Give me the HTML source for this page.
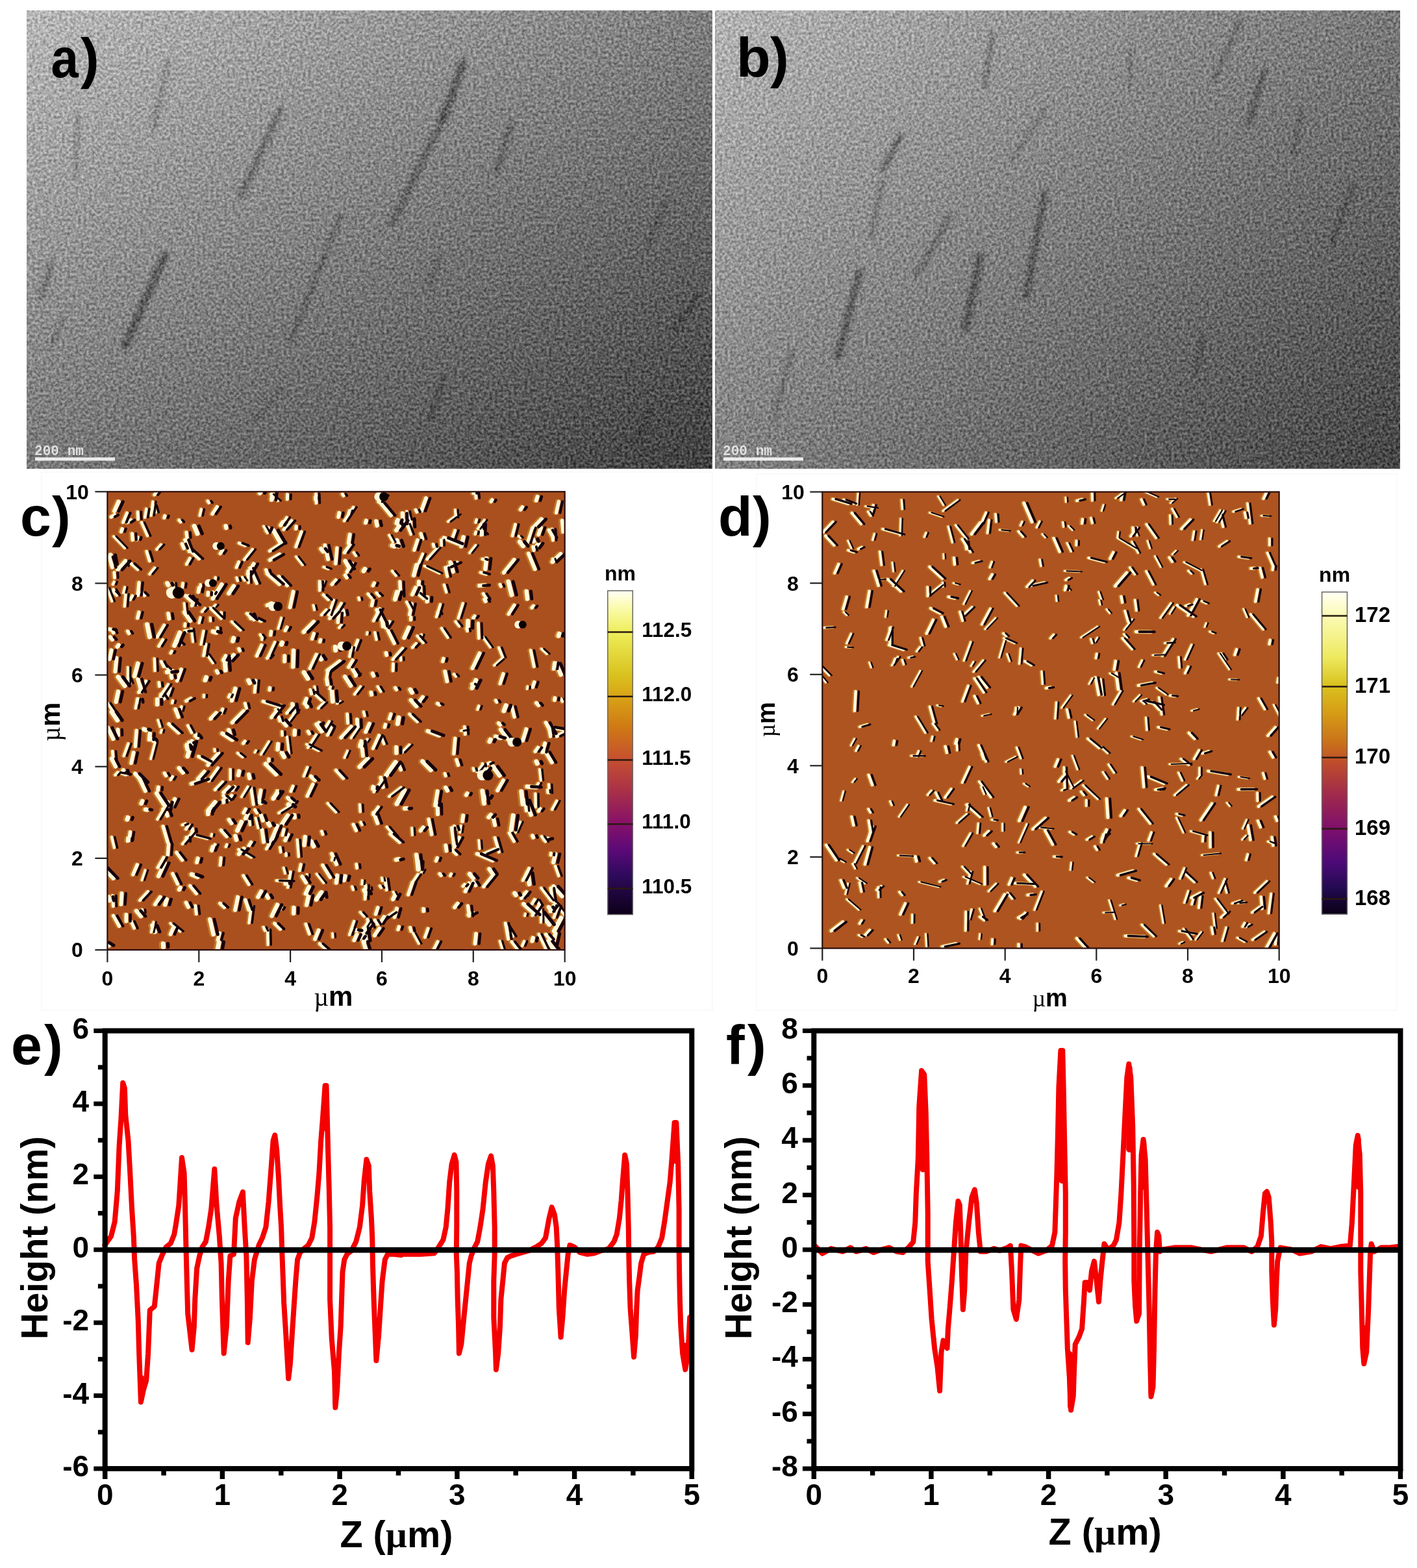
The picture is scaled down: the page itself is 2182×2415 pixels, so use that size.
<!DOCTYPE html>
<html><head><meta charset="utf-8"><title>Figure</title>
<style>html,body{margin:0;padding:0;background:#fff;} svg{display:block;}</style>
</head><body>
<svg xmlns="http://www.w3.org/2000/svg" width="2182" height="2415" viewBox="0 0 2182 2415">
<defs>
<filter id="blur3" x="-50%" y="-50%" width="200%" height="200%"><feGaussianBlur stdDeviation="3"/></filter>
<filter id="blur2" x="-50%" y="-50%" width="200%" height="200%"><feGaussianBlur stdDeviation="2"/></filter>
<filter id="soft" x="-5%" y="-5%" width="110%" height="110%"><feGaussianBlur stdDeviation="0.6"/></filter>
<linearGradient id="temA" gradientUnits="userSpaceOnUse" x1="41" y1="17" x2="631.6" y2="1001.3"><stop offset="0" stop-color="#b8b8b8"/><stop offset="1" stop-color="#404040"/></linearGradient>
<linearGradient id="temB" gradientUnits="userSpaceOnUse" x1="1101" y1="17" x2="1837.5" y2="968.5"><stop offset="0" stop-color="#b4b4b4"/><stop offset="1" stop-color="#454545"/></linearGradient>
<filter id="nA" filterUnits="userSpaceOnUse" x="41" y="16" width="1056" height="706" color-interpolation-filters="sRGB">
<feTurbulence type="fractalNoise" baseFrequency="0.24" numOctaves="2" seed="5" result="t"/>
<feColorMatrix in="t" type="matrix" values="1 0 0 0 0  1 0 0 0 0  1 0 0 0 0  0 0 0 0 1" result="g"/>
<feComposite in="SourceGraphic" in2="g" operator="arithmetic" k1="0" k2="1" k3="0.55" k4="-0.275"/>
</filter>
<filter id="nB" filterUnits="userSpaceOnUse" x="1101" y="16" width="1055" height="706" color-interpolation-filters="sRGB">
<feTurbulence type="fractalNoise" baseFrequency="0.24" numOctaves="2" seed="9" result="t"/>
<feColorMatrix in="t" type="matrix" values="1 0 0 0 0  1 0 0 0 0  1 0 0 0 0  0 0 0 0 1" result="g"/>
<feComposite in="SourceGraphic" in2="g" operator="arithmetic" k1="0" k2="1" k3="0.55" k4="-0.275"/>
</filter>
<linearGradient id="cbc" x1="0" y1="0" x2="0" y2="1">
<stop offset="0" stop-color="#fffff4"/>
<stop offset="0.05" stop-color="#fbfbb0"/>
<stop offset="0.128" stop-color="#eeee5a"/>
<stop offset="0.26" stop-color="#d9c21e"/>
<stop offset="0.33" stop-color="#d9a216"/>
<stop offset="0.42" stop-color="#cf7a14"/>
<stop offset="0.52" stop-color="#c65030"/>
<stop offset="0.62" stop-color="#a83048"/>
<stop offset="0.72" stop-color="#86106a"/>
<stop offset="0.80" stop-color="#5c0a78"/>
<stop offset="0.88" stop-color="#2e0a5c"/>
<stop offset="1" stop-color="#0c0018"/>
</linearGradient>
<linearGradient id="cbd" x1="0" y1="0" x2="0" y2="1">
<stop offset="0" stop-color="#fffff4"/>
<stop offset="0.07" stop-color="#fbfbb8"/>
<stop offset="0.20" stop-color="#eeea60"/>
<stop offset="0.29" stop-color="#d9c21e"/>
<stop offset="0.38" stop-color="#d69a16"/>
<stop offset="0.47" stop-color="#c9701a"/>
<stop offset="0.53" stop-color="#bf4c2c"/>
<stop offset="0.63" stop-color="#a02a4c"/>
<stop offset="0.74" stop-color="#7c0e6e"/>
<stop offset="0.84" stop-color="#4c0a78"/>
<stop offset="0.92" stop-color="#220a50"/>
<stop offset="1" stop-color="#0a0014"/>
</linearGradient>
</defs>
<rect x="0" y="0" width="2182" height="2415" fill="#fff"/>
<g filter="url(#nA)">
<rect x="41" y="16" width="1056" height="706" fill="url(#temA)"/>
<g clip-path="url(#cliptemA)">
<line x1="713" y1="97" x2="683" y2="181" stroke="#202020" stroke-width="12" stroke-linecap="round" opacity="0.47" filter="url(#blur3)"/>
<line x1="683" y1="181" x2="604" y2="344" stroke="#202020" stroke-width="10" stroke-linecap="round" opacity="0.38" filter="url(#blur3)"/>
<line x1="432" y1="169" x2="371" y2="302" stroke="#202020" stroke-width="9" stroke-linecap="round" opacity="0.38" filter="url(#blur3)"/>
<line x1="254" y1="393" x2="193" y2="532" stroke="#202020" stroke-width="12" stroke-linecap="round" opacity="0.47" filter="url(#blur3)"/>
<line x1="525" y1="332" x2="447" y2="525" stroke="#202020" stroke-width="7" stroke-linecap="round" opacity="0.34" filter="url(#blur3)"/>
<line x1="260" y1="91" x2="236" y2="199" stroke="#202020" stroke-width="6" stroke-linecap="round" opacity="0.30" filter="url(#blur3)"/>
<line x1="788" y1="187" x2="764" y2="266" stroke="#202020" stroke-width="7" stroke-linecap="round" opacity="0.38" filter="url(#blur3)"/>
<line x1="79" y1="405" x2="63" y2="459" stroke="#202020" stroke-width="8" stroke-linecap="round" opacity="0.34" filter="url(#blur3)"/>
<line x1="1027" y1="308" x2="997" y2="375" stroke="#202020" stroke-width="6" stroke-linecap="round" opacity="0.34" filter="url(#blur3)"/>
<line x1="1075" y1="453" x2="1039" y2="507" stroke="#202020" stroke-width="8" stroke-linecap="round" opacity="0.38" filter="url(#blur3)"/>
<line x1="683" y1="580" x2="664" y2="646" stroke="#202020" stroke-width="7" stroke-linecap="round" opacity="0.38" filter="url(#blur3)"/>
<line x1="1003" y1="628" x2="979" y2="683" stroke="#202020" stroke-width="6" stroke-linecap="round" opacity="0.34" filter="url(#blur3)"/>
<line x1="676" y1="393" x2="661" y2="441" stroke="#202020" stroke-width="6" stroke-linecap="round" opacity="0.34" filter="url(#blur3)"/>
<line x1="121" y1="175" x2="115" y2="272" stroke="#202020" stroke-width="6" stroke-linecap="round" opacity="0.26" filter="url(#blur3)"/>
<line x1="435" y1="598" x2="393" y2="646" stroke="#202020" stroke-width="5" stroke-linecap="round" opacity="0.26" filter="url(#blur3)"/>
<line x1="97" y1="489" x2="79" y2="532" stroke="#202020" stroke-width="5" stroke-linecap="round" opacity="0.26" filter="url(#blur3)"/>
</g>
</g>
<clipPath id="cliptemA"><rect x="41" y="16" width="1056" height="706"/></clipPath>
<text transform="translate(78.5,119) scale(0.885,1)" font-family="'Liberation Sans', Arial, Helvetica, sans-serif" font-size="86" font-weight="bold">a</text>
<text x="124.0" y="119.0" font-family="'Liberation Sans', Arial, Helvetica, sans-serif" font-size="86" font-weight="bold" text-anchor="start" fill="#000" >)</text>
<rect x="54" y="704.5" width="123" height="5" fill="#f2f2f2" opacity="0.95"/>
<text x="53" y="700.5" font-family="'Liberation Mono', 'Courier New', monospace" font-size="22" font-weight="bold" fill="#e8e8e8" opacity="0.92" textLength="76" lengthAdjust="spacingAndGlyphs">200 nm</text>
<g filter="url(#nB)">
<rect x="1101" y="16" width="1055" height="706" fill="url(#temB)"/>
<g clip-path="url(#cliptemB)">
<line x1="1388" y1="209" x2="1359" y2="261" stroke="#202020" stroke-width="9" stroke-linecap="round" opacity="0.42" filter="url(#blur3)"/>
<line x1="1359" y1="278" x2="1342" y2="365" stroke="#202020" stroke-width="6" stroke-linecap="round" opacity="0.34" filter="url(#blur3)"/>
<line x1="1324" y1="418" x2="1290" y2="551" stroke="#202020" stroke-width="10" stroke-linecap="round" opacity="0.47" filter="url(#blur3)"/>
<line x1="1464" y1="331" x2="1412" y2="423" stroke="#202020" stroke-width="7" stroke-linecap="round" opacity="0.38" filter="url(#blur3)"/>
<line x1="1609" y1="296" x2="1580" y2="458" stroke="#202020" stroke-width="9" stroke-linecap="round" opacity="0.47" filter="url(#blur3)"/>
<line x1="1510" y1="394" x2="1487" y2="505" stroke="#202020" stroke-width="11" stroke-linecap="round" opacity="0.47" filter="url(#blur3)"/>
<line x1="1609" y1="168" x2="1557" y2="249" stroke="#202020" stroke-width="5" stroke-linecap="round" opacity="0.30" filter="url(#blur3)"/>
<line x1="1946" y1="110" x2="1923" y2="191" stroke="#202020" stroke-width="8" stroke-linecap="round" opacity="0.42" filter="url(#blur3)"/>
<line x1="1911" y1="29" x2="1870" y2="122" stroke="#202020" stroke-width="6" stroke-linecap="round" opacity="0.34" filter="url(#blur3)"/>
<line x1="1528" y1="52" x2="1516" y2="133" stroke="#202020" stroke-width="7" stroke-linecap="round" opacity="0.34" filter="url(#blur3)"/>
<line x1="1742" y1="75" x2="1739" y2="133" stroke="#202020" stroke-width="6" stroke-linecap="round" opacity="0.34" filter="url(#blur3)"/>
<line x1="2085" y1="284" x2="2050" y2="377" stroke="#202020" stroke-width="7" stroke-linecap="round" opacity="0.38" filter="url(#blur3)"/>
<line x1="2004" y1="168" x2="1992" y2="238" stroke="#202020" stroke-width="6" stroke-linecap="round" opacity="0.34" filter="url(#blur3)"/>
<line x1="1853" y1="516" x2="1841" y2="575" stroke="#202020" stroke-width="6" stroke-linecap="round" opacity="0.38" filter="url(#blur3)"/>
<line x1="1220" y1="540" x2="1191" y2="644" stroke="#202020" stroke-width="6" stroke-linecap="round" opacity="0.30" filter="url(#blur3)"/>
</g>
</g>
<clipPath id="cliptemB"><rect x="1101" y="16" width="1055" height="706"/></clipPath>
<text x="1134.0" y="118.0" font-family="'Liberation Sans', Arial, Helvetica, sans-serif" font-size="86" font-weight="bold" text-anchor="start" fill="#000" >b</text>
<text x="1186.0" y="118.0" font-family="'Liberation Sans', Arial, Helvetica, sans-serif" font-size="86" font-weight="bold" text-anchor="start" fill="#000" >)</text>
<rect x="1114" y="704.5" width="123" height="5" fill="#f2f2f2" opacity="0.95"/>
<text x="1113" y="700.5" font-family="'Liberation Mono', 'Courier New', monospace" font-size="22" font-weight="bold" fill="#e8e8e8" opacity="0.92" textLength="76" lengthAdjust="spacingAndGlyphs">200 nm</text>
<rect x="64" y="727" width="1033" height="829" fill="none" stroke="#f5f5f5" stroke-width="1.2"/>
<rect x="165.4" y="757.3" width="704.3" height="705.7" fill="#aa501e"/>
<clipPath id="clipafm11"><rect x="165.4" y="757.3" width="704.3" height="705.7"/></clipPath>
<g clip-path="url(#clipafm11)"><g filter="url(#soft)">
<path d="M842.1 1220.9L841.7 1216.7M556.1 1361.8L556.7 1355.9M564 976.9L564.5 973.9M410.8 820.9L404.9 810.6M529.3 1166.9L533.9 1156.4M245.3 1119.2L242.1 1109.1M192.9 871.8L192.2 863.8M733.4 1188.7L741.8 1177.8M427.7 1097.6L422.8 1092.4M810.7 1060.9L811.2 1057.3M539.4 1136.6L550.7 1119.9M792.8 1281.9L800 1265.9M800.1 828.1L797.3 825.6M561.6 1142.9L564.6 1138.5M284 945L282.5 929.3M464.8 870L454.9 857.4M851.3 865.5L849.6 860.6M327.9 934.9L330.8 931.5M722 851.6L731.4 839.8M774.3 1468.6L768.4 1449.3M231.6 1435.8L235.3 1420.1M606.6 1378L604.5 1373.8M191.1 844L173.9 826.2M324.3 1287.7L324.9 1284.7M753.8 996.9L742.3 980.9M700.5 797.1L699.9 785.2M231 1168.7L237.4 1143.9M427.2 968.2L432.1 951.6M587.5 1356.6L586.8 1352M400.8 1161.9L413 1142.1M560.4 1427.5L566.1 1418.7M484.7 1067.4L483.3 1057.5M647.2 1344.6L649.8 1339.3M326.7 1021.1L317.1 1007.6M443.8 1160.2L440.8 1134.7M688.8 803.3L704.2 792M511.3 1443.6L510.9 1437.7M497.3 1359.7L486.4 1346.1M258.2 1030.6L252.6 1025.2M760 1024.7L770.8 1015.2M643.7 1453.3L635 1437.3M831.5 1201.8L829.7 1185.1M494.4 903.8L497.3 895.4M391.4 1158.7L393.1 1156M734.5 814.4L744.8 800.9M199.8 1052.2L196.7 1044.4M171.2 926L163.5 905.7M831.8 1420.6L831.3 1399.9M737.3 1307.2L736.2 1294.2M807 1410.5L807.7 1407.4M675.7 882.9L652.4 871.8M645.7 984.5L648 977.4M427 771.2L416 761.2M841 1007L832.6 999.3M396.3 1275.2L392.5 1259.9M438 1345.2L435.5 1336.6M708.8 1125.5L716.8 1123.9M517.9 1083.4L522.9 1080.5M217.4 1355.5L222.5 1340.3M402.1 985.3L402.4 981.6M375.6 894.1L371.8 888.8M707 1282L708.6 1271.7M483 939.2L481.4 932.3M295.9 988.5L293.4 968.4M195.5 1052.7L195.7 1027.8M442.7 1111.5L456.1 1093.5M603.9 834.9L598.1 824.2M633.8 1286.1L633.1 1275.2M509.5 1325.1L510.7 1321M471.4 1352L471.7 1346.8M370.8 1227.4L380.6 1211.6M188.8 913L191 904.4M246.5 1128.4L247.7 1124.3" stroke="#d89a2c" stroke-width="6.0" stroke-linecap="round" opacity="0.55" fill="none"/>
<path d="M441.9 1366.8L446.1 1342.7M309.9 942.1L314.5 937M566.9 1370.9L566.5 1366.7M742.7 1180.4L741.7 1176.1M350.7 1073.8L352.6 1069.8M439.3 1317.9L439 1314.4M731.2 804.6L732.6 800.4M245.2 1072.7L257.7 1054M589.7 1415.5L604.8 1405M650.4 989.7L641.4 979.5M382.2 1421.4L385.5 1395.6M670.7 950L676.8 930.8M238.3 789L235.3 778.5M176.2 1193.6L180 1189.5M617.6 1158.8L629.2 1147.1M458.6 1319.2L456.4 1293.4M560.1 1102.5L558.7 1096.4M631.4 822.8L625.3 807.2M225.8 825.2L216.6 804.7M433.3 1132.6L433 1126.7M175 1098.7L164.3 1083M385.7 1320.3L366 1308.4M329.4 1156.9L329.1 1153.9M237.2 1033.1L236.5 1014.4M172.7 899.9L174.4 896.3M656.3 861.3L672.3 843.7M535 792.2L536.8 786.4M431 1312.3L429.9 1305.1M546.8 855.6L543.5 851M305.2 959.2L307.3 951.1M436.4 802.5L440.4 796.9M383.6 1270.3L381.8 1254.8M428.1 1252.1L444.4 1242.1M686.1 912.1L682.6 900.8M536.9 1439.6L543.8 1419M231.3 793.8L234.1 772.8M447 1357L424.5 1356.2M403 982.2L399.4 977.5M207.6 1090.7L210.2 1076.3M607.2 1288.3L594.4 1273.6M829.2 1392.6L825.4 1386.4M718.4 972L717.4 968.3M520.9 966.7L524.6 962.8M489.4 1155.9L470.9 1146.5M578.3 985.1L576 974.3M478.1 1068.9L476.6 1062.3M559.5 1411.3L553.6 1405M516 1250.6L503.3 1237.3M847.6 1404.1L850.9 1394.4M276.3 1434.3L261.3 1422.2M704.5 952L711.6 929.4M397.9 1236.2L398.5 1231M700.6 1041.5L697.8 1038.4M178.4 917L173.3 907.7M808.8 1248.9L807.1 1232.7M381.2 897.4L380.4 879.6M426.3 1224.4L425.3 1217.9M585.7 1367.3L583.6 1364.4M276.3 1094.8L278.1 1088.3M189.4 1164.1L196.2 1145.4M529 802.3L543 781.1M330 892.8L330.5 889.5M221.9 796.7L224 783.7M364.6 894.4L363.2 889.8M369.2 970.3L355.6 957.6M639.9 875.9L649.8 853.2M493.9 947.1L501.3 939.2M312.5 1073.6L312.7 1070.4M306.3 794L308.6 784.4M616 1016.8L615.8 1012.4M634.3 1358.6L642.3 1346.7M411.4 1455L410.8 1431.8M730.5 822.6L731.5 819.2M838.7 1296.2L832.7 1288.2M279.7 1299.8L295.2 1281.8M374.8 862L387.5 846.1M174.6 1305.5L170.8 1289.3M190.7 933.8L192.2 915.2M744 820.9L740.7 820.4M279.5 1270.6L284 1268.7M728.5 1186.8L727.5 1183.3M574.5 1219.6L586 1203.3M353.4 1200.2L353.3 1184.9M263.8 1082.7L264.7 1079.1M307.7 903.4L307.3 900.3M406.6 1433.2L404.4 1428.1M372.3 1165.8L364.8 1160M322.7 956.3L322.4 951.6M705.9 964.4L700.2 957.3M839.5 1462L828.4 1438.7M504.3 876L497.3 873.4M844.6 1221.2L843.9 1208.3M864.8 1080.5L862.8 1076.5M496.8 1125.8L505.5 1111.3M585.1 1065L580.4 1057.5M504.6 947.2L512.5 924.4M859.1 1348.9L853.7 1334.1M630.3 937.7L624.9 927.2M823.4 1242.8L823.1 1222.6M488.9 1090.8L497.8 1081.8M846.6 1386.7L832.2 1367.7M466.6 1195.3L472.1 1181.8M506.3 1060.8L507.4 1057.8M196.3 1192.4L181.9 1190.2M688.2 981.8L678.7 967.7M678.4 840.1L678 831.5M556.1 1270.2L554.1 1266.4M590 1145.6L585.4 1134.3M802.9 1456.7L805.8 1449.8M738.8 814.5L738.5 807.2M552 923.9L551.1 920.6M229.1 884.2L237 874.7M628.2 800.1L625.2 787.7M472.8 1151.4L485.5 1131.7M734.1 1092.6L736 1087.4M337 950.5L322.6 936.3M308.2 992.3L312.1 972M346.6 1304.1L348.1 1300.9M218.1 1405.3L217.6 1400.9M868.2 1409.4L852.3 1390M542.6 1370.3L541 1365.7M824 1212.6L827.7 1206.5M597.9 1226.7L616.2 1212.9M240 846.2L246.8 838.8M241.3 1261.8L252.9 1242M553.5 1250.2L552.8 1239.2M608.6 886.4L602.7 879.6M318.1 1291.7L297.1 1286M412.3 1010L422 989.1M293.8 1128.4L288 1117.4M544.8 1069.2L553.9 1057.6M266.5 912.4L265.2 897.9M849 1246.6L856.1 1233.5M537 1011.3L539.5 996.9M772.8 1012.5L767 997.6" stroke="#d89a2c" stroke-width="6.5" stroke-linecap="round" opacity="0.55" fill="none"/>
<path d="M435.4 815.7L447.7 802M244 1057.1L243.4 1051.3M454.2 842.1L462.8 819M653 1443.4L657.7 1430.1M504.2 923.4L496.6 916.2M518.2 938.9L524.2 929.3M593.7 1370.4L591.3 1353.4M810.7 836L818.3 813M172.9 1395.7L172.1 1379.6M205.2 1429.5L200.5 1419.3M241.5 1336.2L250.6 1320.5M818.3 1409.8L829 1393.9M817.9 1391.9L821.9 1385.5M641.3 1111.4L629.2 1100M728.2 1056.1L725.1 1053.5M279.3 904.6L280.2 898.5M582.7 917.4L578.4 913.3M548.2 1336.8L547.4 1331.1M377.9 1090.6L376 1083.4M592.4 967.1L598.7 957.4M228.9 864L224.4 849.4M748.7 1176.6L753.5 1174.6M697.1 1300.6L693.9 1275M333.6 970.1L333.3 966.9M285.9 869L291 859.9M820.9 1026.6L815.8 1001.8M770 903.2L768.6 900.2M175 889.8L174.4 881.7M409 1307.3L421 1288M214 1386.6L226.4 1373.4M440.1 1098.3L450.1 1087.1M349.8 1232L342.4 1225.5M570.5 1428.6L564.4 1416.1M429.5 1400.8L431.7 1397.6M243.2 995.2L249.3 985.3M261.4 1200.7L264.2 1196.4M570.5 920.5L565.3 914.8M603.5 1015.6L618.5 998.7M261.5 1005.8L263.1 1003.2M393.9 898.4L383.3 875.1M337.6 1332.6L338.8 1321.2M767 1312.1L760.7 1290.4M459.8 1340.8L461.8 1331.4M433.5 1286.4L435.8 1277.3M474.9 1438.4L469.5 1423.4M573 1152.7L582.3 1132.4M846.1 1134.4L844 1121.1M339 952.4L339.3 943.5M851.5 1413L857.4 1395.5M394.2 1251.9L391.1 1247.1M381.8 1362.1L373.3 1348.6M674.1 945.5L673.1 942.7M475.5 1029.6L485.7 1007.9M714.9 1130.7L713.9 1119.5M731.7 767.2L729.5 748.4M338.8 1098.6L341.4 1092.1M413.9 848.6L433.8 835.6M735.9 982.9L735 959.8M389.5 954.7L378.8 945M495.6 1285L494 1280.5M211.2 799.7L210.7 788.5M240.7 981.1L251.5 962.8M300.9 1407.7L299.4 1395.1M534.1 1113.7L533.3 1099.8M410.1 1013.6L414.5 1009.1M573.9 956.1L583.3 937.7M790.1 1295.8L782.7 1283M320.3 774.2L318.5 771.7M176 914.3L172.4 910.9M603.7 1032.9L604 1022.5M744.3 862.1L741.4 861M276.8 803.8L274.2 801M501.9 1041.8L503.1 1034.5M446.5 1218.8L449.7 1210.9M787.7 825.2L792.1 807.9M744.4 822.7L741.3 822.3M727.3 759.8L727.8 756.4M212.1 1066.3L223.2 1049.2M633.9 997.1L639.3 991.4M376.2 840.3L366.8 836.5M820.6 847.7L819.2 842M748.2 922.4L742.8 914.5M795.7 1462.5L786.4 1450.4M236.5 762.1L239.8 757.8M485.6 774.7L485.1 760.5M441 768.9L441.2 761.6M299.1 1133.4L299.8 1130.4M503 1132.2L508.3 1122M388.8 1239L385 1213.6M210.6 877L200.6 868M325.2 914.7L326.7 912.1M312.1 1009.9L315.4 992.2M763.6 1081.4L761.9 1078.7M173.1 1170.7L171.9 1157.2M329.9 1216.3L341.5 1204.4M845.6 1403.9L854.6 1392.9M362.6 874L366.3 865.6M543.5 1001.4L549.4 986.1M650.9 921.9L641.1 913.6M846.5 1317.1L846.9 1314.1M429.3 1110.2L427.7 1104.2M490.9 909.3L490.7 895.4M285.1 1276.9L289.5 1270.2M849.6 1388.1L846.5 1367.9M320.2 1202.7L334.3 1182.9M640.5 788.6L638.7 785.3M503.6 1464.7L490.8 1453.5M687.4 887.7L684.3 874.3M493.8 1078.4L480 1065.8M691.8 1348.9L693.4 1346.1M283.2 964.4L283.6 960.8M781.2 1446.2L776.8 1421.9M850.1 832L848.7 814.9M256.2 1071.8L260.5 1060.4M666.6 842L665.7 838.3M803.8 1355.9L813.3 1337.3M788.2 1441.9L778 1426.1M199.1 923.4L202.4 917.7M693.8 832.6L699.3 817.1M573.1 1254.2L581.1 1243M711.5 1364.9L714.1 1362.1M684.8 1195L683.7 1191.5M579.9 1423.7L575.8 1417.2M324.8 1310.3L329.7 1300.9M390.8 1066L392.3 1048.1M527.6 763.5L525.9 760.9M188.1 804.4L194.1 790M560.7 1384.7L561.4 1363.5M250.7 1026.7L246.9 1019.1M747.5 884.3L738.6 881.7M664.4 1466.5L672.6 1450.3" stroke="#d89a2c" stroke-width="7.0" stroke-linecap="round" opacity="0.55" fill="none"/>
<path d="M293.9 932.7L296.5 923.4M570.9 932.6L572.5 925M721 1410.7L719 1395.3M801.1 1383.4L809.3 1373.7M743.2 1365.6L758.5 1346.9M273.5 1128.7L258.4 1115M206.7 1149.6L208.7 1125.3M285.3 1079.7L292.6 1075.6M697.7 1304.7L705.6 1290M528.8 851.1L537.6 838.9M440.8 901.8L427.7 888M285.8 1295.9L285.5 1289.9M739.8 823.7L740.8 807.2M629.1 946.6L632.6 930M427.6 1087.8L403.7 1080.3M251.3 1076.1L246.6 1069.3M627 1377.9L633.2 1359.7M412.3 1172L412.5 1169M631 954.4L631.1 950.9M855 789.6L858.8 772.5M290.4 1152.5L285.5 1146.9M699.8 1277.9L697.9 1272.7M325.5 791.5L332.7 780.7M367.6 1002.2L366.4 999.3M631.4 1433.9L630.1 1428.8M491.2 988.5L491.9 985.5M597.8 1107.2L600.3 1099.9M209.1 831.2L210.2 827.7M817.5 936L820.1 933.3M194.6 804.5L200.1 801M281.6 844.6L278.8 837.7M615.3 918.1L614.3 896.1M171.2 874L166.4 857.6M454.3 814.4L454.5 810.8M437.7 971L440.5 966.1M413.5 1062.7L414 1059.5M545.9 1040.9L547.9 1037.9M573 901.9L574.7 898M203.2 1347L209.7 1331.8M337.7 852.5L341.1 847.7M509.8 899.9L515.6 893.5M393.8 1010.2L401.4 993.7M305.1 860.4L288.9 845.8M197 975.5L195 972.3M221 916.9L216.3 912.4M276.6 992.5L271.8 988.4M173.2 974.6L170.8 969.5M605.6 990.9L595.8 971.3M506.3 952.4L515.6 942M343.9 1397.4L337.3 1391.4M279.2 1324.6L270.2 1313M400.7 956.6L391.3 952.2M697.2 1160.9L699.3 1137.2M855.7 1133.8L871.7 1125.6M210.3 951.9L212.4 943M251.3 797.4L252.3 794.5M781.7 945.8L790.3 932.1M479 984L481.7 975.9M256.7 1316.6L258.1 1299.8M289.9 849.2L283.3 831.5M318.5 916.5L318.7 912.4M351.4 1230.8L355.2 1225.2M300.9 1376.2L291 1364.3M333.8 1447.8L336.6 1437.2M576.9 1407.8L580.2 1397.8M535.2 1027.5L541.7 1017M346 1017.6L346.4 1013M818.6 1058.3L821.3 1050.5M202.6 831.5L202 821.9M515.2 868.1L517.4 844M675.2 1085.3L672.2 1083.5M581.5 772.7L590.5 763.2M704 1178.4L701.4 1170.2M342.7 1236L342.3 1232M381.7 1302.6L385.1 1297.2M474.8 1129.8L472.8 1126.7M196.9 1294.5L199 1281.5M430 1430.8L421.3 1422.3M663.2 1285.1L658.5 1261.9M845.5 1446.6L839 1439.1M677.7 1348.3L675.6 1345.9M670 1325.9L671.7 1321.4M649 829.9L646.5 822M256.7 1297.4L249.5 1272.8M636.4 847.2L641.3 831.9M827.5 1249.3L830.3 1245.5M583.1 1422.7L589.8 1411.9M615.7 1185.6L612 1176.2M646.5 915.6L646 902.9M587.9 958.2L578.3 939.2M169.7 796.1L174.7 793M754.7 772.5L756.4 770M416.3 1105L430.7 1086.6M727.3 951.6L729.5 948.9M185 818.9L186.5 814.5M743.1 1315.3L760.1 1308.1M532.4 889.7L529.9 885.9M373.5 1252L376.8 1246.1M613.9 1297.1L599.3 1284.4M471.6 1226.1L480.2 1208M271.1 1048.6L277.7 1030.8M283.1 972.1L289.2 971.6M687.4 873.4L702.7 866.3M546.9 1279L542.5 1269.9M508.4 1119.2L504.8 1116.5M347.6 1288.3L338.9 1278.7M286.3 828L285.5 820M850.9 1030.3L852.3 1020.9M484.2 769.2L484.1 765.9M318.2 1172.8L304.1 1165.1M415.1 978.1L416 972.8M409.4 881.2L408.1 877.8M850.3 828L843.5 816.3M210.6 916.8L212.5 897.2M643.8 1337.7L644.4 1326.8M611.4 1431.7L612.8 1427.3M680.2 1018.7L681.4 1014.3M182 1426.3L173.1 1410.5M608.9 1062L607.1 1059.4M701.3 1315.5L694.8 1309.5M412.1 1299.5L413.8 1296.6M532.5 881L540.4 867.7M448.9 1236.9L450.8 1234.3M590.8 1120L592 1115.9M790.4 1104.2L786.5 1088.3M356.2 1217.2L359.9 1212M254.1 1194.7L251.8 1190.9M527.2 1198.6L515.8 1186.4M342.2 1016.8L345.9 1009.8M373.1 1144.8L375.6 1141.9M381.2 1401.1L376.3 1386.2M507 1351.3L495.4 1332.6M822.7 1157.4L827.1 1151.3M518.6 958.5L519.9 944M272 1361.4L264.3 1345.7M768.6 1052.9L773.5 1037.8" stroke="#d89a2c" stroke-width="7.5" stroke-linecap="round" opacity="0.55" fill="none"/>
<path d="M286.6 1154.2L285.4 1149.8M294.9 1281.4L294.3 1276.8M865.5 818.9L864 801.9M714.8 1372.9L720.6 1360.4M222.1 1218.3L212.7 1198.7M570.4 1069.9L569.7 1066.5M171.2 970.4L166.6 969M852.3 1078.1L852.8 1075.1M746 926.2L744.5 923.4M642.8 900.2L643.2 895.8M827.6 1086.3L824.3 1082.8M827.5 823.3L831.3 812.7M848.4 1129.8L838.9 1113.1M685.8 1310.5L684.6 1302.1M166.9 1015L169.8 1001.5M397.8 1228.5L399.8 1217.3M192.6 1418.7L192.7 1408.8M237.1 1392.9L245.1 1381.6M805 1378.9L806.7 1376M234 1141L232.2 1138.1M725.7 1029.2L736.9 1006.1M241.5 1216.8L242.1 1212.4M800 784.8L802.7 781.2M483.4 1446.4L488.9 1432.9M716.2 1224.5L717.9 1221.9M698.4 1397.4L703.1 1391.7M865.9 1123.2L845.9 1119.7M557.1 1164L554.6 1141.4M527.7 946.8L526.3 940M260.9 1438.8L264.8 1429.8M523.6 1136L539.1 1119.5M292.9 1207.1L313.5 1200M322.7 1107L331.4 1097.9M303.7 911.8L304.9 905.4M729.8 1453.3L731.3 1438.3M436.5 1018.6L436.6 1010.2M546.7 1039.7L541.1 1030.9M502.6 1053.9L501.3 1045.8M644.1 1080.6L649.4 1073.6M561.4 1127.2L567.2 1114.6M822 876.4L812.1 852.6M756.8 1325.3L733.1 1315.1M253 1247.2L249.2 1246.5M645.9 1279.4L650.1 1274.4M668.3 1240.6L672 1218.5M414 862.5L428.9 853.9M575.1 1440.7L582.5 1429.9M819.6 1289.8L818.3 1287.2M552.5 1445.3L554.7 1442M774.1 881.9L790.1 862.2M318.5 1178.2L334.5 1160.2M444.8 935.4L449.9 911.4M354.8 1267.9L350.9 1262.4M686.7 1049.3L683.5 1034.2M446 1233L441.3 1228.8M403.1 1263.6L400.1 1255.5M579.7 1268L573.7 1251.7M556.7 1437.4L567.2 1423M647 787L654.3 767.3M633.3 915.6L638.2 905M833.5 1158.4L837.5 1144.8M300 931.4L284.5 918M192.2 1192.6L185.6 1190.1M262.6 1044.1L261.7 1040.3M503.4 861.4L498.6 839.9M380 883.9L389 868.5M719.7 1409.2L726.8 1405.8M467.3 1083.3L470.1 1076.1M301.3 1328.2L303 1322.1M519.4 796.1L520.7 790M404.3 1296.8L401.7 1278.1M650.6 1403.2L650.5 1400.1M593.5 1008.9L592.8 1005.7M430.3 809L433.5 804.3M428.6 899.6L409.9 883.6M534.9 836.5L537 823.2M409 817.6L410.9 813.1M333.6 1036.1L332 1033.5M561.3 805.1L562.3 801.9M469.6 1359.4L463.7 1350M176.3 1180.6L170 1168.5M588 1212.2L584.5 1197.6M261.6 1242.9L267.6 1230.6M324.3 1309.4L325.8 1304.3M200.4 1175.2L203.9 1159.2M180.1 1132.2L179.8 1123.8M360.4 1401.7L364.5 1381.6M216.1 1065.5L210.5 1045.8M437.5 1294.4L441.7 1285.5M768.6 1116.2L766.1 1113.9M736.4 902.1L745.8 901.2M273 1104.2L268.4 1092.3M803.2 1140.6L808.8 1123M195.1 1294.9L195.5 1291.3M573.6 1040.8L572 1037.2M212.3 1081.5L211.7 1077M730.6 1363.5L726.8 1358.1M516.3 1331.1L509.2 1315M672.3 1253.9L671.8 1238.2M302.9 1200L313.1 1188.4M605.7 1412.5L609.3 1399.4M600.2 793.6L584.6 774.8M710.2 1265L711.5 1255.9M171.3 984.9L168 981.2M184.7 1392.8L185.7 1376.1M175.7 1034.2L177.6 1013.6M258.7 952.9L257.4 945M416 1294.3L425.4 1271.9M543.6 1448.2L547.7 1439.3M288.3 1397L284.9 1390.3M764.4 1217.4L773.4 1202M355.9 1112.8L373.4 1095.1M858 979.3L859.2 975.9M824 771L826 764.8M548.7 1120.5L548.2 1108.3M848.1 1174.2L838.7 1158.4M342.5 1220.7L351.1 1212.3M409.7 932.2L416.5 929.2M760.4 1270.9L758.3 1261.2" stroke="#d89a2c" stroke-width="8.0" stroke-linecap="round" opacity="0.55" fill="none"/>
<path d="M487.6 1117.8L489.4 1113.6M750.5 1258.7L754 1254.9M836.8 1292.8L842.2 1291.7M621.2 1245.2L625.2 1245M470.2 1393.9L473.4 1379.3M350.4 914.1L358.2 902.6M291.2 956.1L282.1 942.9M482.7 1201.5L477.2 1196M848.9 1456.2L853.2 1437.9M527.8 1355.8L529.6 1349.5M537 876L529.7 864M493.3 1126.3L485.5 1115.6M563.5 1468.8L557.6 1450.3M561.6 1448.8L558.8 1429.8M687.1 1217.5L684.5 1213.1M548.5 1433.1L543.5 1432.3M355.9 1139.4L340.5 1129.7M215.3 1411.1L208.2 1402.9M242.2 1349.4L251.6 1329.1M620.7 982.2L627.7 966.6M817.8 1449.3L818.8 1444.6M376 1260.8L377.7 1256.6M362.3 1293.4L360.5 1287.7M516 1359.4L517.3 1348.4M279.9 1189.9L273.8 1183M382.6 1198.5L381.3 1192.9M449.3 1026.9L450.1 1002M848.8 865.3L861.4 853.4M618.4 806.5L617.9 790.7M274.3 1370.1L275.8 1367.2M432.3 1269.4L441.3 1255.7M756.6 1345.6L751.5 1338.4M172.4 1137.9L164.2 1120.9M608.3 816.7L619.4 801.7M655.9 926.2L656.3 920.1M252.4 1393.4L254.8 1385M301.9 1136.4L299.8 1133.2M815.7 1255L806.8 1232.5M326.7 1439.2L321.4 1416M630.2 811.4L629.4 799M174.2 787L180.7 772.7M292.6 923.9L288.4 918.4M325.8 921.8L339.6 900.2M861.8 1039.1L854.4 1021.9M502.8 1032.7L521.1 1018.8M355.2 1078.9L360.4 1060.6M824.8 1212.4L809.8 1211.5M822.6 1408.6L804.4 1392.5M494.7 1381.9L493.4 1374.2M395.5 1381.5L400.4 1372.9M635.4 886.1L639.3 870.4M439 1117.3L431.5 1108.8M466.5 1301.6L468 1289M437.7 1361L437.4 1357.4M608.7 805.8L610.5 800.9M251.3 1240.1L239.3 1221.8M215.6 1237.6L217.3 1233.8M465.9 973.4L481.3 957.7M708.3 841.4L711.7 827.2M608.2 1324.2L612.7 1323.1M538.3 1056L529.4 1042.2M470.9 1088.4L468.5 1082.9M495.9 849.4L492.5 845.2M639.4 1087.7L630.9 1078.4M450.5 1097.4L448.5 1084.5M858.5 979.4L859.6 976.1M172.7 1352.6L155 1334.3M674.5 1132.6L656.8 1126M451.6 1131.4L451.9 1125.3M228.1 1139L228.8 1129.8M225.2 1247.3L222.1 1246.7M641.9 1339.2L639.3 1316.5M739.3 1192.3L747.1 1183.2M572.1 1214.9L572.8 1211.8M588 964.4L587.6 958.8M189 1189.8L188 1186.4M468.7 1376.3L473.7 1365.9M608.6 1159.6L608.5 1151M416.4 769.7L417.6 759.8M578.7 809.4L577.5 802.7M365.9 1315.3L373.7 1307.2M179.5 877.4L191.6 864.2M845 1399.9L842.9 1397.1M350 1017.6L358.1 1008.9M262.8 914.1L259.7 909.8M365 1193.9L366.4 1187.8M166.6 1387L165.4 1381.3M178.8 996L180.8 993.7M425.7 1154.3L426.4 1145.9M820.7 811.2L832 799.7M603.4 1384.8L607.3 1377.3M219.2 1204.7L206.4 1191.8M416.8 1410.6L425.2 1393.5M320.3 1249.1L321 1245.5M176.7 1081L180.2 1065.1M318.5 1253.8L318.5 1250.8M781 1139.4L769.1 1123.7M745.5 876.3L747.2 860.2M695.7 880.4L691.5 866.2M810.3 922.3L808.8 910.8M850.3 1328.1L853.2 1315.5M822 843.9L827.3 837M240.3 1084.9L240.3 1077.2M205.2 1041.4L210.4 1021.8M451.8 1259.1L451.3 1255.5M411.1 1382.7L408.4 1378.3M255.7 1256.1L254.7 1252.9M612.7 811.6L609.4 803.3M346.5 813.1L345.8 810.1M703.4 837.3L681.9 828.6M769.1 1136.6L761.2 1134.3M450.4 1406.8L450.5 1398" stroke="#d89a2c" stroke-width="8.5" stroke-linecap="round" opacity="0.55" fill="none"/>
<path d="M228.4 980.9L224.5 961.9M610.3 1114.7L611.9 1105.3M785.9 916.1L780.8 895.9M445.6 1242.5L442.1 1239.2M430.4 836.5L419 817M851.2 1433.8L861.9 1413.8M551.8 1181.1L564.3 1168.6M413.2 1271.2L411.1 1268M743.4 1237.4L740.8 1218.3M266.5 994.3L274.8 974.5M431.4 992.6L432.5 989.8M302 821.8L297.1 810.3M292.4 1144L289.3 1143.9M331.1 974.2L326 972.7M302.5 1350.5L293.2 1346.8M418.9 1229.8L426.2 1219.2M255.4 1035.1L264.2 1034.1M252.9 1249.4L255.8 1235.7M193.9 1262.1L195 1259.2M726.6 1352.2L721.3 1346.1M314 1047.5L315.6 1043.3M249.5 1458.6L249.2 1453.4M492.5 1015.3L488.7 1009.8M854 1465.7L841.7 1449.9M746.5 1229L748.6 1225.9M773.9 1094.9L777.1 1086.5M435.6 1165.8L432 1159.3M767.2 1194.2L757.1 1180.5M178.8 1109.3L170 1096.5M222.4 1124.4L219.6 1123.1M844 1423.8L829.3 1405.5M514.7 1001.5L514.2 996.5M236.5 1435.1L232.6 1425.6M632.5 1066.5L629.8 1062.2M724.9 1059.7L730.8 1047.7M751.8 1142.2L753.3 1139.1M171 868.9L168.2 854.9M423.2 1192.4L407.2 1176.7M356.5 987.4L357.7 982.9M398.3 759.3L400.1 756.8M190.1 1056.2L179.9 1042.7M718.3 967.4L718.7 956.6M661.5 1185.7L648.6 1172.8M165.6 1456L158.9 1451.9M352.2 1131.2L350.3 1124.6M802.9 1238.3L800.8 1219M592.6 1194.1L607.1 1173.9M510.3 1080.2L509 1064.3M318.5 1248.7L329.2 1235.7M825.3 1175.9L823.9 1173M552.5 1149.2L553.4 1145.5M472 1045L466 1035.6M286.8 1164.9L293.5 1141.9M480.9 1303.3L476.9 1296M605.4 841.3L601.7 840.2M562.2 1376.3L558.7 1371.1M608.9 1238.2L620.7 1217M792.4 1378.4L790.6 1375.9M399.8 1236.7L397.1 1234.6M558 879.3L560 876.5M863.5 1380L850.4 1365.5M785.1 1278.1L788.2 1256.1M382.6 1051.8L380.6 1047.9M332 1467.6L335.2 1450.8M606.3 923.2L609.3 911.9M363.5 1279.3L369.7 1266M257 901L255.6 898.3M813.1 1361.7L810.8 1344.8M803.7 840.9L798.4 834.5M612.2 841.3L609.1 832.4M819.8 833.5L818.6 830.5M485.1 1385.3L491.2 1376.4M384.6 951.8L382.3 946M345.2 1032.3L343.8 1015.7" stroke="#d89a2c" stroke-width="9.0" stroke-linecap="round" opacity="0.55" fill="none"/>
<path d="M843.3 1220.9L842.9 1216.7M557.3 1361.8L557.9 1355.9M565.2 976.9L565.7 973.9M412 820.9L406.1 810.6M530.5 1166.9L535.1 1156.4M246.5 1119.2L243.3 1109.1M194.1 871.8L193.4 863.8M734.6 1188.7L743 1177.8M428.9 1097.6L424 1092.4M811.9 1060.9L812.4 1057.3M540.6 1136.6L551.9 1119.9M794 1281.9L801.2 1265.9M801.3 828.1L798.5 825.6M562.8 1142.9L565.8 1138.5M285.2 945L283.7 929.3M466 870L456.1 857.4M852.5 865.5L850.8 860.6M329.1 934.9L332 931.5M723.2 851.6L732.6 839.8M775.5 1468.6L769.6 1449.3M232.8 1435.8L236.5 1420.1M607.8 1378L605.7 1373.8M192.3 844L175.1 826.2M325.5 1287.7L326.1 1284.7M755 996.9L743.5 980.9M701.7 797.1L701.1 785.2M232.2 1168.7L238.6 1143.9M428.4 968.2L433.3 951.6M588.7 1356.6L588 1352M402 1161.9L414.2 1142.1M561.6 1427.5L567.3 1418.7M485.9 1067.4L484.5 1057.5M648.4 1344.6L651 1339.3M327.9 1021.1L318.3 1007.6M445 1160.2L442 1134.7M690 803.3L705.4 792M512.5 1443.6L512.1 1437.7M498.5 1359.7L487.6 1346.1M259.4 1030.6L253.8 1025.2M761.2 1024.7L772 1015.2M644.9 1453.3L636.2 1437.3M832.7 1201.8L830.9 1185.1M495.6 903.8L498.5 895.4M392.6 1158.7L394.3 1156M735.7 814.4L746 800.9M201 1052.2L197.9 1044.4M172.4 926L164.7 905.7M833 1420.6L832.5 1399.9M738.5 1307.2L737.4 1294.2M808.2 1410.5L808.9 1407.4M676.9 882.9L653.6 871.8M646.9 984.5L649.2 977.4M428.2 771.2L417.2 761.2M842.2 1007L833.8 999.3M397.5 1275.2L393.7 1259.9M439.2 1345.2L436.7 1336.6M710 1125.5L718 1123.9M519.1 1083.4L524.1 1080.5M218.6 1355.5L223.7 1340.3M403.3 985.3L403.6 981.6M376.8 894.1L373 888.8M708.2 1282L709.8 1271.7M484.2 939.2L482.6 932.3M297.1 988.5L294.6 968.4M196.7 1052.7L196.9 1027.8M443.9 1111.5L457.3 1093.5M605.1 834.9L599.3 824.2M635 1286.1L634.3 1275.2M510.7 1325.1L511.9 1321M472.6 1352L472.9 1346.8M372 1227.4L381.8 1211.6M190 913L192.2 904.4M247.7 1128.4L248.9 1124.3" stroke="#fff8dc" stroke-width="4.0" stroke-linecap="round" fill="none"/>
<path d="M443.3 1366.8L447.5 1342.7M311.2 942.1L315.9 937M568.3 1370.9L567.8 1366.7M744 1180.4L743 1176.1M352 1073.8L353.9 1069.8M440.7 1317.9L440.4 1314.4M732.6 804.6L733.9 800.4M246.5 1072.7L259.1 1054M591 1415.5L606.1 1405M651.8 989.7L642.7 979.5M383.6 1421.4L386.9 1395.6M672.1 950L678.1 930.8M239.6 789L236.7 778.5M177.5 1193.6L181.4 1189.5M619 1158.8L630.6 1147.1M459.9 1319.2L457.8 1293.4M561.5 1102.5L560 1096.4M632.7 822.8L626.6 807.2M227.1 825.2L218 804.7M434.7 1132.6L434.4 1126.7M176.4 1098.7L165.7 1083M387 1320.3L367.4 1308.4M330.8 1156.9L330.5 1153.9M238.6 1033.1L237.9 1014.4M174 899.9L175.7 896.3M657.7 861.3L673.6 843.7M536.3 792.2L538.1 786.4M432.4 1312.3L431.2 1305.1M548.2 855.6L544.8 851M306.6 959.2L308.7 951.1M437.8 802.5L441.7 796.9M385 1270.3L383.2 1254.8M429.5 1252.1L445.7 1242.1M687.4 912.1L684 900.8M538.2 1439.6L545.2 1419M232.6 793.8L235.5 772.8M448.3 1357L425.9 1356.2M404.4 982.2L400.7 977.5M208.9 1090.7L211.6 1076.3M608.5 1288.3L595.8 1273.6M830.5 1392.6L826.7 1386.4M719.7 972L718.7 968.3M522.3 966.7L526 962.8M490.7 1155.9L472.3 1146.5M579.7 985.1L577.4 974.3M479.4 1068.9L477.9 1062.3M560.9 1411.3L555 1405M517.4 1250.6L504.7 1237.3M849 1404.1L852.2 1394.4M277.6 1434.3L262.6 1422.2M705.8 952L712.9 929.4M399.3 1236.2L399.9 1231M702 1041.5L699.1 1038.4M179.7 917L174.7 907.7M810.2 1248.9L808.4 1232.7M382.5 897.4L381.8 879.6M427.7 1224.4L426.7 1217.9M587.1 1367.3L585 1364.4M277.6 1094.8L279.5 1088.3M190.8 1164.1L197.6 1145.4M530.3 802.3L544.3 781.1M331.3 892.8L331.9 889.5M223.2 796.7L225.4 783.7M366 894.4L364.6 889.8M370.5 970.3L357 957.6M641.3 875.9L651.1 853.2M495.2 947.1L502.6 939.2M313.9 1073.6L314.1 1070.4M307.7 794L309.9 784.4M617.4 1016.8L617.2 1012.4M635.6 1358.6L643.6 1346.7M412.7 1455L412.1 1431.8M731.8 822.6L732.8 819.2M840 1296.2L834.1 1288.2M281.1 1299.8L296.6 1281.8M376.1 862L388.9 846.1M176 1305.5L172.1 1289.3M192 933.8L193.5 915.2M745.4 820.9L742.1 820.4M280.9 1270.6L285.4 1268.7M729.8 1186.8L728.8 1183.3M575.8 1219.6L587.4 1203.3M354.7 1200.2L354.7 1184.9M265.2 1082.7L266.1 1079.1M309.1 903.4L308.7 900.3M407.9 1433.2L405.8 1428.1M373.6 1165.8L366.1 1160M324.1 956.3L323.8 951.6M707.2 964.4L701.6 957.3M840.8 1462L829.7 1438.7M505.6 876L498.6 873.4M846 1221.2L845.2 1208.3M866.1 1080.5L864.1 1076.5M498.2 1125.8L506.9 1111.3M586.5 1065L581.8 1057.5M506 947.2L513.9 924.4M860.4 1348.9L855.1 1334.1M631.6 937.7L626.2 927.2M824.7 1242.8L824.5 1222.6M490.3 1090.8L499.1 1081.8M848 1386.7L833.5 1367.7M467.9 1195.3L473.4 1181.8M507.6 1060.8L508.7 1057.8M197.7 1192.4L183.3 1190.2M689.5 981.8L680.1 967.7M679.8 840.1L679.4 831.5M557.5 1270.2L555.5 1266.4M591.3 1145.6L586.8 1134.3M804.2 1456.7L807.2 1449.8M740.2 814.5L739.9 807.2M553.3 923.9L552.5 920.6M230.5 884.2L238.4 874.7M629.6 800.1L626.6 787.7M474.2 1151.4L486.8 1131.7M735.5 1092.6L737.4 1087.4M338.3 950.5L323.9 936.3M309.6 992.3L313.5 972M347.9 1304.1L349.4 1300.9M219.5 1405.3L218.9 1400.9M869.6 1409.4L853.6 1390M544 1370.3L542.4 1365.7M825.4 1212.6L829 1206.5M599.3 1226.7L617.5 1212.9M241.4 846.2L248.1 838.8M242.6 1261.8L254.3 1242M554.8 1250.2L554.1 1239.2M609.9 886.4L604.1 879.6M319.5 1291.7L298.4 1286M413.7 1010L423.3 989.1M295.2 1128.4L289.3 1117.4M546.2 1069.2L555.3 1057.6M267.9 912.4L266.5 897.9M850.3 1246.6L857.4 1233.5M538.3 1011.3L540.9 996.9M774.2 1012.5L768.3 997.6" stroke="#fff8dc" stroke-width="4.5" stroke-linecap="round" fill="none"/>
<path d="M436.9 815.7L449.2 802M245.5 1057.1L244.9 1051.3M455.7 842.1L464.3 819M654.5 1443.4L659.2 1430.1M505.7 923.4L498.1 916.2M519.7 938.9L525.7 929.3M595.2 1370.4L592.8 1353.4M812.2 836L819.8 813M174.4 1395.7L173.6 1379.6M206.7 1429.5L202 1419.3M243 1336.2L252.1 1320.5M819.8 1409.8L830.5 1393.9M819.4 1391.9L823.4 1385.5M642.8 1111.4L630.7 1100M729.7 1056.1L726.6 1053.5M280.8 904.6L281.7 898.5M584.2 917.4L579.9 913.3M549.7 1336.8L548.9 1331.1M379.4 1090.6L377.5 1083.4M593.9 967.1L600.2 957.4M230.4 864L225.9 849.4M750.2 1176.6L755 1174.6M698.6 1300.6L695.4 1275M335.1 970.1L334.8 966.9M287.4 869L292.5 859.9M822.4 1026.6L817.3 1001.8M771.5 903.2L770.1 900.2M176.5 889.8L175.9 881.7M410.5 1307.3L422.5 1288M215.5 1386.6L227.9 1373.4M441.6 1098.3L451.6 1087.1M351.3 1232L343.9 1225.5M572 1428.6L565.9 1416.1M431 1400.8L433.2 1397.6M244.7 995.2L250.8 985.3M262.9 1200.7L265.7 1196.4M572 920.5L566.8 914.8M605 1015.6L620 998.7M263 1005.8L264.6 1003.2M395.4 898.4L384.8 875.1M339.1 1332.6L340.3 1321.2M768.5 1312.1L762.2 1290.4M461.3 1340.8L463.3 1331.4M435 1286.4L437.3 1277.3M476.4 1438.4L471 1423.4M574.5 1152.7L583.8 1132.4M847.6 1134.4L845.5 1121.1M340.5 952.4L340.8 943.5M853 1413L858.9 1395.5M395.7 1251.9L392.6 1247.1M383.3 1362.1L374.8 1348.6M675.6 945.5L674.6 942.7M477 1029.6L487.2 1007.9M716.4 1130.7L715.4 1119.5M733.2 767.2L731 748.4M340.3 1098.6L342.9 1092.1M415.4 848.6L435.3 835.6M737.4 982.9L736.5 959.8M391 954.7L380.3 945M497.1 1285L495.5 1280.5M212.7 799.7L212.2 788.5M242.2 981.1L253 962.8M302.4 1407.7L300.9 1395.1M535.6 1113.7L534.8 1099.8M411.6 1013.6L416 1009.1M575.4 956.1L584.8 937.7M791.6 1295.8L784.2 1283M321.8 774.2L320 771.7M177.5 914.3L173.9 910.9M605.2 1032.9L605.5 1022.5M745.8 862.1L742.9 861M278.3 803.8L275.7 801M503.4 1041.8L504.6 1034.5M448 1218.8L451.2 1210.9M789.2 825.2L793.6 807.9M745.9 822.7L742.8 822.3M728.8 759.8L729.3 756.4M213.6 1066.3L224.7 1049.2M635.4 997.1L640.8 991.4M377.7 840.3L368.3 836.5M822.1 847.7L820.7 842M749.7 922.4L744.3 914.5M797.2 1462.5L787.9 1450.4M238 762.1L241.3 757.8M487.1 774.7L486.6 760.5M442.5 768.9L442.7 761.6M300.6 1133.4L301.3 1130.4M504.5 1132.2L509.8 1122M390.3 1239L386.5 1213.6M212.1 877L202.1 868M326.7 914.7L328.2 912.1M313.6 1009.9L316.9 992.2M765.1 1081.4L763.4 1078.7M174.6 1170.7L173.4 1157.2M331.4 1216.3L343 1204.4M847.1 1403.9L856.1 1392.9M364.1 874L367.8 865.6M545 1001.4L550.9 986.1M652.4 921.9L642.6 913.6M848 1317.1L848.4 1314.1M430.8 1110.2L429.2 1104.2M492.4 909.3L492.2 895.4M286.6 1276.9L291 1270.2M851.1 1388.1L848 1367.9M321.7 1202.7L335.8 1182.9M642 788.6L640.2 785.3M505.1 1464.7L492.3 1453.5M688.9 887.7L685.8 874.3M495.3 1078.4L481.5 1065.8M693.3 1348.9L694.9 1346.1M284.7 964.4L285.1 960.8M782.7 1446.2L778.3 1421.9M851.6 832L850.2 814.9M257.7 1071.8L262 1060.4M668.1 842L667.2 838.3M805.3 1355.9L814.8 1337.3M789.7 1441.9L779.5 1426.1M200.6 923.4L203.9 917.7M695.3 832.6L700.8 817.1M574.6 1254.2L582.6 1243M713 1364.9L715.6 1362.1M686.3 1195L685.2 1191.5M581.4 1423.7L577.3 1417.2M326.3 1310.3L331.2 1300.9M392.3 1066L393.8 1048.1M529.1 763.5L527.4 760.9M189.6 804.4L195.6 790M562.2 1384.7L562.9 1363.5M252.2 1026.7L248.4 1019.1M749 884.3L740.1 881.7M665.9 1466.5L674.1 1450.3" stroke="#fff8dc" stroke-width="5.0" stroke-linecap="round" fill="none"/>
<path d="M295.6 932.7L298.2 923.4M572.6 932.6L574.1 925M722.6 1410.7L720.6 1395.3M802.7 1383.4L810.9 1373.7M744.9 1365.6L760.1 1346.9M275.2 1128.7L260.1 1115M208.4 1149.6L210.3 1125.3M286.9 1079.7L294.3 1075.6M699.3 1304.7L707.3 1290M530.5 851.1L539.3 838.9M442.4 901.8L429.4 888M287.4 1295.9L287.2 1289.9M741.4 823.7L742.4 807.2M630.7 946.6L634.2 930M429.3 1087.8L405.4 1080.3M252.9 1076.1L248.2 1069.3M628.7 1377.9L634.9 1359.7M413.9 1172L414.1 1169M632.7 954.4L632.8 950.9M856.7 789.6L860.5 772.5M292.1 1152.5L287.2 1146.9M701.4 1277.9L699.6 1272.7M327.1 791.5L334.4 780.7M369.3 1002.2L368 999.3M633 1433.9L631.8 1428.8M492.8 988.5L493.6 985.5M599.5 1107.2L602 1099.9M210.7 831.2L211.9 827.7M819.1 936L821.7 933.3M196.3 804.5L201.7 801M283.3 844.6L280.4 837.7M616.9 918.1L615.9 896.1M172.9 874L168.1 857.6M455.9 814.4L456.1 810.8M439.3 971L442.1 966.1M415.2 1062.7L415.6 1059.5M547.6 1040.9L549.6 1037.9M574.6 901.9L576.4 898M204.9 1347L211.4 1331.8M339.3 852.5L342.7 847.7M511.4 899.9L517.3 893.5M395.5 1010.2L403 993.7M306.7 860.4L290.5 845.8M198.6 975.5L196.6 972.3M222.7 916.9L217.9 912.4M278.2 992.5L273.5 988.4M174.8 974.6L172.4 969.5M607.3 990.9L597.4 971.3M507.9 952.4L517.3 942M345.6 1397.4L339 1391.4M280.8 1324.6L271.9 1313M402.3 956.6L393 952.2M698.9 1160.9L700.9 1137.2M857.3 1133.8L873.4 1125.6M211.9 951.9L214 943M253 797.4L254 794.5M783.3 945.8L792 932.1M480.7 984L483.3 975.9M258.4 1316.6L259.7 1299.8M291.6 849.2L284.9 831.5M320.2 916.5L320.4 912.4M353 1230.8L356.9 1225.2M302.6 1376.2L292.7 1364.3M335.4 1447.8L338.2 1437.2M578.6 1407.8L581.9 1397.8M536.9 1027.5L543.3 1017M347.6 1017.6L348.1 1013M820.3 1058.3L823 1050.5M204.3 831.5L203.6 821.9M516.9 868.1L519 844M676.9 1085.3L673.8 1083.5M583.1 772.7L592.2 763.2M705.7 1178.4L703 1170.2M344.3 1236L343.9 1232M383.3 1302.6L386.8 1297.2M476.4 1129.8L474.5 1126.7M198.6 1294.5L200.6 1281.5M431.7 1430.8L422.9 1422.3M664.8 1285.1L660.2 1261.9M847.1 1446.6L840.6 1439.1M679.3 1348.3L677.2 1345.9M671.6 1325.9L673.4 1321.4M650.6 829.9L648.2 822M258.4 1297.4L251.2 1272.8M638 847.2L643 831.9M829.2 1249.3L831.9 1245.5M584.7 1422.7L591.4 1411.9M617.4 1185.6L613.6 1176.2M648.1 915.6L647.6 902.9M589.5 958.2L580 939.2M171.3 796.1L176.4 793M756.3 772.5L758 770M418 1105L432.3 1086.6M729 951.6L731.1 948.9M186.7 818.9L188.2 814.5M744.8 1315.3L761.8 1308.1M534.1 889.7L531.5 885.9M375.1 1252L378.4 1246.1M615.6 1297.1L601 1284.4M473.2 1226.1L481.8 1208M272.8 1048.6L279.3 1030.8M284.7 972.1L290.8 971.6M689.1 873.4L704.3 866.3M548.5 1279L544.2 1269.9M510 1119.2L506.4 1116.5M349.2 1288.3L340.5 1278.7M288 828L287.1 820M852.6 1030.3L853.9 1020.9M485.9 769.2L485.8 765.9M319.9 1172.8L305.8 1165.1M416.8 978.1L417.6 972.8M411 881.2L409.7 877.8M852 828L845.2 816.3M212.3 916.8L214.1 897.2M645.5 1337.7L646 1326.8M613.1 1431.7L614.5 1427.3M681.8 1018.7L683.1 1014.3M183.7 1426.3L174.7 1410.5M610.6 1062L608.8 1059.4M702.9 1315.5L696.5 1309.5M413.7 1299.5L415.4 1296.6M534.2 881L542 867.7M450.6 1236.9L452.5 1234.3M592.4 1120L593.6 1115.9M792.1 1104.2L788.1 1088.3M357.9 1217.2L361.5 1212M255.8 1194.7L253.4 1190.9M528.8 1198.6L517.5 1186.4M343.8 1016.8L347.6 1009.8M374.8 1144.8L377.3 1141.9M382.9 1401.1L377.9 1386.2M508.6 1351.3L497 1332.6M824.3 1157.4L828.7 1151.3M520.3 958.5L521.5 944M273.6 1361.4L266 1345.7M770.2 1052.9L775.1 1037.8" stroke="#fff8dc" stroke-width="5.5" stroke-linecap="round" fill="none"/>
<path d="M288.4 1154.2L287.2 1149.8M296.7 1281.4L296.1 1276.8M867.3 818.9L865.8 801.9M716.6 1372.9L722.4 1360.4M223.9 1218.3L214.5 1198.7M572.2 1069.9L571.5 1066.5M173 970.4L168.4 969M854.1 1078.1L854.6 1075.1M747.8 926.2L746.3 923.4M644.6 900.2L645 895.8M829.4 1086.3L826.1 1082.8M829.3 823.3L833.1 812.7M850.2 1129.8L840.7 1113.1M687.6 1310.5L686.4 1302.1M168.7 1015L171.6 1001.5M399.6 1228.5L401.6 1217.3M194.4 1418.7L194.5 1408.8M238.9 1392.9L246.9 1381.6M806.8 1378.9L808.5 1376M235.8 1141L234 1138.1M727.5 1029.2L738.7 1006.1M243.3 1216.8L243.9 1212.4M801.8 784.8L804.5 781.2M485.2 1446.4L490.7 1432.9M718 1224.5L719.7 1221.9M700.2 1397.4L704.9 1391.7M867.7 1123.2L847.7 1119.7M558.9 1164L556.4 1141.4M529.5 946.8L528.1 940M262.7 1438.8L266.6 1429.8M525.4 1136L540.9 1119.5M294.7 1207.1L315.3 1200M324.5 1107L333.2 1097.9M305.5 911.8L306.7 905.4M731.6 1453.3L733.1 1438.3M438.3 1018.6L438.4 1010.2M548.5 1039.7L542.9 1030.9M504.4 1053.9L503.1 1045.8M645.9 1080.6L651.2 1073.6M563.2 1127.2L569 1114.6M823.8 876.4L813.9 852.6M758.6 1325.3L734.9 1315.1M254.8 1247.2L251 1246.5M647.7 1279.4L651.9 1274.4M670.1 1240.6L673.8 1218.5M415.8 862.5L430.7 853.9M576.9 1440.7L584.3 1429.9M821.4 1289.8L820.1 1287.2M554.3 1445.3L556.5 1442M775.9 881.9L791.9 862.2M320.3 1178.2L336.3 1160.2M446.6 935.4L451.7 911.4M356.6 1267.9L352.7 1262.4M688.5 1049.3L685.3 1034.2M447.8 1233L443.1 1228.8M404.9 1263.6L401.9 1255.5M581.5 1268L575.5 1251.7M558.5 1437.4L569 1423M648.8 787L656.1 767.3M635.1 915.6L640 905M835.3 1158.4L839.3 1144.8M301.8 931.4L286.3 918M194 1192.6L187.4 1190.1M264.4 1044.1L263.5 1040.3M505.2 861.4L500.4 839.9M381.8 883.9L390.8 868.5M721.5 1409.2L728.6 1405.8M469.1 1083.3L471.9 1076.1M303.1 1328.2L304.8 1322.1M521.2 796.1L522.5 790M406.1 1296.8L403.5 1278.1M652.4 1403.2L652.3 1400.1M595.3 1008.9L594.6 1005.7M432.1 809L435.3 804.3M430.4 899.6L411.7 883.6M536.7 836.5L538.8 823.2M410.8 817.6L412.7 813.1M335.4 1036.1L333.8 1033.5M563.1 805.1L564.1 801.9M471.4 1359.4L465.5 1350M178.1 1180.6L171.8 1168.5M589.8 1212.2L586.3 1197.6M263.4 1242.9L269.4 1230.6M326.1 1309.4L327.6 1304.3M202.2 1175.2L205.7 1159.2M181.9 1132.2L181.6 1123.8M362.2 1401.7L366.3 1381.6M217.9 1065.5L212.3 1045.8M439.3 1294.4L443.5 1285.5M770.4 1116.2L767.9 1113.9M738.2 902.1L747.6 901.2M274.8 1104.2L270.2 1092.3M805 1140.6L810.6 1123M196.9 1294.9L197.3 1291.3M575.4 1040.8L573.8 1037.2M214.1 1081.5L213.5 1077M732.4 1363.5L728.6 1358.1M518.1 1331.1L511 1315M674.1 1253.9L673.6 1238.2M304.7 1200L314.9 1188.4M607.5 1412.5L611.1 1399.4M602 793.6L586.4 774.8M712 1265L713.3 1255.9M173.1 984.9L169.8 981.2M186.5 1392.8L187.5 1376.1M177.5 1034.2L179.4 1013.6M260.5 952.9L259.2 945M417.8 1294.3L427.2 1271.9M545.4 1448.2L549.5 1439.3M290.1 1397L286.7 1390.3M766.2 1217.4L775.2 1202M357.7 1112.8L375.2 1095.1M859.8 979.3L861 975.9M825.8 771L827.8 764.8M550.5 1120.5L550 1108.3M849.9 1174.2L840.5 1158.4M344.3 1220.7L352.9 1212.3M411.5 932.2L418.3 929.2M762.2 1270.9L760.1 1261.2" stroke="#fff8dc" stroke-width="6.0" stroke-linecap="round" fill="none"/>
<path d="M489.5 1117.8L491.3 1113.6M752.5 1258.7L756 1254.9M838.8 1292.8L844.1 1291.7M623.2 1245.2L627.1 1245M472.1 1393.9L475.3 1379.3M352.4 914.1L360.1 902.6M293.1 956.1L284.1 942.9M484.7 1201.5L479.1 1196M850.9 1456.2L855.2 1437.9M529.8 1355.8L531.5 1349.5M538.9 876L531.7 864M495.2 1126.3L487.5 1115.6M565.4 1468.8L559.6 1450.3M563.5 1448.8L560.7 1429.8M689 1217.5L686.4 1213.1M550.5 1433.1L545.5 1432.3M357.9 1139.4L342.5 1129.7M217.2 1411.1L210.1 1402.9M244.2 1349.4L253.6 1329.1M622.6 982.2L629.7 966.6M819.7 1449.3L820.8 1444.6M378 1260.8L379.6 1256.6M364.2 1293.4L362.4 1287.7M518 1359.4L519.2 1348.4M281.9 1189.9L275.8 1183M384.5 1198.5L383.2 1192.9M451.3 1026.9L452.1 1002M850.7 865.3L863.4 853.4M620.4 806.5L619.9 790.7M276.2 1370.1L277.7 1367.2M434.2 1269.4L443.3 1255.7M758.5 1345.6L753.5 1338.4M174.4 1137.9L166.1 1120.9M610.3 816.7L621.4 801.7M657.8 926.2L658.3 920.1M254.3 1393.4L256.8 1385M303.9 1136.4L301.8 1133.2M817.7 1255L808.7 1232.5M328.7 1439.2L323.3 1416M632.2 811.4L631.4 799M176.2 787L182.7 772.7M294.5 923.9L290.4 918.4M327.7 921.8L341.5 900.2M863.8 1039.1L856.3 1021.9M504.7 1032.7L523.1 1018.8M357.1 1078.9L362.4 1060.6M826.7 1212.4L811.7 1211.5M824.5 1408.6L806.4 1392.5M496.6 1381.9L495.4 1374.2M397.4 1381.5L402.3 1372.9M637.3 886.1L641.3 870.4M440.9 1117.3L433.4 1108.8M468.5 1301.6L469.9 1289M439.7 1361L439.4 1357.4M610.7 805.8L612.5 800.9M253.2 1240.1L241.2 1221.8M217.6 1237.6L219.3 1233.8M467.8 973.4L483.3 957.7M710.3 841.4L713.7 827.2M610.1 1324.2L614.6 1323.1M540.2 1056L531.3 1042.2M472.8 1088.4L470.5 1082.9M497.8 849.4L494.5 845.2M641.4 1087.7L632.8 1078.4M452.4 1097.4L450.5 1084.5M860.4 979.4L861.6 976.1M174.6 1352.6L156.9 1334.3M676.4 1132.6L658.8 1126M453.6 1131.4L453.9 1125.3M230 1139L230.8 1129.8M227.2 1247.3L224 1246.7M643.9 1339.2L641.3 1316.5M741.3 1192.3L749 1183.2M574.1 1214.9L574.8 1211.8M589.9 964.4L589.5 958.8M190.9 1189.8L189.9 1186.4M470.7 1376.3L475.7 1365.9M610.5 1159.6L610.4 1151M418.3 769.7L419.6 759.8M580.7 809.4L579.4 802.7M367.9 1315.3L375.6 1307.2M181.5 877.4L193.5 864.2M846.9 1399.9L844.9 1397.1M351.9 1017.6L360 1008.9M264.7 914.1L261.7 909.8M367 1193.9L368.4 1187.8M168.6 1387L167.3 1381.3M180.8 996L182.7 993.7M427.6 1154.3L428.3 1145.9M822.7 811.2L834 799.7M605.3 1384.8L609.3 1377.3M221.2 1204.7L208.3 1191.8M418.7 1410.6L427.2 1393.5M322.2 1249.1L322.9 1245.5M178.7 1081L182.1 1065.1M320.4 1253.8L320.5 1250.8M783 1139.4L771.1 1123.7M747.4 876.3L749.2 860.2M697.6 880.4L693.5 866.2M812.2 922.3L810.8 910.8M852.2 1328.1L855.2 1315.5M824 843.9L829.3 837M242.3 1084.9L242.3 1077.2M207.1 1041.4L212.4 1021.8M453.7 1259.1L453.3 1255.5M413 1382.7L410.3 1378.3M257.7 1256.1L256.7 1252.9M614.6 811.6L611.4 803.3M348.4 813.1L347.7 810.1M705.4 837.3L683.9 828.6M771.1 1136.6L763.2 1134.3M452.3 1406.8L452.5 1398" stroke="#fff8dc" stroke-width="6.5" stroke-linecap="round" fill="none"/>
<path d="M230.5 980.9L226.6 961.9M612.4 1114.7L614 1105.3M788 916.1L782.9 895.9M447.7 1242.5L444.2 1239.2M432.5 836.5L421.1 817M853.3 1433.8L864 1413.8M553.9 1181.1L566.4 1168.6M415.3 1271.2L413.2 1268M745.5 1237.4L742.9 1218.3M268.6 994.3L276.9 974.5M433.5 992.6L434.6 989.8M304.1 821.8L299.2 810.3M294.5 1144L291.4 1143.9M333.2 974.2L328.1 972.7M304.6 1350.5L295.3 1346.8M421 1229.8L428.3 1219.2M257.5 1035.1L266.3 1034.1M255 1249.4L257.9 1235.7M196 1262.1L197.1 1259.2M728.7 1352.2L723.4 1346.1M316.1 1047.5L317.7 1043.3M251.6 1458.6L251.3 1453.4M494.6 1015.3L490.8 1009.8M856.1 1465.7L843.8 1449.9M748.6 1229L750.7 1225.9M776 1094.9L779.2 1086.5M437.7 1165.8L434.1 1159.3M769.3 1194.2L759.2 1180.5M180.9 1109.3L172.1 1096.5M224.5 1124.4L221.7 1123.1M846.1 1423.8L831.4 1405.5M516.8 1001.5L516.3 996.5M238.6 1435.1L234.7 1425.6M634.6 1066.5L631.9 1062.2M727 1059.7L732.9 1047.7M753.9 1142.2L755.4 1139.1M173.1 868.9L170.3 854.9M425.3 1192.4L409.3 1176.7M358.6 987.4L359.8 982.9M400.4 759.3L402.2 756.8M192.2 1056.2L182 1042.7M720.4 967.4L720.8 956.6M663.6 1185.7L650.7 1172.8M167.7 1456L161 1451.9M354.3 1131.2L352.4 1124.6M805 1238.3L802.9 1219M594.7 1194.1L609.2 1173.9M512.4 1080.2L511.1 1064.3M320.6 1248.7L331.3 1235.7M827.4 1175.9L826 1173M554.6 1149.2L555.5 1145.5M474.1 1045L468.1 1035.6M288.9 1164.9L295.6 1141.9M483 1303.3L479 1296M607.5 841.3L603.8 840.2M564.3 1376.3L560.8 1371.1M611 1238.2L622.8 1217M794.5 1378.4L792.7 1375.9M401.9 1236.7L399.2 1234.6M560.1 879.3L562.1 876.5M865.6 1380L852.5 1365.5M787.2 1278.1L790.3 1256.1M384.7 1051.8L382.7 1047.9M334.1 1467.6L337.3 1450.8M608.4 923.2L611.4 911.9M365.6 1279.3L371.8 1266M259.1 901L257.7 898.3M815.2 1361.7L812.9 1344.8M805.8 840.9L800.5 834.5M614.3 841.3L611.2 832.4M821.9 833.5L820.7 830.5M487.2 1385.3L493.3 1376.4M386.7 951.8L384.4 946M347.3 1032.3L345.9 1015.7" stroke="#fff8dc" stroke-width="7.0" stroke-linecap="round" fill="none"/>
<path d="M847.4 1220.9L847 1216.7M561.4 1361.8L562 1355.9M569.4 976.9L569.8 973.9M416.1 820.9L410.3 810.6M534.6 1166.9L539.2 1156.4M250.6 1119.2L247.4 1109.1M198.2 871.8L197.5 863.8M738.7 1188.7L747.2 1177.8M433 1097.6L428.1 1092.4M816 1060.9L816.5 1057.3M544.8 1136.6L556.1 1119.9M798.1 1281.9L805.3 1265.9M805.4 828.1L802.6 825.6M566.9 1142.9L569.9 1138.5M289.4 945L287.8 929.3M470.1 870L460.2 857.4M856.7 865.5L854.9 860.6M333.2 934.9L336.1 931.5M727.3 851.6L736.7 839.8M779.6 1468.6L773.7 1449.3M236.9 1435.8L240.6 1420.1M612 1378L609.8 1373.8M196.4 844L179.2 826.2M329.6 1287.7L330.2 1284.7M759.1 996.9L747.6 980.9M705.8 797.1L705.2 785.2M236.4 1168.7L242.8 1143.9M432.6 968.2L437.4 951.6M592.9 1356.6L592.1 1352M406.1 1161.9L418.3 1142.1M565.8 1427.5L571.4 1418.7M490 1067.4L488.7 1057.5M652.5 1344.6L655.1 1339.3M332 1021.1L322.5 1007.6M449.1 1160.2L446.1 1134.7M694.2 803.3L709.5 792M516.6 1443.6L516.2 1437.7M502.6 1359.7L491.7 1346.1M263.5 1030.6L257.9 1025.2M765.3 1024.7L776.1 1015.2M649.1 1453.3L640.3 1437.3M836.8 1201.8L835.1 1185.1M499.7 903.8L502.6 895.4M396.7 1158.7L398.4 1156M739.9 814.4L750.1 800.9M205.1 1052.2L202 1044.4M176.6 926L168.8 905.7M837.1 1420.6L836.6 1399.9M742.6 1307.2L741.5 1294.2M812.3 1410.5L813 1407.4M681.1 882.9L657.7 871.8M651 984.5L653.3 977.4M432.4 771.2L421.3 761.2M846.4 1007L837.9 999.3M401.6 1275.2L397.8 1259.9M443.3 1345.2L440.8 1336.6M714.1 1125.5L722.1 1123.9M523.2 1083.4L528.2 1080.5M222.7 1355.5L227.9 1340.3M407.5 985.3L407.7 981.6M381 894.1L377.2 888.8M712.3 1282L713.9 1271.7M488.4 939.2L486.7 932.3M301.2 988.5L298.7 968.4M200.8 1052.7L201 1027.8M448 1111.5L461.4 1093.5M609.2 834.9L603.4 824.2M639.1 1286.1L638.4 1275.2M514.8 1325.1L516 1321M476.8 1352L477 1346.8M376.2 1227.4L385.9 1211.6M194.1 913L196.3 904.4M251.9 1128.4L253 1124.3" stroke="#160408" stroke-width="3.0" stroke-linecap="round" fill="none"/>
<path d="M447.9 1366.8L452.1 1342.7M315.9 942.1L320.5 937M572.9 1370.9L572.5 1366.7M748.6 1180.4L747.7 1176.1M356.7 1073.8L358.5 1069.8M445.3 1317.9L445 1314.4M737.2 804.6L738.5 800.4M251.2 1072.7L263.7 1054M595.6 1415.5L610.7 1405M656.4 989.7L647.3 979.5M388.2 1421.4L391.5 1395.6M676.7 950L682.7 930.8M244.3 789L241.3 778.5M182.2 1193.6L186 1189.5M623.6 1158.8L635.2 1147.1M464.5 1319.2L462.4 1293.4M566.1 1102.5L564.7 1096.4M637.4 822.8L631.3 807.2M231.8 825.2L222.6 804.7M439.3 1132.6L439 1126.7M181 1098.7L170.3 1083M391.7 1320.3L372 1308.4M335.4 1156.9L335.1 1153.9M243.2 1033.1L242.5 1014.4M178.7 899.9L180.4 896.3M662.3 861.3L678.3 843.7M541 792.2L542.7 786.4M437 1312.3L435.9 1305.1M552.8 855.6L549.4 851M311.2 959.2L313.3 951.1M442.4 802.5L446.4 796.9M389.6 1270.3L387.8 1254.8M434.1 1252.1L450.4 1242.1M692.1 912.1L688.6 900.8M542.8 1439.6L549.8 1419M237.3 793.8L240.1 772.8M453 1357L430.5 1356.2M409 982.2L405.3 977.5M213.6 1090.7L216.2 1076.3M613.2 1288.3L600.4 1273.6M835.1 1392.6L831.3 1386.4M724.4 972L723.4 968.3M526.9 966.7L530.6 962.8M495.4 1155.9L476.9 1146.5M584.3 985.1L582 974.3M484.1 1068.9L482.6 1062.3M565.5 1411.3L559.6 1405M522 1250.6L509.3 1237.3M853.6 1404.1L856.9 1394.4M282.3 1434.3L267.2 1422.2M710.4 952L717.5 929.4M403.9 1236.2L404.5 1231M706.6 1041.5L703.7 1038.4M184.4 917L179.3 907.7M814.8 1248.9L813.1 1232.7M387.2 897.4L386.4 879.6M432.3 1224.4L431.3 1217.9M591.7 1367.3L589.6 1364.4M282.2 1094.8L284.1 1088.3M195.4 1164.1L202.2 1145.4M535 802.3L549 781.1M336 892.8L336.5 889.5M227.9 796.7L230 783.7M370.6 894.4L369.2 889.8M375.2 970.3L361.6 957.6M645.9 875.9L655.7 853.2M499.9 947.1L507.2 939.2M318.5 1073.6L318.7 1070.4M312.3 794L314.5 784.4M622 1016.8L621.8 1012.4M640.3 1358.6L648.3 1346.7M417.3 1455L416.7 1431.8M736.5 822.6L737.4 819.2M844.7 1296.2L838.7 1288.2M285.7 1299.8L301.2 1281.8M380.7 862L393.5 846.1M180.6 1305.5L176.8 1289.3M196.6 933.8L198.2 915.2M750 820.9L746.7 820.4M285.5 1270.6L290 1268.7M734.5 1186.8L733.5 1183.3M580.5 1219.6L592 1203.3M359.3 1200.2L359.3 1184.9M269.8 1082.7L270.7 1079.1M313.7 903.4L313.3 900.3M412.6 1433.2L410.4 1428.1M378.3 1165.8L370.8 1160M328.7 956.3L328.4 951.6M711.9 964.4L706.2 957.3M845.5 1462L834.4 1438.7M510.3 876L503.3 873.4M850.6 1221.2L849.8 1208.3M870.7 1080.5L868.8 1076.5M502.8 1125.8L511.5 1111.3M591.1 1065L586.4 1057.5M510.6 947.2L518.5 924.4M865.1 1348.9L859.7 1334.1M636.3 937.7L630.9 927.2M829.4 1242.8L829.1 1222.6M494.9 1090.8L503.8 1081.8M852.6 1386.7L838.2 1367.7M472.5 1195.3L478 1181.8M512.3 1060.8L513.4 1057.8M202.3 1192.4L187.9 1190.2M694.2 981.8L684.7 967.7M684.4 840.1L684 831.5M562.1 1270.2L560.1 1266.4M596 1145.6L591.4 1134.3M808.9 1456.7L811.8 1449.8M744.8 814.5L744.5 807.2M558 923.9L557.1 920.6M235.1 884.2L243 874.7M634.2 800.1L631.2 787.7M478.8 1151.4L491.5 1131.7M740.1 1092.6L742 1087.4M343 950.5L328.6 936.3M314.2 992.3L318.1 972M352.6 1304.1L354 1300.9M224.1 1405.3L223.5 1400.9M874.2 1409.4L858.3 1390M548.6 1370.3L547 1365.7M830 1212.6L833.6 1206.5M603.9 1226.7L622.1 1212.9M246 846.2L252.7 838.8M247.2 1261.8L258.9 1242M559.5 1250.2L558.8 1239.2M614.6 886.4L608.7 879.6M324.1 1291.7L303.1 1286M418.3 1010L427.9 989.1M299.8 1128.4L294 1117.4M550.8 1069.2L559.9 1057.6M272.5 912.4L271.2 897.9M854.9 1246.6L862 1233.5M542.9 1011.3L545.5 996.9M778.8 1012.5L773 997.6" stroke="#160408" stroke-width="3.4" stroke-linecap="round" fill="none"/>
<path d="M442.1 815.7L454.4 802M250.7 1057.1L250 1051.3M460.8 842.1L469.4 819M659.6 1443.4L664.3 1430.1M510.9 923.4L503.2 916.2M524.8 938.9L530.8 929.3M600.3 1370.4L597.9 1353.4M817.3 836L824.9 813M179.5 1395.7L178.8 1379.6M211.9 1429.5L207.2 1419.3M248.1 1336.2L257.2 1320.5M824.9 1409.8L835.6 1393.9M824.6 1391.9L828.6 1385.5M647.9 1111.4L635.8 1100M734.9 1056.1L731.8 1053.5M285.9 904.6L286.9 898.5M589.4 917.4L585 913.3M554.8 1336.8L554 1331.1M384.5 1090.6L382.7 1083.4M599 967.1L605.4 957.4M235.6 864L231 849.4M755.4 1176.6L760.1 1174.6M703.8 1300.6L700.6 1275M340.3 970.1L339.9 966.9M292.5 869L297.7 859.9M827.6 1026.6L822.5 1001.8M776.6 903.2L775.2 900.2M181.7 889.8L181.1 881.7M415.7 1307.3L427.7 1288M220.7 1386.6L233.1 1373.4M446.8 1098.3L456.7 1087.1M356.4 1232L349.1 1225.5M577.2 1428.6L571 1416.1M436.1 1400.8L438.4 1397.6M249.8 995.2L256 985.3M268.1 1200.7L270.8 1196.4M577.1 920.5L572 914.8M610.1 1015.6L625.2 998.7M268.2 1005.8L269.7 1003.2M400.5 898.4L390 875.1M344.3 1332.6L345.5 1321.2M773.6 1312.1L767.4 1290.4M466.4 1340.8L468.4 1331.4M440.1 1286.4L442.5 1277.3M481.5 1438.4L476.1 1423.4M579.7 1152.7L589 1132.4M852.8 1134.4L850.6 1121.1M345.6 952.4L345.9 943.5M858.1 1413L864.1 1395.5M400.9 1251.9L397.8 1247.1M388.4 1362.1L380 1348.6M680.8 945.5L679.7 942.7M482.1 1029.6L492.3 1007.9M721.5 1130.7L720.6 1119.5M738.3 767.2L736.1 748.4M345.5 1098.6L348.1 1092.1M420.6 848.6L440.5 835.6M742.5 982.9L741.7 959.8M396.2 954.7L385.5 945M502.3 1285L500.7 1280.5M217.9 799.7L217.3 788.5M247.3 981.1L258.2 962.8M307.5 1407.7L306 1395.1M540.8 1113.7L540 1099.8M416.8 1013.6L421.1 1009.1M580.6 956.1L590 937.7M796.8 1295.8L789.4 1283M326.9 774.2L325.2 771.7M182.7 914.3L179.1 910.9M610.4 1032.9L610.6 1022.5M751 862.1L748.1 861M283.4 803.8L280.8 801M508.6 1041.8L509.7 1034.5M453.1 1218.8L456.4 1210.9M794.4 825.2L798.7 807.9M751.1 822.7L747.9 822.3M733.9 759.8L734.5 756.4M218.8 1066.3L229.8 1049.2M640.6 997.1L645.9 991.4M382.9 840.3L373.5 836.5M827.3 847.7L825.8 842M754.8 922.4L749.4 914.5M802.4 1462.5L793 1450.4M243.2 762.1L246.5 757.8M492.3 774.7L491.7 760.5M447.6 768.9L447.9 761.6M305.7 1133.4L306.4 1130.4M509.7 1132.2L514.9 1122M395.4 1239L391.7 1213.6M217.3 877L207.2 868M331.8 914.7L333.4 912.1M318.8 1009.9L322.1 992.2M770.3 1081.4L768.5 1078.7M179.7 1170.7L178.5 1157.2M336.6 1216.3L348.1 1204.4M852.2 1403.9L861.2 1392.9M369.3 874L373 865.6M550.2 1001.4L556.1 986.1M657.5 921.9L647.7 913.6M853.1 1317.1L853.6 1314.1M436 1110.2L434.3 1104.2M497.6 909.3L497.3 895.4M291.8 1276.9L296.2 1270.2M856.2 1388.1L853.2 1367.9M326.8 1202.7L341 1182.9M647.2 788.6L645.4 785.3M510.3 1464.7L497.5 1453.5M694.1 887.7L691 874.3M500.5 1078.4L486.6 1065.8M698.4 1348.9L700 1346.1M289.9 964.4L290.2 960.8M787.9 1446.2L783.5 1421.9M856.7 832L855.4 814.9M262.9 1071.8L267.1 1060.4M673.2 842L672.3 838.3M810.5 1355.9L820 1337.3M794.8 1441.9L784.7 1426.1M205.7 923.4L209 917.7M700.5 832.6L705.9 817.1M579.8 1254.2L587.8 1243M718.2 1364.9L720.8 1362.1M691.5 1195L690.3 1191.5M586.5 1423.7L582.4 1417.2M331.5 1310.3L336.3 1300.9M397.5 1066L399 1048.1M534.2 763.5L532.5 760.9M194.7 804.4L200.7 790M567.4 1384.7L568.1 1363.5M257.4 1026.7L253.5 1019.1M754.2 884.3L745.2 881.7M671.1 1466.5L679.3 1450.3" stroke="#160408" stroke-width="3.8" stroke-linecap="round" fill="none"/>
<path d="M301.3 932.7L303.9 923.4M578.2 932.6L579.8 925M728.3 1410.7L726.3 1395.3M808.4 1383.4L816.6 1373.7M750.5 1365.6L765.8 1346.9M280.9 1128.7L265.7 1115M214 1149.6L216 1125.3M292.6 1079.7L299.9 1075.6M705 1304.7L713 1290M536.1 851.1L544.9 838.9M448.1 901.8L435 888M293.1 1295.9L292.8 1289.9M747.1 823.7L748.1 807.2M636.4 946.6L639.9 930M434.9 1087.8L411 1080.3M258.6 1076.1L253.9 1069.3M634.3 1377.9L640.6 1359.7M419.6 1172L419.8 1169M638.3 954.4L638.4 950.9M862.4 789.6L866.1 772.5M297.8 1152.5L292.8 1146.9M707.1 1277.9L705.2 1272.7M332.8 791.5L340 780.7M374.9 1002.2L373.7 999.3M638.7 1433.9L637.5 1428.8M498.5 988.5L499.2 985.5M605.2 1107.2L607.6 1099.9M216.4 831.2L217.5 827.7M824.8 936L827.4 933.3M201.9 804.5L207.4 801M288.9 844.6L286.1 837.7M622.6 918.1L621.6 896.1M178.5 874L173.7 857.6M461.6 814.4L461.8 810.8M445 971L447.8 966.1M420.8 1062.7L421.3 1059.5M553.2 1040.9L555.2 1037.9M580.3 901.9L582.1 898M210.5 1347L217.1 1331.8M345 852.5L348.4 847.7M517.1 899.9L523 893.5M401.1 1010.2L408.7 993.7M312.4 860.4L296.2 845.8M204.3 975.5L202.3 972.3M228.4 916.9L223.6 912.4M283.9 992.5L279.2 988.4M180.5 974.6L178.1 969.5M612.9 990.9L603.1 971.3M513.6 952.4L523 942M351.2 1397.4L344.6 1391.4M286.5 1324.6L277.5 1313M408 956.6L398.6 952.2M704.5 1160.9L706.6 1137.2M863 1133.8L879 1125.6M217.6 951.9L219.7 943M258.6 797.4L259.7 794.5M789 945.8L797.7 932.1M486.3 984L489 975.9M264.1 1316.6L265.4 1299.8M297.2 849.2L290.6 831.5M325.8 916.5L326 912.4M358.7 1230.8L362.6 1225.2M308.3 1376.2L298.3 1364.3M341.1 1447.8L343.9 1437.2M584.2 1407.8L587.5 1397.8M542.6 1027.5L549 1017M353.3 1017.6L353.8 1013M826 1058.3L828.7 1050.5M209.9 831.5L209.3 821.9M522.6 868.1L524.7 844M682.5 1085.3L679.5 1083.5M588.8 772.7L597.8 763.2M711.4 1178.4L708.7 1170.2M350 1236L349.6 1232M389 1302.6L392.4 1297.2M482.1 1129.8L480.2 1126.7M204.3 1294.5L206.3 1281.5M437.3 1430.8L428.6 1422.3M670.5 1285.1L665.9 1261.9M852.8 1446.6L846.3 1439.1M685 1348.3L682.9 1345.9M677.3 1325.9L679 1321.4M656.3 829.9L653.8 822M264 1297.4L256.9 1272.8M643.7 847.2L648.6 831.9M834.8 1249.3L837.6 1245.5M590.4 1422.7L597.1 1411.9M623 1185.6L619.3 1176.2M653.8 915.6L653.3 902.9M595.2 958.2L585.6 939.2M177 796.1L182 793M762 772.5L763.7 770M423.7 1105L438 1086.6M734.6 951.6L736.8 948.9M192.4 818.9L193.8 814.5M750.4 1315.3L767.4 1308.1M539.8 889.7L537.2 885.9M380.8 1252L384.1 1246.1M621.3 1297.1L606.7 1284.4M478.9 1226.1L487.5 1208M278.5 1048.6L285 1030.8M290.4 972.1L296.5 971.6M694.7 873.4L710 866.3M554.2 1279L549.8 1269.9M515.7 1119.2L512.1 1116.5M354.9 1288.3L346.2 1278.7M293.6 828L292.8 820M858.2 1030.3L859.6 1020.9M491.5 769.2L491.4 765.9M325.6 1172.8L311.4 1165.1M422.4 978.1L423.3 972.8M416.7 881.2L415.4 877.8M857.6 828L850.8 816.3M217.9 916.8L219.8 897.2M651.1 1337.7L651.7 1326.8M618.7 1431.7L620.1 1427.3M687.5 1018.7L688.7 1014.3M189.3 1426.3L180.4 1410.5M616.2 1062L614.4 1059.4M708.6 1315.5L702.1 1309.5M419.4 1299.5L421.1 1296.6M539.8 881L547.7 867.7M456.3 1236.9L458.1 1234.3M598.1 1120L599.3 1115.9M797.7 1104.2L793.8 1088.3M363.5 1217.2L367.2 1212M261.4 1194.7L259.1 1190.9M534.5 1198.6L523.1 1186.4M349.5 1016.8L353.3 1009.8M380.4 1144.8L383 1141.9M388.5 1401.1L383.6 1386.2M514.3 1351.3L502.7 1332.6M830 1157.4L834.4 1151.3M525.9 958.5L527.2 944M279.3 1361.4L271.6 1345.7M775.9 1052.9L780.8 1037.8" stroke="#160408" stroke-width="4.1" stroke-linecap="round" fill="none"/>
<path d="M294.6 1154.2L293.4 1149.8M302.9 1281.4L302.2 1276.8M873.4 818.9L872 801.9M722.8 1372.9L728.5 1360.4M230.1 1218.3L220.7 1198.7M578.4 1069.9L577.7 1066.5M179.1 970.4L174.6 969M860.3 1078.1L860.8 1075.1M754 926.2L752.5 923.4M650.8 900.2L651.2 895.8M835.6 1086.3L832.3 1082.8M835.5 823.3L839.2 812.7M856.4 1129.8L846.9 1113.1M693.7 1310.5L692.6 1302.1M174.9 1015L177.8 1001.5M405.8 1228.5L407.8 1217.3M200.6 1418.7L200.7 1408.8M245.1 1392.9L253.1 1381.6M813 1378.9L814.6 1376M242 1141L240.1 1138.1M733.7 1029.2L744.8 1006.1M249.5 1216.8L250 1212.4M807.9 784.8L810.7 781.2M491.3 1446.4L496.9 1432.9M724.2 1224.5L725.9 1221.9M706.4 1397.4L711.1 1391.7M873.8 1123.2L853.9 1119.7M565.1 1164L562.5 1141.4M535.6 946.8L534.3 940M268.9 1438.8L272.8 1429.8M531.6 1136L547 1119.5M300.9 1207.1L321.4 1200M330.7 1107L339.4 1097.9M311.7 911.8L312.9 905.4M737.7 1453.3L739.2 1438.3M444.5 1018.6L444.6 1010.2M554.6 1039.7L549.1 1030.9M510.6 1053.9L509.3 1045.8M652.1 1080.6L657.4 1073.6M569.4 1127.2L575.1 1114.6M829.9 876.4L820.1 852.6M764.8 1325.3L741.1 1315.1M261 1247.2L257.1 1246.5M653.9 1279.4L658.1 1274.4M676.3 1240.6L680 1218.5M421.9 862.5L436.9 853.9M583.1 1440.7L590.5 1429.9M827.6 1289.8L826.3 1287.2M560.5 1445.3L562.7 1442M782.1 881.9L798.1 862.2M326.5 1178.2L342.5 1160.2M452.8 935.4L457.9 911.4M362.8 1267.9L358.9 1262.4M694.6 1049.3L691.5 1034.2M453.9 1233L449.3 1228.8M411 1263.6L408 1255.5M587.6 1268L581.7 1251.7M564.7 1437.4L575.2 1423M655 787L662.3 767.3M641.3 915.6L646.2 905M841.5 1158.4L845.5 1144.8M308 931.4L292.4 918M200.2 1192.6L193.6 1190.1M270.5 1044.1L269.7 1040.3M511.4 861.4L506.6 839.9M388 883.9L396.9 868.5M727.7 1409.2L734.8 1405.8M475.3 1083.3L478.1 1076.1M309.3 1328.2L311 1322.1M527.3 796.1L528.6 790M412.3 1296.8L409.7 1278.1M658.6 1403.2L658.4 1400.1M601.4 1008.9L600.7 1005.7M438.3 809L441.5 804.3M436.6 899.6L417.9 883.6M542.8 836.5L544.9 823.2M417 817.6L418.9 813.1M341.6 1036.1L340 1033.5M569.3 805.1L570.2 801.9M477.6 1359.4L471.7 1350M184.2 1180.6L178 1168.5M596 1212.2L592.5 1197.6M269.5 1242.9L275.6 1230.6M332.3 1309.4L333.8 1304.3M208.4 1175.2L211.9 1159.2M188.1 1132.2L187.8 1123.8M368.4 1401.7L372.5 1381.6M224.1 1065.5L218.5 1045.8M445.4 1294.4L449.7 1285.5M776.6 1116.2L774.1 1113.9M744.4 902.1L753.8 901.2M280.9 1104.2L276.3 1092.3M811.2 1140.6L816.8 1123M203.1 1294.9L203.4 1291.3M581.6 1040.8L579.9 1037.2M220.3 1081.5L219.7 1077M738.5 1363.5L734.8 1358.1M524.3 1331.1L517.1 1315M680.3 1253.9L679.8 1238.2M310.9 1200L321.1 1188.4M613.7 1412.5L617.3 1399.4M608.2 793.6L592.5 774.8M718.2 1265L719.5 1255.9M179.3 984.9L176 981.2M192.6 1392.8L193.7 1376.1M183.7 1034.2L185.6 1013.6M266.7 952.9L265.4 945M424 1294.3L433.4 1271.9M551.6 1448.2L555.7 1439.3M296.3 1397L292.9 1390.3M772.4 1217.4L781.3 1202M363.9 1112.8L381.4 1095.1M866 979.3L867.2 975.9M832 771L834 764.8M556.6 1120.5L556.2 1108.3M856 1174.2L846.6 1158.4M350.5 1220.7L359.1 1212.3M417.7 932.2L424.5 929.2M768.3 1270.9L766.3 1261.2" stroke="#160408" stroke-width="4.5" stroke-linecap="round" fill="none"/>
<path d="M496.2 1117.8L498 1113.6M759.2 1258.7L762.7 1254.9M845.5 1292.8L850.8 1291.7M629.9 1245.2L633.8 1245M478.8 1393.9L482 1379.3M359.1 914.1L366.8 902.6M299.8 956.1L290.8 942.9M491.4 1201.5L485.8 1196M857.6 1456.2L861.9 1437.9M536.5 1355.8L538.2 1349.5M545.6 876L538.4 864M501.9 1126.3L494.2 1115.6M572.1 1468.8L566.3 1450.3M570.2 1448.8L567.4 1429.8M695.7 1217.5L693.1 1213.1M557.2 1433.1L552.2 1432.3M364.6 1139.4L349.2 1129.7M223.9 1411.1L216.8 1402.9M250.8 1349.4L260.3 1329.1M629.3 982.2L636.4 966.6M826.4 1449.3L827.5 1444.6M384.7 1260.8L386.3 1256.6M370.9 1293.4L369.1 1287.7M524.7 1359.4L525.9 1348.4M288.5 1189.9L282.5 1183M391.2 1198.5L389.9 1192.9M458 1026.9L458.8 1002M857.4 865.3L870.1 853.4M627.1 806.5L626.6 790.7M282.9 1370.1L284.4 1367.2M440.9 1269.4L450 1255.7M765.2 1345.6L760.2 1338.4M181.1 1137.9L172.8 1120.9M617 816.7L628.1 801.7M664.5 926.2L665 920.1M261 1393.4L263.5 1385M310.5 1136.4L308.5 1133.2M824.4 1255L815.4 1232.5M335.4 1439.2L330 1416M638.9 811.4L638.1 799M182.8 787L189.4 772.7M301.2 923.9L297.1 918.4M334.4 921.8L348.2 900.2M870.5 1039.1L863 1021.9M511.4 1032.7L529.8 1018.8M363.8 1078.9L369.1 1060.6M833.4 1212.4L818.4 1211.5M831.2 1408.6L813 1392.5M503.3 1381.9L502 1374.2M404.1 1381.5L409 1372.9M644 886.1L648 870.4M447.6 1117.3L440.1 1108.8M475.2 1301.6L476.6 1289M446.4 1361L446.1 1357.4M617.4 805.8L619.2 800.9M259.9 1240.1L247.9 1221.8M224.3 1237.6L225.9 1233.8M474.5 973.4L490 957.7M717 841.4L720.4 827.2M616.8 1324.2L621.3 1323.1M546.9 1056L538 1042.2M479.5 1088.4L477.2 1082.9M504.5 849.4L501.2 845.2M648.1 1087.7L639.5 1078.4M459.1 1097.4L457.2 1084.5M867.1 979.4L868.3 976.1M181.3 1352.6L163.6 1334.3M683.1 1132.6L665.4 1126M460.3 1131.4L460.6 1125.3M236.7 1139L237.5 1129.8M233.9 1247.3L230.7 1246.7M650.6 1339.2L648 1316.5M748 1192.3L755.7 1183.2M580.8 1214.9L581.5 1211.8M596.6 964.4L596.2 958.8M197.6 1189.8L196.6 1186.4M477.3 1376.3L482.4 1365.9M617.2 1159.6L617.1 1151M425 769.7L426.3 759.8M587.4 809.4L586.1 802.7M374.6 1315.3L382.3 1307.2M188.2 877.4L200.2 864.2M853.6 1399.9L851.6 1397.1M358.6 1017.6L366.7 1008.9M271.4 914.1L268.4 909.8M373.7 1193.9L375.1 1187.8M175.3 1387L174 1381.3M187.4 996L189.4 993.7M434.3 1154.3L435 1145.9M829.4 811.2L840.6 799.7M612 1384.8L616 1377.3M227.9 1204.7L215 1191.8M425.4 1410.6L433.8 1393.5M328.9 1249.1L329.6 1245.5M185.3 1081L188.8 1065.1M327.1 1253.8L327.2 1250.8M789.7 1139.4L777.8 1123.7M754.1 876.3L755.9 860.2M704.3 880.4L700.2 866.2M818.9 922.3L817.5 910.8M858.9 1328.1L861.9 1315.5M830.7 843.9L836 837M249 1084.9L249 1077.2M213.8 1041.4L219.1 1021.8M460.4 1259.1L460 1255.5M419.7 1382.7L417 1378.3M264.4 1256.1L263.3 1252.9M621.3 811.6L618.1 803.3M355.1 813.1L354.4 810.1M712.1 837.3L690.6 828.6M777.8 1136.6L769.9 1134.3M459 1406.8L459.2 1398" stroke="#160408" stroke-width="4.9" stroke-linecap="round" fill="none"/>
<path d="M237.7 980.9L233.8 961.9M619.6 1114.7L621.3 1105.3M795.2 916.1L790.1 895.9M454.9 1242.5L451.4 1239.2M439.8 836.5L428.3 817M860.5 1433.8L871.2 1413.8M561.1 1181.1L573.6 1168.6M422.5 1271.2L420.4 1268M752.7 1237.4L750.1 1218.3M275.8 994.3L284.1 974.5M440.8 992.6L441.8 989.8M311.3 821.8L306.4 810.3M301.7 1144L298.6 1143.9M340.4 974.2L335.4 972.7M311.8 1350.5L302.5 1346.8M428.2 1229.8L435.5 1219.2M264.8 1035.1L273.5 1034.1M262.2 1249.4L265.2 1235.7M203.2 1262.1L204.3 1259.2M735.9 1352.2L730.6 1346.1M323.3 1047.5L325 1043.3M258.8 1458.6L258.6 1453.4M501.8 1015.3L498 1009.8M863.3 1465.7L851 1449.9M755.8 1229L757.9 1225.9M783.2 1094.9L786.5 1086.5M444.9 1165.8L441.3 1159.3M776.5 1194.2L766.4 1180.5M188.1 1109.3L179.3 1096.5M231.7 1124.4L228.9 1123.1M853.3 1423.8L838.6 1405.5M524 1001.5L523.5 996.5M245.8 1435.1L241.9 1425.6M641.8 1066.5L639.1 1062.2M734.2 1059.7L740.1 1047.7M761.1 1142.2L762.6 1139.1M180.3 868.9L177.5 854.9M432.5 1192.4L416.5 1176.7M365.8 987.4L367 982.9M407.6 759.3L409.4 756.8M199.4 1056.2L189.3 1042.7M727.6 967.4L728 956.6M670.8 1185.7L657.9 1172.8M174.9 1456L168.2 1451.9M361.5 1131.2L359.6 1124.6M812.2 1238.3L810.1 1219M601.9 1194.1L616.4 1173.9M519.6 1080.2L518.3 1064.3M327.8 1248.7L338.5 1235.7M834.7 1175.9L833.2 1173M561.8 1149.2L562.7 1145.5M481.3 1045L475.3 1035.6M296.1 1164.9L302.8 1141.9M490.2 1303.3L486.2 1296M614.7 841.3L611 840.2M571.5 1376.3L568 1371.1M618.2 1238.2L630 1217M801.7 1378.4L799.9 1375.9M409.1 1236.7L406.4 1234.6M567.3 879.3L569.3 876.5M872.8 1380L859.7 1365.5M794.4 1278.1L797.5 1256.1M391.9 1051.8L390 1047.9M341.3 1467.6L344.5 1450.8M615.6 923.2L618.6 911.9M372.8 1279.3L379 1266M266.3 901L265 898.3M822.4 1361.7L820.1 1344.8M813 840.9L807.7 834.5M621.5 841.3L618.4 832.4M829.2 833.5L827.9 830.5M494.4 1385.3L500.5 1376.4M393.9 951.8L391.6 946M354.5 1032.3L353.1 1015.7" stroke="#160408" stroke-width="5.2" stroke-linecap="round" fill="none"/>
<circle cx="583.4" cy="765" r="7" fill="#fff8dc"/>
<circle cx="591.1" cy="765" r="7" fill="#100404"/>
<circle cx="333.2" cy="841" r="6" fill="#fff8dc"/>
<circle cx="339.8" cy="841" r="6" fill="#100404"/>
<circle cx="321.2" cy="898" r="6" fill="#fff8dc"/>
<circle cx="327.8" cy="898" r="6" fill="#100404"/>
<circle cx="264.8" cy="913" r="9" fill="#fff8dc"/>
<circle cx="274.7" cy="913" r="9" fill="#100404"/>
<circle cx="420.4" cy="934" r="7" fill="#fff8dc"/>
<circle cx="428.1" cy="934" r="7" fill="#100404"/>
<circle cx="526.4" cy="995" r="7" fill="#fff8dc"/>
<circle cx="534.1" cy="995" r="7" fill="#100404"/>
<circle cx="798.2" cy="962" r="6" fill="#fff8dc"/>
<circle cx="804.8" cy="962" r="6" fill="#100404"/>
<circle cx="788.4" cy="1143" r="7" fill="#fff8dc"/>
<circle cx="796.1" cy="1143" r="7" fill="#100404"/>
<circle cx="742.6" cy="1194" r="8" fill="#fff8dc"/>
<circle cx="751.4" cy="1194" r="8" fill="#100404"/>
</g></g>
<rect x="165.4" y="757.3" width="704.3" height="705.7" fill="none" stroke="#2a0c0c" stroke-width="2.2"/>
<line x1="146.4" y1="1463.0" x2="165.4" y2="1463.0" stroke="#222" stroke-width="2.2"/>
<text x="119.0" y="1474.3" font-family="'Liberation Sans', Arial, Helvetica, sans-serif" font-size="32" font-weight="bold" text-anchor="middle" fill="#000" >0</text>
<line x1="165.4" y1="1463.0" x2="165.4" y2="1482.0" stroke="#222" stroke-width="2.2"/>
<text x="165.4" y="1517.5" font-family="'Liberation Sans', Arial, Helvetica, sans-serif" font-size="32" font-weight="bold" text-anchor="middle" fill="#000" >0</text>
<line x1="146.4" y1="1321.9" x2="165.4" y2="1321.9" stroke="#222" stroke-width="2.2"/>
<text x="119.0" y="1333.2" font-family="'Liberation Sans', Arial, Helvetica, sans-serif" font-size="32" font-weight="bold" text-anchor="middle" fill="#000" >2</text>
<line x1="306.3" y1="1463.0" x2="306.3" y2="1482.0" stroke="#222" stroke-width="2.2"/>
<text x="306.3" y="1517.5" font-family="'Liberation Sans', Arial, Helvetica, sans-serif" font-size="32" font-weight="bold" text-anchor="middle" fill="#000" >2</text>
<line x1="146.4" y1="1180.7" x2="165.4" y2="1180.7" stroke="#222" stroke-width="2.2"/>
<text x="119.0" y="1192.0" font-family="'Liberation Sans', Arial, Helvetica, sans-serif" font-size="32" font-weight="bold" text-anchor="middle" fill="#000" >4</text>
<line x1="447.1" y1="1463.0" x2="447.1" y2="1482.0" stroke="#222" stroke-width="2.2"/>
<text x="447.1" y="1517.5" font-family="'Liberation Sans', Arial, Helvetica, sans-serif" font-size="32" font-weight="bold" text-anchor="middle" fill="#000" >4</text>
<line x1="146.4" y1="1039.6" x2="165.4" y2="1039.6" stroke="#222" stroke-width="2.2"/>
<text x="119.0" y="1050.9" font-family="'Liberation Sans', Arial, Helvetica, sans-serif" font-size="32" font-weight="bold" text-anchor="middle" fill="#000" >6</text>
<line x1="588.0" y1="1463.0" x2="588.0" y2="1482.0" stroke="#222" stroke-width="2.2"/>
<text x="588.0" y="1517.5" font-family="'Liberation Sans', Arial, Helvetica, sans-serif" font-size="32" font-weight="bold" text-anchor="middle" fill="#000" >6</text>
<line x1="146.4" y1="898.4" x2="165.4" y2="898.4" stroke="#222" stroke-width="2.2"/>
<text x="119.0" y="909.7" font-family="'Liberation Sans', Arial, Helvetica, sans-serif" font-size="32" font-weight="bold" text-anchor="middle" fill="#000" >8</text>
<line x1="728.8" y1="1463.0" x2="728.8" y2="1482.0" stroke="#222" stroke-width="2.2"/>
<text x="728.8" y="1517.5" font-family="'Liberation Sans', Arial, Helvetica, sans-serif" font-size="32" font-weight="bold" text-anchor="middle" fill="#000" >8</text>
<line x1="146.4" y1="757.3" x2="165.4" y2="757.3" stroke="#222" stroke-width="2.2"/>
<text x="119.0" y="768.6" font-family="'Liberation Sans', Arial, Helvetica, sans-serif" font-size="32" font-weight="bold" text-anchor="middle" fill="#000" >10</text>
<line x1="869.7" y1="1463.0" x2="869.7" y2="1482.0" stroke="#222" stroke-width="2.2"/>
<text x="869.7" y="1517.5" font-family="'Liberation Sans', Arial, Helvetica, sans-serif" font-size="32" font-weight="bold" text-anchor="middle" fill="#000" >10</text>
<text x="513.5" y="1549" font-size="40" text-anchor="middle"><tspan font-family="'Liberation Serif', 'Times New Roman', serif" font-weight="normal" font-size="39.1">&#181;</tspan><tspan font-family="'Liberation Sans', Arial, Helvetica, sans-serif" font-weight="bold" font-size="42">m</tspan></text>
<text transform="translate(91.5,1111.7) rotate(-90)" x="0" y="0" font-size="40" text-anchor="middle"><tspan font-family="'Liberation Serif', 'Times New Roman', serif" font-weight="normal" font-size="39.1">&#181;</tspan><tspan font-family="'Liberation Sans', Arial, Helvetica, sans-serif" font-weight="bold" font-size="42">m</tspan></text>
<rect x="935.8" y="909.8" width="38.5" height="498.70000000000005" fill="url(#cbc)" stroke="#666" stroke-width="1.5"/>
<line x1="935.8" y1="973.6" x2="974.3" y2="973.6" stroke="#2a1a10" stroke-width="2.5"/>
<text x="988.3" y="980.6" font-family="'Liberation Sans', Arial, Helvetica, sans-serif" font-size="31.5" font-weight="bold" text-anchor="start" fill="#000" >112.5</text>
<line x1="935.8" y1="1072.7" x2="974.3" y2="1072.7" stroke="#2a1a10" stroke-width="2.5"/>
<text x="988.3" y="1079.7" font-family="'Liberation Sans', Arial, Helvetica, sans-serif" font-size="31.5" font-weight="bold" text-anchor="start" fill="#000" >112.0</text>
<line x1="935.8" y1="1170.6" x2="974.3" y2="1170.6" stroke="#2a1a10" stroke-width="2.5"/>
<text x="988.3" y="1177.6" font-family="'Liberation Sans', Arial, Helvetica, sans-serif" font-size="31.5" font-weight="bold" text-anchor="start" fill="#000" >111.5</text>
<line x1="935.8" y1="1269.2" x2="974.3" y2="1269.2" stroke="#2a1a10" stroke-width="2.5"/>
<text x="988.3" y="1276.2" font-family="'Liberation Sans', Arial, Helvetica, sans-serif" font-size="31.5" font-weight="bold" text-anchor="start" fill="#000" >111.0</text>
<line x1="935.8" y1="1368.5" x2="974.3" y2="1368.5" stroke="#2a1a10" stroke-width="2.5"/>
<text x="988.3" y="1375.5" font-family="'Liberation Sans', Arial, Helvetica, sans-serif" font-size="31.5" font-weight="bold" text-anchor="start" fill="#000" >110.5</text>
<text x="955.0" y="894.3" font-family="'Liberation Sans', Arial, Helvetica, sans-serif" font-size="32" font-weight="bold" text-anchor="middle" fill="#000" >nm</text>
<text x="31.0" y="825.0" font-family="'Liberation Sans', Arial, Helvetica, sans-serif" font-size="86" font-weight="bold" text-anchor="start" fill="#000" >c</text>
<text x="80.0" y="825.0" font-family="'Liberation Sans', Arial, Helvetica, sans-serif" font-size="86" font-weight="bold" text-anchor="start" fill="#000" >)</text>
<rect x="1165" y="730" width="986" height="826" fill="none" stroke="#f5f5f5" stroke-width="1.2"/>
<rect x="1266.3" y="757.6" width="703.4" height="702.9" fill="#ad5420"/>
<clipPath id="clipafm23"><rect x="1266.3" y="757.6" width="703.4" height="702.9"/></clipPath>
<g clip-path="url(#clipafm23)"><g filter="url(#soft)">
<path d="M1351.6 892.9L1359.9 892.2M1582 1211.2L1575.6 1207M1516 968.9L1532.1 951.9M1507.1 1446.4L1507.9 1438.6M1780.2 765.2L1758.5 755.6M1756 1139L1741.4 1134.2M1834.1 1094.6L1842.7 1092.2M1298.9 1327.7L1289.2 1322.2M1384.7 1447.4L1382.1 1440.1M1790.2 1421.6L1785.6 1394.6M1676.1 1053.3L1681.1 1044.5M1746.4 844.5L1720.1 828.7M1315.9 1337.7L1311.9 1330.5M1786.3 873.1L1777.5 856.7M1919.3 950.5L1913.9 938M1514.4 1417.6L1507.4 1399.4M1695 923.4L1690.8 911.6M1682.2 1358.5L1673.2 1351.6M1310.1 844.6L1304.8 832.9M1821.3 1282.3L1810.6 1259.6M1474.6 900.1L1467.2 898M1646 909L1642 904.6M1804.3 853.8L1809.9 848.3M1330.9 1360.4L1318.9 1352.3M1294 1233L1297.9 1218.8M1300.9 1377.1L1304.8 1360.9M1302.9 947.3L1298.1 942.7M1487.4 1248.5L1489.6 1238.3M1799.9 1177L1831.3 1175.7M1750.5 825.2L1748 819.1M1482.9 930.3L1492.8 910.3M1618.5 1276.4L1599 1274.4M1633.8 1090.1L1647.7 1071M1508.1 1361.4L1482.6 1350.5M1537.8 1012.6L1545.2 987M1542.8 1279.6L1542.8 1268.6M1472.5 1015.6L1468.4 1007M1647.3 1339.8L1648.6 1328.4M1769.8 844.3L1766.1 833M1348.2 782.3L1331.7 779.7M1849.7 1317L1876.1 1314.4M1681.3 1109.1L1670.1 1101M1842.7 1199.4L1847.1 1193.7M1448.6 1087.7L1442.1 1086.3M1452 778L1443.8 764.5M1717.1 767.3L1740.3 750.9M1839.9 1447.1L1848.6 1435.6M1511.3 1102.4L1522.6 1100M1562.6 1098.1L1563.1 1089.8M1806.2 769.1L1796.2 768.8M1708 944.4L1703.1 938.5M1362.6 950.2L1363.9 940.8M1385 824.8L1385.9 798.7M1912.6 1276.2L1918.7 1262.5M1311.7 1313.7L1304.4 1308.8M1663.7 981.8L1689.3 965M1402.9 1057.5L1416.1 1033.4M1693.2 931.2L1691.5 924.4M1340.5 1028L1337.7 1020.4M1783.1 916.5L1777.8 912.7M1567.7 1297.5L1580.2 1269.2M1684.2 989.7L1688.9 982.1M1514.5 1222.9L1509.7 1212.1M1626.2 925.6L1625.3 917.4M1744.5 1080.4L1754.1 1070.5M1800.2 945.2L1806.5 935.1M1729.8 970L1742.7 953.8M1270.8 1051L1258.3 1036.1M1719.5 1043.7L1708 1037.1M1402.1 1318.6L1381.8 1317.6M1661.9 880.5L1638.5 879.3M1524.5 1257.2L1521.1 1244.4M1571.2 1191.8L1570.7 1185M1719.8 827.8L1720.9 819.3M1892.8 1241.4L1888.5 1236.5M1452.2 860.3L1451.9 853.4M1383.3 1257.8L1396.1 1239.3M1309.9 997.1L1301.3 996.6M1695.4 786.7L1698.3 777.7M1608.7 827.6L1604.1 822.7M1716.1 1415.5L1706.9 1386.6M1854.2 965.4L1856.4 959.8M1311.8 1204.5L1315.9 1199.4M1953.3 794.8L1941.5 794.2M1814.9 1453.4L1820.5 1451M1969.3 1102.6L1960.5 1085.7M1801.5 774.7L1809.2 768M1724 1394.4L1729.9 1392.9M1449.4 795.8L1430.5 789.5M1444.4 1365.8L1414.4 1358.4M1794.7 1069.7L1780.1 1059.4M1640.4 773.1L1639.9 766.2M1649 1211.3L1637.2 1188.3M1891.9 1031L1875.1 1006.4M1374.8 880L1373.1 866.5M1407.9 1454L1412.3 1443.5M1698.2 1405.6L1710.7 1405.1M1551.8 817.6L1538.5 816.1M1657 1134.9L1654.2 1111.3M1650.4 816.2L1644.4 810.2M1658.2 1185L1650.3 1164M1846.8 878.4L1822.4 865.8M1494.4 1025.6L1498.2 1019.3M1374.3 902.6L1389 879M1553.8 1018.3L1549.9 1007.4M1425.7 1457.5L1424.6 1438.5M1911.9 1293.1L1917.7 1287.1M1770.8 1299.5L1749.4 1299.3M1869.7 1429.6L1867.1 1406.9M1920.1 1198.8L1906.5 1196.5M1774.1 1009L1789.4 1008.4M1868.3 802.5L1878.1 785.7M1548 1173.3L1562.9 1165.5M1904.3 1046.8L1891.9 1046.5M1847.6 830.5L1849.8 816.5M1321.5 1401.1L1303 1385.1M1318.9 777.4L1320.3 757.8M1309.3 1148.1L1314.9 1137.7M1689.4 1122.1L1701.1 1107.2" stroke="#d89a2c" stroke-width="5.0" stroke-linecap="round" opacity="0.55" fill="none"/>
<path d="M1689.3 1230.6L1666.8 1209.5M1342.8 831.4L1345.4 822.4M1316.9 1156.4L1321 1148.9M1875.6 1375.2L1885 1353.8M1483.3 1017.4L1493.8 988.9M1680.7 990.5L1678.6 984.2M1915.6 1450.4L1904.4 1444.3M1648.2 849.1L1642.3 836.6M1314 1330.1L1327.7 1303.2M1959.7 1299.2L1951.4 1296.1M1704.1 1199.3L1697.3 1189.3M1565.3 1312.9L1573.4 1312.9M1561.4 990.5L1544.6 983M1833.5 883.4L1828.9 879.1M1815.3 1028.1L1813.9 1012M1570.7 1167.8L1564.4 1151.4M1498.2 1034.6L1512.8 1017.1M1420 1164.2L1402 1164.1M1816 1353.1L1822.5 1337.2M1764.9 1124.3L1763.4 1105.3M1570.4 809.3L1573 803.6M1801.1 806.9L1800.5 793.7M1267.9 966.8L1281.6 966M1427.3 1224.3L1433.3 1217.8M1792.7 990.4L1804.9 989.6M1887.8 1374.8L1883 1357.1M1867.8 975.1L1861.8 972.8M1835.4 831.6L1837.5 818.4M1633.7 1217.1L1639.5 1214.9M1363.9 985.6L1371.2 966M1819.4 1202.2L1813.7 1190M1636.7 811.2L1635.7 804.4M1854.7 1286.4L1832.7 1280.3M1275.9 1040.1L1256.6 1020.5M1861.9 777.3L1858.7 756.2M1564.6 933L1546 913.2M1472.2 1267.3L1487.7 1253.8M1410.5 1003.2L1415.6 996.5M1442.5 1124.3L1435.3 1114.6M1403.5 1421.2L1403.7 1408.8M1504 1283.1L1505.3 1268.3M1410.1 1165L1413.6 1156.8M1372 1239.9L1369.6 1234.4M1623.8 1106.6L1625.5 1081.8M1372.4 1024.5L1381.7 1011.6M1521.2 1372.7L1532.7 1361.2M1857 929.3L1849.1 925.9M1904.6 1108.1L1905.7 1090.2M1604.3 1053.3L1602.9 1034.3M1601.9 871.8L1600.1 862M1881.1 1449.2L1887.1 1428.5M1490.5 1416.5L1495 1400.8M1351.6 1382L1351.1 1366.4M1823.5 1015.7L1833.9 993M1568.6 1022.2L1570.6 998.8M1807.7 1224.6L1825.9 1209.2M1714.5 1190L1706 1177.4M1833.2 1446.7L1821.4 1430.7M1419.5 994.4L1416.3 982.6M1887.6 1407.2L1870.3 1384.3M1873 804.2L1882.8 787M1896.5 1391.4L1908.7 1387.1M1905 1390.8L1915.5 1389.7M1751.4 851.3L1741.9 834.5M1734.1 981.7L1729.7 976.8M1855 899.8L1848.2 877M1704.5 1159.8L1694.1 1150.3M1302.7 990.9L1309.6 976.1M1596.3 1433.5L1596.2 1422.6M1487 829.6L1470.6 808.9M1712.6 1084.9L1724.7 1064.2M1866.6 1352.6L1863.3 1344.4M1433.1 1141.1L1434.7 1134.5M1390.5 1023.1L1388.3 1016.6M1388.3 784.1L1387.3 769.9M1450.9 903.3L1450.3 897.3M1472.9 1155.6L1472.3 1144.5M1340 794.4L1335.5 788M1592 1401.1L1602.9 1373.2M1595.3 812.3L1599.9 803.2M1822.8 1390.2L1828.7 1372.4M1908.3 1101.4L1916.7 1090.4M1523.1 873.9L1526.2 865.3M1465.5 835.2L1459.2 811.1M1424 1128.5L1409 1103.8M1845.9 1193.4L1846 1182.4M1397.9 1012.9L1404.3 1011.6M1374 1022.7L1377.1 1014.5M1366.5 1451.6L1362.3 1446.7M1326.7 1442.7L1321.2 1440.2M1491.8 1346.6L1480.7 1334.9M1898 788L1909.8 784.1M1755.8 1079.7L1765 1077M1785.9 951.6L1802 929.1M1532.1 1263.4L1526 1262.5M1752.6 1027.1L1757.4 1017.2M1482.1 1302.9L1493.2 1283.5M1811 796.1L1803.9 783.6M1427.5 917.7L1447.9 901.1M1451.2 786.9L1473.6 770.2M1748.1 1318.5L1753.8 1298.5M1422.4 826.9L1424.9 820.7M1647.8 1214.2L1664 1202.4M1488.6 1360.9L1493.4 1342.5M1761.1 1084.1L1756.7 1079.9" stroke="#d89a2c" stroke-width="5.5" stroke-linecap="round" opacity="0.55" fill="none"/>
<path d="M1912.2 1427.2L1915.5 1421.6M1667.7 1224.4L1663.6 1219.4M1818.8 1255.7L1810.5 1253.6M1917.1 1427.4L1922.9 1424M1834 1392.7L1837.4 1380.9M1746.1 884.4L1738.7 874.2M1445.8 1357.9L1452.1 1355.4M1587.3 1361.6L1561.3 1360.2M1787.3 1037L1777.9 1034.5M1783.7 1093.2L1772.5 1081.1M1480.6 1205.1L1491.6 1181.2M1837.4 1169L1845.2 1155.4M1532.8 803.6L1531.8 791.9M1735.9 957.8L1731.1 941M1696.4 1070.6L1693.6 1046.2M1917.7 1324.6L1920.2 1315.8M1926.9 1405.3L1938.7 1396.5M1387.8 1378.5L1383.9 1373.9M1339.2 1281.8L1336.4 1263.7M1921.6 859.8L1906.3 857.5M1496.7 866.9L1506.9 864.3M1959.3 871.9L1950.4 851.5M1742 999.7L1727.1 983.1M1672.5 1293.1L1680.2 1288.5M1931.1 1374.8L1949.6 1357.4M1548.3 979.6L1543.8 975.5M1322.6 1119.4L1334.7 1115.8M1927.6 1447.4L1945.5 1435.2M1427.5 917.8L1427.1 904.3M1774.6 900.1L1763.9 879.9M1866.4 1438.4L1864.5 1428.2M1481 956L1476.8 942.4M1760 777L1756.4 769.2M1557.4 1383.9L1550.3 1375.5M1463.3 1238.4L1438.2 1232.7M1871.3 1224.6L1874.7 1210.4M1579.9 903.8L1588.8 894.2M1314.3 850.5L1304.9 847.6M1917.2 797.7L1915.5 789.3M1526.5 1454.1L1526.9 1446.8M1691.3 1151.9L1673.8 1137.7M1369.1 993L1369.1 967.1M1882.3 811.2L1877.4 792.7M1437.6 1329.4L1430.4 1321.6M1696.3 1290.9L1704.1 1284M1640 893.2L1645.3 890.3M1570 1415.1L1577.5 1405.8M1481.4 948.5L1495.5 935.2M1794.7 1331.4L1775.9 1315.3M1795.8 1123.2L1782.3 1120M1787.5 1100.3L1783.6 1074.2M1616.3 983L1621.3 977.5M1510.7 961.7L1523.9 937.3M1356.2 870.1L1353.6 849.7M1507.9 1258.2L1487 1239.4M1767.3 1294.4L1771.8 1282.1M1387.6 823.1L1358 814.8M1935.2 1233.4L1934.9 1221.3M1952.4 1406.4L1956.2 1376.4M1884.9 1015.8L1878.9 1006.5M1686.4 1013.6L1687.6 1006.9M1519.4 820.9L1521.7 800.9M1876.1 841.6L1888.4 833.6M1454 1228.3L1463.6 1215.1M1638.3 1213.3L1637.3 1182.1M1879 1413L1888.7 1404M1509.9 805.9L1517.1 789.5M1779 828.4L1764.2 807.5M1694.7 1297.4L1697.8 1285.1M1680.8 770.8L1680.3 745.2M1313.5 775.7L1297.8 769.7M1748.7 940.2L1746.6 924.2M1844.7 1398.2L1846.9 1380.3M1480.8 1080.3L1489.8 1056.2M1808.5 1072.2L1800.3 1071.3M1322.3 1422.6L1325.6 1417.5M1504.7 1083L1499.3 1072M1829.4 1177.9L1817.2 1168.9M1850.8 1295.8L1851.3 1287.8M1644.5 1105.3L1641.8 1092.8M1699.4 865.5L1675.1 859.2M1953.7 839.7L1953.7 829.4M1325.3 1373.2L1322.4 1359.5M1348.8 1370.6L1355.7 1364.9M1524.6 1227.7L1506.7 1203.9M1493.2 850.2L1480.2 830.1M1630.1 1319.8L1621.9 1319.3M1788.8 1010.3L1805.2 984.4M1780.8 1216.4L1787.9 1215.8M1850.1 1160.3L1860.6 1157M1946.4 1092.2L1936.9 1075.7M1339.2 1251.2L1336.1 1246.1M1656.1 839.7L1656.3 833M1485.6 1433.3L1486 1404.2M1516.9 1172.8L1505.8 1147.8M1652.4 1285.1L1646 1281.3M1837.8 1438.2L1814.7 1434.1M1437.5 1114.3L1430.4 1088.4M1574.1 826.4L1567.1 818.5M1966.1 1051L1967.1 1044.4M1585.7 902.2L1607.6 897.2M1671.6 1241.1L1671.6 1232.5M1739.9 825.8L1749.5 812.7M1946.3 1199.3L1943.8 1190.8M1320.3 845.6L1325.9 842.7M1775.3 1441.9L1757.2 1424.3M1838 1358.4L1821.4 1343.2M1587.1 1024.4L1576.9 1018.5M1777.9 1216.3L1789.2 1213.9M1923.5 806L1919.8 775.6M1944 969.2L1924.7 946.2M1688.1 1308.8L1684.9 1303.6M1824.3 933.1L1830.9 931M1513.6 1066.3L1499.3 1044.8M1823.7 1036.8L1828.6 1026.8M1680.8 805.5L1678.8 797.9M1770.1 1268.4L1752.2 1246M1445.6 1232.9L1439.8 1220.9" stroke="#d89a2c" stroke-width="6.0" stroke-linecap="round" opacity="0.55" fill="none"/>
<path d="M1751.6 1055.7L1773.1 1051.7M1924.8 875.4L1931.1 874.9M1761.2 1442.6L1731.4 1441.5M1828 947.8L1841.3 923.2M1425.6 975.6L1435.7 954.7M1342 1208.9L1336.4 1193.7M1532.3 1304L1528.3 1299.3M1638.6 908.7L1640 902.5M1454.8 964.8L1448.9 950.1M1286.4 1324.7L1270.7 1301.5M1675 1465.2L1656.8 1445.2M1944.4 767.9L1954 747.3M1708.1 860.4L1713 850.7M1552.3 1362.2L1556.5 1352.7M1374.6 1147.4L1375.7 1141.3M1560.8 1100.1L1567.2 1089.9M1862.2 1304.6L1861.9 1282.3M1589 1277L1608.5 1259.9M1719.6 1348L1743.5 1341.2M1847.7 1263.1L1865.1 1237.5M1390.2 1000.5L1367.8 993.4M1314.7 1094.8L1316.4 1064.9M1581.2 1378.5L1589.1 1377.6M1567.5 1465.9L1567.3 1454.2M1760 1212.1L1757.3 1182.2M1514.2 1286.7L1521.1 1280.4M1936.6 1242.1L1957.7 1227.3M1530.6 1403.1L1545.6 1377.7M1469.5 921.5L1459.3 919.2M1786.3 1085.7L1759.5 1079.5M1592.7 1365.3L1575.9 1347.4M1959 1166.3L1954.1 1158.1M1838.3 1137.7L1829.5 1128.8M1803.8 864.9L1799.3 858.7M1333.2 934.8L1337.3 910.4M1338.7 792.2L1343.3 778.2M1514.4 1416.9L1507.7 1412.1M1939.8 1274L1935.6 1264.3M1905.4 1215.7L1929.7 1215.5M1951.2 1133L1962.6 1120.2M1664.8 806L1665.6 799.8M1959.1 1302.2L1957.3 1289.5M1948.7 1459.9L1961 1437.6M1284 882.7L1290.1 868.9M1449.8 891L1430.1 873M1942.4 889.1L1938.7 874.9M1522.6 891.5L1526.5 884.9M1794.4 1364.6L1801.8 1354.2M1953.3 992L1954.6 985.9M1645.2 1232.9L1652.5 1228.1M1630.4 849.8L1621.3 829M1305.1 775.9L1281.1 768.7M1743.6 819.1L1743.2 812.8M1629.1 1203.7L1635.6 1195.8M1513.3 1168.8L1510.7 1161.2M1351.3 901.9L1344.2 879.3M1324.7 806.9L1310.6 790.1M1900.2 1008.4L1902.9 1000.2M1965.1 1264L1962.7 1257.9M1486.9 845.6L1485.5 834M1833 1382.7L1847.5 1375M1297 938L1302.4 919.2M1468.6 869.2L1467.6 859.3M1942.1 1399.4L1940.4 1381.5M1791 1206.6L1766.4 1196.4M1330.7 1440.4L1338 1432.7M1313.1 1271L1310.2 1258M1623.5 1180.5L1627.9 1169.9M1924.2 1293.6L1920.3 1271.3M1518.5 1058.8L1505.8 1042.9M1889.3 1192.8L1859.1 1187.6M1619.7 1300.6L1607.9 1279.1M1283.3 839.7L1269.9 825.4M1725 770.1L1726.7 759.5M1690.4 1070L1685.4 1043.4M1515.1 1362.1L1515 1335.6M1446.2 944.4L1431.8 936.9M1962.5 1454.2L1963.7 1440.8M1449.5 1458L1471.3 1453.3M1609.6 1059.8L1616.6 1058.6M1818.1 814.5L1831.7 800.4M1386 910.7L1365.8 892.1M1836.3 949.3L1811.2 932.2M1749.3 1355.8L1736.5 1352M1566.8 1413.5L1576 1408.3M1727 927.8L1725.2 918.7M1330.5 1331.2L1337.7 1305M1456.7 1159.2L1454.5 1149.7M1657 771.1L1665.2 769.1M1298.2 1367.4L1293.3 1355.8M1714.4 1031.1L1716.6 1018.1M1724.5 1256.6L1730.4 1248.1M1334.5 1295.3L1342.2 1272.8M1266.1 819.7L1281.2 803.8M1932 926.5L1935.4 908M1385.1 1408.2L1392.7 1391.6M1958.4 877.6L1959.3 871.6" stroke="#d89a2c" stroke-width="6.5" stroke-linecap="round" opacity="0.55" fill="none"/>
<path d="M1695.5 1291.8L1702.7 1278.1M1409.7 1326.3L1407.9 1319.4M1704.5 1259.1L1702.6 1230.2M1716 902.5L1733.8 882.1M1587.7 803.7L1575.3 774.9M1720.5 1061.5L1717.2 1036.8M1278.7 1433.6L1296.4 1419.9M1771.2 973.2L1747.8 973M1494.6 822.6L1507.6 805.5M1470.1 1144.9L1471.9 1138.9M1568 1264L1577.1 1243.3" stroke="#d89a2c" stroke-width="7.0" stroke-linecap="round" opacity="0.55" fill="none"/>
<path d="M1352.5 892.9L1360.8 892.2M1582.9 1211.2L1576.5 1207M1516.9 968.9L1533 951.9M1508 1446.4L1508.8 1438.6M1781.1 765.2L1759.4 755.6M1756.9 1139L1742.3 1134.2M1835 1094.6L1843.6 1092.2M1299.8 1327.7L1290.1 1322.2M1385.6 1447.4L1383 1440.1M1791.1 1421.6L1786.5 1394.6M1677 1053.3L1682 1044.5M1747.3 844.5L1721 828.7M1316.8 1337.7L1312.8 1330.5M1787.2 873.1L1778.4 856.7M1920.2 950.5L1914.8 938M1515.3 1417.6L1508.3 1399.4M1695.9 923.4L1691.7 911.6M1683.1 1358.5L1674.1 1351.6M1311 844.6L1305.7 832.9M1822.2 1282.3L1811.5 1259.6M1475.5 900.1L1468.1 898M1646.9 909L1642.9 904.6M1805.2 853.8L1810.8 848.3M1331.8 1360.4L1319.8 1352.3M1294.9 1233L1298.8 1218.8M1301.8 1377.1L1305.7 1360.9M1303.8 947.3L1299 942.7M1488.3 1248.5L1490.5 1238.3M1800.8 1177L1832.2 1175.7M1751.4 825.2L1748.9 819.1M1483.8 930.3L1493.7 910.3M1619.4 1276.4L1599.9 1274.4M1634.7 1090.1L1648.6 1071M1509 1361.4L1483.5 1350.5M1538.7 1012.6L1546.1 987M1543.7 1279.6L1543.7 1268.6M1473.4 1015.6L1469.3 1007M1648.2 1339.8L1649.5 1328.4M1770.7 844.3L1767 833M1349.1 782.3L1332.6 779.7M1850.6 1317L1877 1314.4M1682.2 1109.1L1671 1101M1843.6 1199.4L1848 1193.7M1449.5 1087.7L1443 1086.3M1452.9 778L1444.7 764.5M1718 767.3L1741.2 750.9M1840.8 1447.1L1849.5 1435.6M1512.2 1102.4L1523.5 1100M1563.5 1098.1L1564 1089.8M1807.1 769.1L1797.1 768.8M1708.9 944.4L1704 938.5M1363.5 950.2L1364.8 940.8M1385.9 824.8L1386.8 798.7M1913.5 1276.2L1919.6 1262.5M1312.6 1313.7L1305.3 1308.8M1664.6 981.8L1690.2 965M1403.8 1057.5L1417 1033.4M1694.1 931.2L1692.4 924.4M1341.4 1028L1338.6 1020.4M1784 916.5L1778.7 912.7M1568.6 1297.5L1581.1 1269.2M1685.1 989.7L1689.8 982.1M1515.4 1222.9L1510.6 1212.1M1627.1 925.6L1626.2 917.4M1745.4 1080.4L1755 1070.5M1801.1 945.2L1807.4 935.1M1730.7 970L1743.6 953.8M1271.7 1051L1259.2 1036.1M1720.4 1043.7L1708.9 1037.1M1403 1318.6L1382.7 1317.6M1662.8 880.5L1639.4 879.3M1525.4 1257.2L1522 1244.4M1572.1 1191.8L1571.6 1185M1720.7 827.8L1721.8 819.3M1893.7 1241.4L1889.4 1236.5M1453.1 860.3L1452.8 853.4M1384.2 1257.8L1397 1239.3M1310.8 997.1L1302.2 996.6M1696.3 786.7L1699.2 777.7M1609.6 827.6L1605 822.7M1717 1415.5L1707.8 1386.6M1855.1 965.4L1857.3 959.8M1312.7 1204.5L1316.8 1199.4M1954.2 794.8L1942.4 794.2M1815.8 1453.4L1821.4 1451M1970.2 1102.6L1961.4 1085.7M1802.4 774.7L1810.1 768M1724.9 1394.4L1730.8 1392.9M1450.3 795.8L1431.4 789.5M1445.3 1365.8L1415.3 1358.4M1795.6 1069.7L1781 1059.4M1641.3 773.1L1640.8 766.2M1649.9 1211.3L1638.1 1188.3M1892.8 1031L1876 1006.4M1375.7 880L1374 866.5M1408.8 1454L1413.2 1443.5M1699.1 1405.6L1711.6 1405.1M1552.7 817.6L1539.4 816.1M1657.9 1134.9L1655.1 1111.3M1651.3 816.2L1645.3 810.2M1659.1 1185L1651.2 1164M1847.7 878.4L1823.3 865.8M1495.3 1025.6L1499.1 1019.3M1375.2 902.6L1389.9 879M1554.7 1018.3L1550.8 1007.4M1426.6 1457.5L1425.5 1438.5M1912.8 1293.1L1918.6 1287.1M1771.7 1299.5L1750.3 1299.3M1870.6 1429.6L1868 1406.9M1921 1198.8L1907.4 1196.5M1775 1009L1790.3 1008.4M1869.2 802.5L1879 785.7M1548.9 1173.3L1563.8 1165.5M1905.2 1046.8L1892.8 1046.5M1848.5 830.5L1850.7 816.5M1322.4 1401.1L1303.9 1385.1M1319.8 777.4L1321.2 757.8M1310.2 1148.1L1315.8 1137.7M1690.3 1122.1L1702 1107.2" stroke="#fff8dc" stroke-width="3.0" stroke-linecap="round" fill="none"/>
<path d="M1690.3 1230.6L1667.9 1209.5M1343.8 831.4L1346.4 822.4M1318 1156.4L1322 1148.9M1876.6 1375.2L1886.1 1353.8M1484.3 1017.4L1494.8 988.9M1681.7 990.5L1679.7 984.2M1916.6 1450.4L1905.4 1444.3M1649.3 849.1L1643.3 836.6M1315 1330.1L1328.8 1303.2M1960.7 1299.2L1952.5 1296.1M1705.1 1199.3L1698.4 1189.3M1566.4 1312.9L1574.4 1312.9M1562.4 990.5L1545.7 983M1834.6 883.4L1829.9 879.1M1816.3 1028.1L1815 1012M1571.7 1167.8L1565.5 1151.4M1499.3 1034.6L1513.9 1017.1M1421.1 1164.2L1403.1 1164.1M1817 1353.1L1823.6 1337.2M1766 1124.3L1764.5 1105.3M1571.4 809.3L1574.1 803.6M1802.2 806.9L1801.6 793.7M1269 966.8L1282.7 966M1428.4 1224.3L1434.3 1217.8M1793.7 990.4L1806 989.6M1888.9 1374.8L1884.1 1357.1M1868.8 975.1L1862.9 972.8M1836.4 831.6L1838.6 818.4M1634.7 1217.1L1640.5 1214.9M1365 985.6L1372.2 966M1820.5 1202.2L1814.7 1190M1637.7 811.2L1636.7 804.4M1855.8 1286.4L1833.8 1280.3M1277 1040.1L1257.7 1020.5M1862.9 777.3L1859.7 756.2M1565.7 933L1547.1 913.2M1473.3 1267.3L1488.7 1253.8M1411.5 1003.2L1416.6 996.5M1443.5 1124.3L1436.4 1114.6M1404.5 1421.2L1404.7 1408.8M1505 1283.1L1506.4 1268.3M1411.1 1165L1414.6 1156.8M1373.1 1239.9L1370.7 1234.4M1624.9 1106.6L1626.6 1081.8M1373.5 1024.5L1382.7 1011.6M1522.3 1372.7L1533.7 1361.2M1858.1 929.3L1850.2 925.9M1905.6 1108.1L1906.8 1090.2M1605.4 1053.3L1604 1034.3M1602.9 871.8L1601.2 862M1882.2 1449.2L1888.1 1428.5M1491.6 1416.5L1496.1 1400.8M1352.7 1382L1352.2 1366.4M1824.6 1015.7L1834.9 993M1569.6 1022.2L1571.7 998.8M1808.7 1224.6L1826.9 1209.2M1715.5 1190L1707 1177.4M1834.3 1446.7L1822.4 1430.7M1420.5 994.4L1417.3 982.6M1888.7 1407.2L1871.4 1384.3M1874.1 804.2L1883.8 787M1897.5 1391.4L1909.7 1387.1M1906.1 1390.8L1916.5 1389.7M1752.5 851.3L1742.9 834.5M1735.2 981.7L1730.7 976.8M1856 899.8L1849.3 877M1705.6 1159.8L1695.2 1150.3M1303.8 990.9L1310.6 976.1M1597.4 1433.5L1597.3 1422.6M1488 829.6L1471.6 808.9M1713.6 1084.9L1725.7 1064.2M1867.6 1352.6L1864.3 1344.4M1434.2 1141.1L1435.8 1134.5M1391.6 1023.1L1389.4 1016.6M1389.4 784.1L1388.3 769.9M1451.9 903.3L1451.4 897.3M1473.9 1155.6L1473.4 1144.5M1341 794.4L1336.6 788M1593 1401.1L1603.9 1373.2M1596.3 812.3L1600.9 803.2M1823.8 1390.2L1829.7 1372.4M1909.3 1101.4L1917.7 1090.4M1524.2 873.9L1527.3 865.3M1466.5 835.2L1460.2 811.1M1425 1128.5L1410 1103.8M1846.9 1193.4L1847 1182.4M1399 1012.9L1405.3 1011.6M1375 1022.7L1378.1 1014.5M1367.5 1451.6L1363.3 1446.7M1327.7 1442.7L1322.3 1440.2M1492.9 1346.6L1481.8 1334.9M1899.1 788L1910.8 784.1M1756.8 1079.7L1766.1 1077M1786.9 951.6L1803.1 929.1M1533.1 1263.4L1527.1 1262.5M1753.6 1027.1L1758.5 1017.2M1483.1 1302.9L1494.2 1283.5M1812.1 796.1L1805 783.6M1428.5 917.7L1448.9 901.1M1452.2 786.9L1474.7 770.2M1749.2 1318.5L1754.9 1298.5M1423.4 826.9L1426 820.7M1648.9 1214.2L1665 1202.4M1489.6 1360.9L1494.5 1342.5M1762.2 1084.1L1757.8 1079.9" stroke="#fff8dc" stroke-width="3.5" stroke-linecap="round" fill="none"/>
<path d="M1913.4 1427.2L1916.7 1421.6M1668.9 1224.4L1664.8 1219.4M1820 1255.7L1811.7 1253.6M1918.3 1427.4L1924.1 1424M1835.2 1392.7L1838.6 1380.9M1747.3 884.4L1739.9 874.2M1447 1357.9L1453.3 1355.4M1588.5 1361.6L1562.5 1360.2M1788.5 1037L1779.1 1034.5M1784.9 1093.2L1773.7 1081.1M1481.8 1205.1L1492.8 1181.2M1838.6 1169L1846.4 1155.4M1534 803.6L1533 791.9M1737.1 957.8L1732.3 941M1697.6 1070.6L1694.8 1046.2M1918.9 1324.6L1921.4 1315.8M1928.1 1405.3L1939.9 1396.5M1389 1378.5L1385.1 1373.9M1340.4 1281.8L1337.6 1263.7M1922.8 859.8L1907.5 857.5M1497.9 866.9L1508.1 864.3M1960.5 871.9L1951.6 851.5M1743.2 999.7L1728.3 983.1M1673.7 1293.1L1681.4 1288.5M1932.3 1374.8L1950.8 1357.4M1549.5 979.6L1545 975.5M1323.8 1119.4L1335.9 1115.8M1928.8 1447.4L1946.7 1435.2M1428.7 917.8L1428.3 904.3M1775.8 900.1L1765.1 879.9M1867.6 1438.4L1865.7 1428.2M1482.2 956L1478 942.4M1761.2 777L1757.6 769.2M1558.6 1383.9L1551.5 1375.5M1464.5 1238.4L1439.4 1232.7M1872.5 1224.6L1875.9 1210.4M1581.1 903.8L1590 894.2M1315.5 850.5L1306.1 847.6M1918.4 797.7L1916.7 789.3M1527.7 1454.1L1528.1 1446.8M1692.5 1151.9L1675 1137.7M1370.3 993L1370.3 967.1M1883.5 811.2L1878.6 792.7M1438.8 1329.4L1431.6 1321.6M1697.5 1290.9L1705.3 1284M1641.2 893.2L1646.5 890.3M1571.2 1415.1L1578.7 1405.8M1482.6 948.5L1496.7 935.2M1795.9 1331.4L1777.1 1315.3M1797 1123.2L1783.5 1120M1788.7 1100.3L1784.8 1074.2M1617.5 983L1622.5 977.5M1511.9 961.7L1525.1 937.3M1357.4 870.1L1354.8 849.7M1509.1 1258.2L1488.2 1239.4M1768.5 1294.4L1773 1282.1M1388.8 823.1L1359.2 814.8M1936.4 1233.4L1936.1 1221.3M1953.6 1406.4L1957.4 1376.4M1886.1 1015.8L1880.1 1006.5M1687.6 1013.6L1688.8 1006.9M1520.6 820.9L1522.9 800.9M1877.3 841.6L1889.6 833.6M1455.2 1228.3L1464.8 1215.1M1639.5 1213.3L1638.5 1182.1M1880.2 1413L1889.9 1404M1511.1 805.9L1518.3 789.5M1780.2 828.4L1765.4 807.5M1695.9 1297.4L1699 1285.1M1682 770.8L1681.5 745.2M1314.7 775.7L1299 769.7M1749.9 940.2L1747.8 924.2M1845.9 1398.2L1848.1 1380.3M1482 1080.3L1491 1056.2M1809.7 1072.2L1801.5 1071.3M1323.5 1422.6L1326.8 1417.5M1505.9 1083L1500.5 1072M1830.6 1177.9L1818.4 1168.9M1852 1295.8L1852.5 1287.8M1645.7 1105.3L1643 1092.8M1700.6 865.5L1676.3 859.2M1954.9 839.7L1954.9 829.4M1326.5 1373.2L1323.6 1359.5M1350 1370.6L1356.9 1364.9M1525.8 1227.7L1507.9 1203.9M1494.4 850.2L1481.4 830.1M1631.3 1319.8L1623.1 1319.3M1790 1010.3L1806.4 984.4M1782 1216.4L1789.1 1215.8M1851.3 1160.3L1861.8 1157M1947.6 1092.2L1938.1 1075.7M1340.4 1251.2L1337.3 1246.1M1657.3 839.7L1657.5 833M1486.8 1433.3L1487.2 1404.2M1518.1 1172.8L1507 1147.8M1653.6 1285.1L1647.2 1281.3M1839 1438.2L1815.9 1434.1M1438.7 1114.3L1431.6 1088.4M1575.3 826.4L1568.3 818.5M1967.3 1051L1968.3 1044.4M1586.9 902.2L1608.8 897.2M1672.8 1241.1L1672.8 1232.5M1741.1 825.8L1750.7 812.7M1947.5 1199.3L1945 1190.8M1321.5 845.6L1327.1 842.7M1776.5 1441.9L1758.4 1424.3M1839.2 1358.4L1822.6 1343.2M1588.3 1024.4L1578.1 1018.5M1779.1 1216.3L1790.4 1213.9M1924.7 806L1921 775.6M1945.2 969.2L1925.9 946.2M1689.3 1308.8L1686.1 1303.6M1825.5 933.1L1832.1 931M1514.8 1066.3L1500.5 1044.8M1824.9 1036.8L1829.8 1026.8M1682 805.5L1680 797.9M1771.3 1268.4L1753.4 1246M1446.8 1232.9L1441 1220.9" stroke="#fff8dc" stroke-width="4.0" stroke-linecap="round" fill="none"/>
<path d="M1752.9 1055.7L1774.4 1051.7M1926.2 875.4L1932.4 874.9M1762.6 1442.6L1732.7 1441.5M1829.4 947.8L1842.7 923.2M1426.9 975.6L1437 954.7M1343.3 1208.9L1337.8 1193.7M1533.6 1304L1529.7 1299.3M1639.9 908.7L1641.4 902.5M1456.1 964.8L1450.2 950.1M1287.8 1324.7L1272.1 1301.5M1676.3 1465.2L1658.1 1445.2M1945.8 767.9L1955.4 747.3M1709.4 860.4L1714.4 850.7M1553.7 1362.2L1557.8 1352.7M1375.9 1147.4L1377 1141.3M1562.2 1100.1L1568.5 1089.9M1863.6 1304.6L1863.3 1282.3M1590.4 1277L1609.9 1259.9M1720.9 1348L1744.9 1341.2M1849.1 1263.1L1866.4 1237.5M1391.6 1000.5L1369.2 993.4M1316.1 1094.8L1317.7 1064.9M1582.5 1378.5L1590.4 1377.6M1568.9 1465.9L1568.6 1454.2M1761.3 1212.1L1758.7 1182.2M1515.5 1286.7L1522.5 1280.4M1938 1242.1L1959.1 1227.3M1531.9 1403.1L1546.9 1377.7M1470.8 921.5L1460.6 919.2M1787.6 1085.7L1760.8 1079.5M1594.1 1365.3L1577.2 1347.4M1960.4 1166.3L1955.4 1158.1M1839.6 1137.7L1830.8 1128.8M1805.1 864.9L1800.7 858.7M1334.5 934.8L1338.7 910.4M1340.1 792.2L1344.7 778.2M1515.7 1416.9L1509 1412.1M1941.1 1274L1937 1264.3M1906.7 1215.7L1931.1 1215.5M1952.5 1133L1964 1120.2M1666.2 806L1667 799.8M1960.5 1302.2L1958.6 1289.5M1950 1459.9L1962.3 1437.6M1285.4 882.7L1291.4 868.9M1451.1 891L1431.5 873M1943.7 889.1L1940.1 874.9M1523.9 891.5L1527.9 884.9M1795.7 1364.6L1803.2 1354.2M1954.7 992L1955.9 985.9M1646.5 1232.9L1653.8 1228.1M1631.8 849.8L1622.7 829M1306.4 775.9L1282.5 768.7M1744.9 819.1L1744.5 812.8M1630.4 1203.7L1637 1195.8M1514.7 1168.8L1512.1 1161.2M1352.7 901.9L1345.6 879.3M1326 806.9L1311.9 790.1M1901.5 1008.4L1904.2 1000.2M1966.5 1264L1964.1 1257.9M1488.2 845.6L1486.8 834M1834.4 1382.7L1848.9 1375M1298.3 938L1303.8 919.2M1470 869.2L1469 859.3M1943.5 1399.4L1941.8 1381.5M1792.4 1206.6L1767.8 1196.4M1332.1 1440.4L1339.4 1432.7M1314.4 1271L1311.5 1258M1624.8 1180.5L1629.2 1169.9M1925.5 1293.6L1921.6 1271.3M1519.9 1058.8L1507.1 1042.9M1890.6 1192.8L1860.5 1187.6M1621.1 1300.6L1609.3 1279.1M1284.6 839.7L1271.3 825.4M1726.4 770.1L1728.1 759.5M1691.8 1070L1686.8 1043.4M1516.4 1362.1L1516.3 1335.6M1447.5 944.4L1433.2 936.9M1963.8 1454.2L1965 1440.8M1450.8 1458L1472.6 1453.3M1611 1059.8L1617.9 1058.6M1819.4 814.5L1833.1 800.4M1387.3 910.7L1367.1 892.1M1837.6 949.3L1812.6 932.2M1750.7 1355.8L1737.8 1352M1568.1 1413.5L1577.4 1408.3M1728.3 927.8L1726.6 918.7M1331.9 1331.2L1339 1305M1458.1 1159.2L1455.8 1149.7M1658.4 771.1L1666.6 769.1M1299.5 1367.4L1294.7 1355.8M1715.7 1031.1L1717.9 1018.1M1725.8 1256.6L1731.7 1248.1M1335.8 1295.3L1343.5 1272.8M1267.5 819.7L1282.6 803.8M1933.3 926.5L1936.7 908M1386.4 1408.2L1394 1391.6M1959.7 877.6L1960.7 871.6" stroke="#fff8dc" stroke-width="4.5" stroke-linecap="round" fill="none"/>
<path d="M1697 1291.8L1704.2 1278.1M1411.2 1326.3L1409.4 1319.4M1706 1259.1L1704.1 1230.2M1717.5 902.5L1735.3 882.1M1589.2 803.7L1576.8 774.9M1722 1061.5L1718.7 1036.8M1280.2 1433.6L1297.9 1419.9M1772.7 973.2L1749.3 973M1496.1 822.6L1509.1 805.5M1471.6 1144.9L1473.4 1138.9M1569.5 1264L1578.6 1243.3" stroke="#fff8dc" stroke-width="5.0" stroke-linecap="round" fill="none"/>
<path d="M1355.5 892.9L1363.8 892.2M1586 1211.2L1579.6 1207M1520 968.9L1536.1 951.9M1511.1 1446.4L1511.9 1438.6M1784.2 765.2L1762.5 755.6M1760 1139L1745.4 1134.2M1838.1 1094.6L1846.7 1092.2M1302.9 1327.7L1293.2 1322.2M1388.7 1447.4L1386.1 1440.1M1794.2 1421.6L1789.6 1394.6M1680.1 1053.3L1685.1 1044.5M1750.4 844.5L1724.1 828.7M1319.9 1337.7L1315.9 1330.5M1790.2 873.1L1781.5 856.7M1923.3 950.5L1917.9 938M1518.4 1417.6L1511.4 1399.4M1699 923.4L1694.8 911.6M1686.2 1358.5L1677.2 1351.6M1314.1 844.6L1308.8 832.9M1825.3 1282.3L1814.6 1259.6M1478.6 900.1L1471.2 898M1650 909L1645.9 904.6M1808.3 853.8L1813.9 848.3M1334.9 1360.4L1322.9 1352.3M1298 1233L1301.9 1218.8M1304.9 1377.1L1308.8 1360.9M1306.8 947.3L1302.1 942.7M1491.4 1248.5L1493.6 1238.3M1803.8 1177L1835.3 1175.7M1754.5 825.2L1752 819.1M1486.9 930.3L1496.8 910.3M1622.5 1276.4L1603 1274.4M1637.8 1090.1L1651.6 1071M1512.1 1361.4L1486.6 1350.5M1541.8 1012.6L1549.2 987M1546.8 1279.6L1546.8 1268.6M1476.5 1015.6L1472.4 1007M1651.3 1339.8L1652.6 1328.4M1773.8 844.3L1770.1 833M1352.2 782.3L1335.7 779.7M1853.7 1317L1880.1 1314.4M1685.3 1109.1L1674.1 1101M1846.7 1199.4L1851.1 1193.7M1452.6 1087.7L1446.1 1086.3M1456 778L1447.7 764.5M1721.1 767.3L1744.3 750.9M1843.9 1447.1L1852.6 1435.6M1515.3 1102.4L1526.6 1100M1566.6 1098.1L1567.1 1089.8M1810.2 769.1L1800.2 768.8M1712 944.4L1707.1 938.5M1366.6 950.2L1367.9 940.8M1389 824.8L1389.9 798.7M1916.5 1276.2L1922.7 1262.5M1315.7 1313.7L1308.3 1308.8M1667.7 981.8L1693.3 965M1406.9 1057.5L1420.1 1033.4M1697.2 931.2L1695.5 924.4M1344.4 1028L1341.7 1020.4M1787.1 916.5L1781.8 912.7M1571.7 1297.5L1584.2 1269.2M1688.2 989.7L1692.9 982.1M1518.5 1222.9L1513.7 1212.1M1630.2 925.6L1629.3 917.4M1748.5 1080.4L1758.1 1070.5M1804.2 945.2L1810.5 935.1M1733.8 970L1746.7 953.8M1274.8 1051L1262.3 1036.1M1723.5 1043.7L1712 1037.1M1406.1 1318.6L1385.8 1317.6M1665.9 880.5L1642.5 879.3M1528.5 1257.2L1525.1 1244.4M1575.2 1191.8L1574.7 1185M1723.8 827.8L1724.9 819.3M1896.8 1241.4L1892.5 1236.5M1456.2 860.3L1455.8 853.4M1387.3 1257.8L1400.1 1239.3M1313.9 997.1L1305.3 996.6M1699.3 786.7L1702.2 777.7M1612.6 827.6L1608.1 822.7M1720.1 1415.5L1710.9 1386.6M1858.2 965.4L1860.4 959.8M1315.8 1204.5L1319.9 1199.4M1957.3 794.8L1945.5 794.2M1818.9 1453.4L1824.5 1451M1973.3 1102.6L1964.5 1085.7M1805.5 774.7L1813.2 768M1728 1394.4L1733.9 1392.9M1453.4 795.8L1434.5 789.5M1448.4 1365.8L1418.4 1358.4M1798.7 1069.7L1784.1 1059.4M1644.4 773.1L1643.9 766.2M1653 1211.3L1641.2 1188.3M1895.9 1031L1879.1 1006.4M1378.7 880L1377.1 866.5M1411.9 1454L1416.3 1443.5M1702.2 1405.6L1714.7 1405.1M1555.7 817.6L1542.5 816.1M1661 1134.9L1658.2 1111.3M1654.4 816.2L1648.4 810.2M1662.2 1185L1654.3 1164M1850.8 878.4L1826.4 865.8M1498.4 1025.6L1502.2 1019.3M1378.3 902.6L1393 879M1557.8 1018.3L1553.9 1007.4M1429.7 1457.5L1428.6 1438.5M1915.9 1293.1L1921.7 1287.1M1774.7 1299.5L1753.4 1299.3M1873.7 1429.6L1871.1 1406.9M1924.1 1198.8L1910.5 1196.5M1778.1 1009L1793.4 1008.4M1872.3 802.5L1882.1 785.7M1552 1173.3L1566.9 1165.5M1908.3 1046.8L1895.9 1046.5M1851.6 830.5L1853.8 816.5M1325.5 1401.1L1307 1385.1M1322.9 777.4L1324.3 757.8M1313.3 1148.1L1318.9 1137.7M1693.4 1122.1L1705.1 1107.2" stroke="#160408" stroke-width="2.2" stroke-linecap="round" fill="none"/>
<path d="M1693.9 1230.6L1671.5 1209.5M1347.4 831.4L1350 822.4M1321.6 1156.4L1325.6 1148.9M1880.2 1375.2L1889.7 1353.8M1487.9 1017.4L1498.4 988.9M1685.3 990.5L1683.3 984.2M1920.2 1450.4L1909.1 1444.3M1652.9 849.1L1646.9 836.6M1318.6 1330.1L1332.4 1303.2M1964.3 1299.2L1956.1 1296.1M1708.7 1199.3L1702 1189.3M1570 1312.9L1578.1 1312.9M1566 990.5L1549.3 983M1838.2 883.4L1833.6 879.1M1819.9 1028.1L1818.6 1012M1575.3 1167.8L1569.1 1151.4M1502.9 1034.6L1517.5 1017.1M1424.7 1164.2L1406.7 1164.1M1820.6 1353.1L1827.2 1337.2M1769.6 1124.3L1768.1 1105.3M1575 809.3L1577.7 803.6M1805.8 806.9L1805.2 793.7M1272.6 966.8L1286.3 966M1432 1224.3L1437.9 1217.8M1797.3 990.4L1809.6 989.6M1892.5 1374.8L1887.7 1357.1M1872.4 975.1L1866.5 972.8M1840 831.6L1842.2 818.4M1638.3 1217.1L1644.1 1214.9M1368.6 985.6L1375.8 966M1824.1 1202.2L1818.3 1190M1641.3 811.2L1640.3 804.4M1859.4 1286.4L1837.4 1280.3M1280.6 1040.1L1261.3 1020.5M1866.5 777.3L1863.3 756.2M1569.3 933L1550.7 913.2M1476.9 1267.3L1492.3 1253.8M1415.1 1003.2L1420.2 996.5M1447.1 1124.3L1440 1114.6M1408.2 1421.2L1408.3 1408.8M1508.6 1283.1L1510 1268.3M1414.8 1165L1418.2 1156.8M1376.7 1239.9L1374.3 1234.4M1628.5 1106.6L1630.2 1081.8M1377.1 1024.5L1386.3 1011.6M1525.9 1372.7L1537.3 1361.2M1861.7 929.3L1853.8 925.9M1909.2 1108.1L1910.4 1090.2M1609 1053.3L1607.6 1034.3M1606.6 871.8L1604.8 862M1885.8 1449.2L1891.7 1428.5M1495.2 1416.5L1499.7 1400.8M1356.3 1382L1355.8 1366.4M1828.2 1015.7L1838.5 993M1573.2 1022.2L1575.3 998.8M1812.3 1224.6L1830.5 1209.2M1719.1 1190L1710.6 1177.4M1837.9 1446.7L1826 1430.7M1424.1 994.4L1420.9 982.6M1892.3 1407.2L1875 1384.3M1877.7 804.2L1887.4 787M1901.1 1391.4L1913.3 1387.1M1909.7 1390.8L1920.1 1389.7M1756.1 851.3L1746.6 834.5M1738.8 981.7L1734.3 976.8M1859.6 899.8L1852.9 877M1709.2 1159.8L1698.8 1150.3M1307.4 990.9L1314.2 976.1M1601 1433.5L1600.9 1422.6M1491.6 829.6L1475.2 808.9M1717.2 1084.9L1729.3 1064.2M1871.2 1352.6L1868 1344.4M1437.8 1141.1L1439.4 1134.5M1395.2 1023.1L1393 1016.6M1393 784.1L1391.9 769.9M1455.5 903.3L1455 897.3M1477.6 1155.6L1477 1144.5M1344.6 794.4L1340.2 788M1596.6 1401.1L1607.5 1373.2M1599.9 812.3L1604.5 803.2M1827.4 1390.2L1833.4 1372.4M1912.9 1101.4L1921.3 1090.4M1527.8 873.9L1530.9 865.3M1470.1 835.2L1463.8 811.1M1428.6 1128.5L1413.6 1103.8M1850.5 1193.4L1850.6 1182.4M1402.6 1012.9L1409 1011.6M1378.6 1022.7L1381.7 1014.5M1371.1 1451.6L1366.9 1446.7M1331.3 1442.7L1325.9 1440.2M1496.5 1346.6L1485.4 1334.9M1902.7 788L1914.4 784.1M1760.4 1079.7L1769.7 1077M1790.5 951.6L1806.7 929.1M1536.7 1263.4L1530.7 1262.5M1757.2 1027.1L1762.1 1017.2M1486.7 1302.9L1497.9 1283.5M1815.7 796.1L1808.6 783.6M1432.1 917.7L1452.5 901.1M1455.8 786.9L1478.3 770.2M1752.8 1318.5L1758.5 1298.5M1427 826.9L1429.6 820.7M1652.5 1214.2L1668.6 1202.4M1493.2 1360.9L1498.1 1342.5M1765.8 1084.1L1761.4 1079.9" stroke="#160408" stroke-width="2.6" stroke-linecap="round" fill="none"/>
<path d="M1917.5 1427.2L1920.8 1421.6M1673.1 1224.4L1668.9 1219.4M1824.1 1255.7L1815.8 1253.6M1922.4 1427.4L1928.2 1424M1839.3 1392.7L1842.7 1380.9M1751.4 884.4L1744 874.2M1451.1 1357.9L1457.4 1355.4M1592.6 1361.6L1566.6 1360.2M1792.6 1037L1783.3 1034.5M1789.1 1093.2L1777.8 1081.1M1485.9 1205.1L1497 1181.2M1842.7 1169L1850.5 1155.4M1538.1 803.6L1537.1 791.9M1741.2 957.8L1736.4 941M1701.7 1070.6L1698.9 1046.2M1923 1324.6L1925.5 1315.8M1932.2 1405.3L1944 1396.5M1393.2 1378.5L1389.2 1373.9M1344.5 1281.8L1341.7 1263.7M1926.9 859.8L1911.7 857.5M1502 866.9L1512.2 864.3M1964.6 871.9L1955.7 851.5M1747.3 999.7L1732.4 983.1M1677.9 1293.1L1685.5 1288.5M1936.4 1374.8L1954.9 1357.4M1553.6 979.6L1549.1 975.5M1327.9 1119.4L1340 1115.8M1933 1447.4L1950.8 1435.2M1432.9 917.8L1432.5 904.3M1779.9 900.1L1769.2 879.9M1871.7 1438.4L1869.8 1428.2M1486.3 956L1482.1 942.4M1765.3 777L1761.7 769.2M1562.7 1383.9L1555.7 1375.5M1468.6 1238.4L1443.5 1232.7M1876.7 1224.6L1880 1210.4M1585.2 903.8L1594.2 894.2M1319.6 850.5L1310.2 847.6M1922.5 797.7L1920.8 789.3M1531.9 1454.1L1532.3 1446.8M1696.6 1151.9L1679.2 1137.7M1374.5 993L1374.5 967.1M1887.6 811.2L1882.7 792.7M1442.9 1329.4L1435.8 1321.6M1701.6 1290.9L1709.4 1284M1645.3 893.2L1650.6 890.3M1575.4 1415.1L1582.8 1405.8M1486.8 948.5L1500.8 935.2M1800.1 1331.4L1781.2 1315.3M1801.1 1123.2L1787.6 1120M1792.8 1100.3L1788.9 1074.2M1621.6 983L1626.7 977.5M1516 961.7L1529.2 937.3M1361.5 870.1L1358.9 849.7M1513.3 1258.2L1492.4 1239.4M1772.6 1294.4L1777.1 1282.1M1392.9 823.1L1363.3 814.8M1940.5 1233.4L1940.3 1221.3M1957.7 1406.4L1961.5 1376.4M1890.2 1015.8L1884.2 1006.5M1691.7 1013.6L1692.9 1006.9M1524.7 820.9L1527 800.9M1881.5 841.6L1893.8 833.6M1459.4 1228.3L1468.9 1215.1M1643.7 1213.3L1642.6 1182.1M1884.4 1413L1894 1404M1515.2 805.9L1522.4 789.5M1784.3 828.4L1769.5 807.5M1700.1 1297.4L1703.2 1285.1M1686.1 770.8L1685.6 745.2M1318.8 775.7L1303.1 769.7M1754 940.2L1751.9 924.2M1850 1398.2L1852.2 1380.3M1486.2 1080.3L1495.1 1056.2M1813.8 1072.2L1805.6 1071.3M1327.7 1422.6L1330.9 1417.5M1510 1083L1504.7 1072M1834.8 1177.9L1822.6 1168.9M1856.1 1295.8L1856.6 1287.8M1649.9 1105.3L1647.1 1092.8M1704.7 865.5L1680.4 859.2M1959 839.7L1959 829.4M1330.6 1373.2L1327.7 1359.5M1354.2 1370.6L1361 1364.9M1529.9 1227.7L1512 1203.9M1498.5 850.2L1485.5 830.1M1635.4 1319.8L1627.2 1319.3M1794.1 1010.3L1810.5 984.4M1786.1 1216.4L1793.3 1215.8M1855.5 1160.3L1865.9 1157M1951.7 1092.2L1942.3 1075.7M1344.5 1251.2L1341.4 1246.1M1661.4 839.7L1661.6 833M1490.9 1433.3L1491.3 1404.2M1522.2 1172.8L1511.1 1147.8M1657.8 1285.1L1651.3 1281.3M1843.1 1438.2L1820 1434.1M1442.9 1114.3L1435.7 1088.4M1579.5 826.4L1572.4 818.5M1971.4 1051L1972.4 1044.4M1591 902.2L1612.9 897.2M1676.9 1241.1L1676.9 1232.5M1745.2 825.8L1754.8 812.7M1951.6 1199.3L1949.1 1190.8M1325.6 845.6L1331.3 842.7M1780.6 1441.9L1762.5 1424.3M1843.3 1358.4L1826.8 1343.2M1592.4 1024.4L1582.2 1018.5M1783.2 1216.3L1794.5 1213.9M1928.9 806L1925.2 775.6M1949.3 969.2L1930 946.2M1693.4 1308.8L1690.2 1303.6M1829.6 933.1L1836.2 931M1519 1066.3L1504.7 1044.8M1829 1036.8L1833.9 1026.8M1686.1 805.5L1684.2 797.9M1775.4 1268.4L1757.5 1246M1450.9 1232.9L1445.1 1220.9" stroke="#160408" stroke-width="3.0" stroke-linecap="round" fill="none"/>
<path d="M1757.6 1055.7L1779.1 1051.7M1930.8 875.4L1937.1 874.9M1767.2 1442.6L1737.3 1441.5M1834 947.8L1847.3 923.2M1431.6 975.6L1441.7 954.7M1348 1208.9L1342.4 1193.7M1538.3 1304L1534.3 1299.3M1644.6 908.7L1646 902.5M1460.8 964.8L1454.9 950.1M1292.4 1324.7L1276.7 1301.5M1680.9 1465.2L1662.8 1445.2M1950.4 767.9L1960 747.3M1714 860.4L1719 850.7M1558.3 1362.2L1562.4 1352.7M1380.6 1147.4L1381.7 1141.3M1566.8 1100.1L1573.2 1089.9M1868.2 1304.6L1867.9 1282.3M1595 1277L1614.5 1259.9M1725.5 1348L1749.5 1341.2M1853.7 1263.1L1871 1237.5M1396.2 1000.5L1373.8 993.4M1320.7 1094.8L1322.4 1064.9M1587.1 1378.5L1595.1 1377.6M1573.5 1465.9L1573.2 1454.2M1765.9 1212.1L1763.3 1182.2M1520.2 1286.7L1527.1 1280.4M1942.6 1242.1L1963.7 1227.3M1536.6 1403.1L1551.6 1377.7M1475.5 921.5L1465.2 919.2M1792.3 1085.7L1765.5 1079.5M1598.7 1365.3L1581.9 1347.4M1965 1166.3L1960.1 1158.1M1844.2 1137.7L1835.5 1128.8M1809.8 864.9L1805.3 858.7M1339.2 934.8L1343.3 910.4M1344.7 792.2L1349.3 778.2M1520.4 1416.9L1513.7 1412.1M1945.7 1274L1941.6 1264.3M1911.3 1215.7L1935.7 1215.5M1957.2 1133L1968.6 1120.2M1670.8 806L1671.6 799.8M1965.1 1302.2L1963.2 1289.5M1954.7 1459.9L1967 1437.6M1290 882.7L1296.1 868.9M1455.8 891L1436.1 873M1948.4 889.1L1944.7 874.9M1528.6 891.5L1532.5 884.9M1800.4 1364.6L1807.8 1354.2M1959.3 992L1960.5 985.9M1651.2 1232.9L1658.5 1228.1M1636.4 849.8L1627.3 829M1311.1 775.9L1287.1 768.7M1749.5 819.1L1749.2 812.8M1635 1203.7L1641.6 1195.8M1519.3 1168.8L1516.7 1161.2M1357.3 901.9L1350.2 879.3M1330.7 806.9L1316.5 790.1M1906.1 1008.4L1908.9 1000.2M1971.1 1264L1968.7 1257.9M1492.9 845.6L1491.5 834M1839 1382.7L1853.5 1375M1303 938L1308.4 919.2M1474.6 869.2L1473.6 859.3M1948.1 1399.4L1946.4 1381.5M1797 1206.6L1772.4 1196.4M1336.7 1440.4L1344 1432.7M1319.1 1271L1316.1 1258M1629.4 1180.5L1633.8 1169.9M1930.2 1293.6L1926.3 1271.3M1524.5 1058.8L1511.7 1042.9M1895.3 1192.8L1865.1 1187.6M1625.7 1300.6L1613.9 1279.1M1289.2 839.7L1275.9 825.4M1731 770.1L1732.7 759.5M1696.4 1070L1691.4 1043.4M1521 1362.1L1520.9 1335.6M1452.1 944.4L1437.8 936.9M1968.5 1454.2L1969.6 1440.8M1455.4 1458L1477.3 1453.3M1615.6 1059.8L1622.6 1058.6M1824.1 814.5L1837.7 800.4M1392 910.7L1371.7 892.1M1842.2 949.3L1817.2 932.2M1755.3 1355.8L1742.5 1352M1572.8 1413.5L1582 1408.3M1732.9 927.8L1731.2 918.7M1336.5 1331.2L1343.6 1305M1462.7 1159.2L1460.5 1149.7M1663 771.1L1671.2 769.1M1304.2 1367.4L1299.3 1355.8M1720.4 1031.1L1722.6 1018.1M1730.5 1256.6L1736.4 1248.1M1340.5 1295.3L1348.2 1272.8M1272.1 819.7L1287.2 803.8M1937.9 926.5L1941.4 908M1391 1408.2L1398.7 1391.6M1964.4 877.6L1965.3 871.6" stroke="#160408" stroke-width="3.4" stroke-linecap="round" fill="none"/>
<path d="M1702.2 1291.8L1709.3 1278.1M1416.4 1326.3L1414.5 1319.4M1711.2 1259.1L1709.3 1230.2M1722.6 902.5L1740.5 882.1M1594.3 803.7L1581.9 774.9M1727.2 1061.5L1723.8 1036.8M1285.4 1433.6L1303 1419.9M1777.9 973.2L1754.4 973M1501.3 822.6L1514.3 805.5M1476.8 1144.9L1478.6 1138.9M1574.7 1264L1583.8 1243.3" stroke="#160408" stroke-width="3.8" stroke-linecap="round" fill="none"/>
</g></g>
<rect x="1266.3" y="757.6" width="703.4" height="702.9" fill="none" stroke="#2a0c0c" stroke-width="2.2"/>
<line x1="1247.3" y1="1460.5" x2="1266.3" y2="1460.5" stroke="#222" stroke-width="2.2"/>
<text x="1221.0" y="1471.8" font-family="'Liberation Sans', Arial, Helvetica, sans-serif" font-size="32" font-weight="bold" text-anchor="middle" fill="#000" >0</text>
<line x1="1266.3" y1="1460.5" x2="1266.3" y2="1479.5" stroke="#222" stroke-width="2.2"/>
<text x="1266.3" y="1514.0" font-family="'Liberation Sans', Arial, Helvetica, sans-serif" font-size="32" font-weight="bold" text-anchor="middle" fill="#000" >0</text>
<line x1="1247.3" y1="1319.9" x2="1266.3" y2="1319.9" stroke="#222" stroke-width="2.2"/>
<text x="1221.0" y="1331.2" font-family="'Liberation Sans', Arial, Helvetica, sans-serif" font-size="32" font-weight="bold" text-anchor="middle" fill="#000" >2</text>
<line x1="1407.0" y1="1460.5" x2="1407.0" y2="1479.5" stroke="#222" stroke-width="2.2"/>
<text x="1407.0" y="1514.0" font-family="'Liberation Sans', Arial, Helvetica, sans-serif" font-size="32" font-weight="bold" text-anchor="middle" fill="#000" >2</text>
<line x1="1247.3" y1="1179.3" x2="1266.3" y2="1179.3" stroke="#222" stroke-width="2.2"/>
<text x="1221.0" y="1190.6" font-family="'Liberation Sans', Arial, Helvetica, sans-serif" font-size="32" font-weight="bold" text-anchor="middle" fill="#000" >4</text>
<line x1="1547.7" y1="1460.5" x2="1547.7" y2="1479.5" stroke="#222" stroke-width="2.2"/>
<text x="1547.7" y="1514.0" font-family="'Liberation Sans', Arial, Helvetica, sans-serif" font-size="32" font-weight="bold" text-anchor="middle" fill="#000" >4</text>
<line x1="1247.3" y1="1038.8" x2="1266.3" y2="1038.8" stroke="#222" stroke-width="2.2"/>
<text x="1221.0" y="1050.1" font-family="'Liberation Sans', Arial, Helvetica, sans-serif" font-size="32" font-weight="bold" text-anchor="middle" fill="#000" >6</text>
<line x1="1688.3" y1="1460.5" x2="1688.3" y2="1479.5" stroke="#222" stroke-width="2.2"/>
<text x="1688.3" y="1514.0" font-family="'Liberation Sans', Arial, Helvetica, sans-serif" font-size="32" font-weight="bold" text-anchor="middle" fill="#000" >6</text>
<line x1="1247.3" y1="898.2" x2="1266.3" y2="898.2" stroke="#222" stroke-width="2.2"/>
<text x="1221.0" y="909.5" font-family="'Liberation Sans', Arial, Helvetica, sans-serif" font-size="32" font-weight="bold" text-anchor="middle" fill="#000" >8</text>
<line x1="1829.0" y1="1460.5" x2="1829.0" y2="1479.5" stroke="#222" stroke-width="2.2"/>
<text x="1829.0" y="1514.0" font-family="'Liberation Sans', Arial, Helvetica, sans-serif" font-size="32" font-weight="bold" text-anchor="middle" fill="#000" >8</text>
<line x1="1247.3" y1="757.6" x2="1266.3" y2="757.6" stroke="#222" stroke-width="2.2"/>
<text x="1221.0" y="768.9" font-family="'Liberation Sans', Arial, Helvetica, sans-serif" font-size="32" font-weight="bold" text-anchor="middle" fill="#000" >10</text>
<line x1="1969.7" y1="1460.5" x2="1969.7" y2="1479.5" stroke="#222" stroke-width="2.2"/>
<text x="1969.7" y="1514.0" font-family="'Liberation Sans', Arial, Helvetica, sans-serif" font-size="32" font-weight="bold" text-anchor="middle" fill="#000" >10</text>
<text x="1616.8" y="1550.3" font-size="40" text-anchor="middle"><tspan font-family="'Liberation Serif', 'Times New Roman', serif" font-weight="normal" font-size="35.3">&#181;</tspan><tspan font-family="'Liberation Sans', Arial, Helvetica, sans-serif" font-weight="bold" font-size="38">m</tspan></text>
<text transform="translate(1192.7,1108.3) rotate(-90)" x="0" y="0" font-size="40" text-anchor="middle"><tspan font-family="'Liberation Serif', 'Times New Roman', serif" font-weight="normal" font-size="35.3">&#181;</tspan><tspan font-family="'Liberation Sans', Arial, Helvetica, sans-serif" font-weight="bold" font-size="38">m</tspan></text>
<rect x="2035.6" y="911.8" width="38.90000000000009" height="496.20000000000005" fill="url(#cbd)" stroke="#666" stroke-width="1.5"/>
<line x1="2035.6" y1="948.5" x2="2074.5" y2="948.5" stroke="#2a1a10" stroke-width="2.5"/>
<text x="2086.0" y="957.7" font-family="'Liberation Sans', Arial, Helvetica, sans-serif" font-size="33" font-weight="bold" text-anchor="start" fill="#000" >172</text>
<line x1="2035.6" y1="1057.6" x2="2074.5" y2="1057.6" stroke="#2a1a10" stroke-width="2.5"/>
<text x="2086.0" y="1066.8" font-family="'Liberation Sans', Arial, Helvetica, sans-serif" font-size="33" font-weight="bold" text-anchor="start" fill="#000" >171</text>
<line x1="2035.6" y1="1166.7" x2="2074.5" y2="1166.7" stroke="#2a1a10" stroke-width="2.5"/>
<text x="2086.0" y="1175.9" font-family="'Liberation Sans', Arial, Helvetica, sans-serif" font-size="33" font-weight="bold" text-anchor="start" fill="#000" >170</text>
<line x1="2035.6" y1="1276.5" x2="2074.5" y2="1276.5" stroke="#2a1a10" stroke-width="2.5"/>
<text x="2086.0" y="1285.7" font-family="'Liberation Sans', Arial, Helvetica, sans-serif" font-size="33" font-weight="bold" text-anchor="start" fill="#000" >169</text>
<line x1="2035.6" y1="1384.4" x2="2074.5" y2="1384.4" stroke="#2a1a10" stroke-width="2.5"/>
<text x="2086.0" y="1393.6" font-family="'Liberation Sans', Arial, Helvetica, sans-serif" font-size="33" font-weight="bold" text-anchor="start" fill="#000" >168</text>
<text x="2055.1" y="896.3" font-family="'Liberation Sans', Arial, Helvetica, sans-serif" font-size="32" font-weight="bold" text-anchor="middle" fill="#000" >nm</text>
<text x="1106.0" y="825.0" font-family="'Liberation Sans', Arial, Helvetica, sans-serif" font-size="86" font-weight="bold" text-anchor="start" fill="#000" >d</text>
<text x="1159.0" y="825.0" font-family="'Liberation Sans', Arial, Helvetica, sans-serif" font-size="86" font-weight="bold" text-anchor="start" fill="#000" >)</text>
<path d="M161.4,1917.8 L171.1,1903.9 L176.7,1881.7 L180.8,1834.4 L183.6,1765.0 L186.4,1723.3 L189.2,1667.8 L191.9,1676.1 L193.3,1717.8 L197.5,1756.7 L200.3,1806.7 L203.1,1862.2 L205.8,1903.9 L207.2,1940.0 L210.0,1978.9 L212.8,2034.4 L214.2,2084.4 L216.9,2159.4 L221.1,2140.0 L225.3,2126.1 L228.1,2084.4 L230.8,2017.8 L237.8,2012.2 L241.9,1973.3 L244.7,1945.6 L250.3,1931.7 L255.8,1920.6 L262.8,1915.0 L268.3,1901.1 L271.1,1884.4 L275.3,1856.7 L280.0,1783.0 L283.6,1806.7 L285.0,1856.7 L286.4,1917.8 L287.8,1973.3 L289.2,2023.3 L295.6,2078.9 L298.9,2042.8 L300.3,2001.1 L303.1,1953.9 L307.2,1934.4 L311.4,1920.6 L316.9,1912.2 L321.1,1890.0 L325.3,1862.2 L330.3,1800.6 L333.6,1856.7 L337.8,1903.9 L340.6,1945.6 L341.9,2001.1 L344.7,2084.4 L348.9,2042.8 L351.7,1973.3 L354.4,1934.4 L360.0,1931.7 L362.8,1876.1 L368.3,1851.1 L373.9,1835.8 L376.7,1890.0 L379.4,1934.4 L380.8,2001.1 L381.7,2067.8 L385.0,2028.9 L387.8,1973.3 L391.9,1940.0 L398.6,1917.8 L403.9,1906.7 L409.4,1890.0 L413.6,1851.1 L417.8,1795.6 L420.6,1756.7 L423.3,1748.3 L426.1,1770.6 L428.9,1812.2 L431.1,1856.7 L433.1,1890.0 L434.4,1931.7 L435.8,1967.8 L437.2,2006.7 L440.0,2051.1 L444.2,2123.3 L446.9,2101.1 L449.7,2056.7 L452.5,2015.0 L455.3,1973.3 L458.1,1940.0 L462.2,1928.9 L467.8,1923.3 L474.7,1917.8 L480.3,1906.7 L484.4,1881.7 L488.6,1840.0 L491.4,1806.7 L494.2,1756.7 L496.9,1723.3 L500.6,1671.9 L502.5,1671.9 L503.9,1723.3 L505.3,1778.9 L506.7,1828.9 L508.1,1890.0 L508.1,1931.7 L508.1,2001.1 L510.8,2062.2 L515.0,2112.2 L516.4,2167.8 L519.2,2140.0 L521.9,2084.4 L524.7,2042.8 L526.1,2001.1 L527.5,1959.4 L530.3,1940.0 L534.4,1931.7 L541.4,1926.1 L548.3,1912.2 L553.9,1890.0 L558.1,1856.7 L560.8,1817.8 L564.4,1785.8 L567.8,1795.6 L569.2,1834.4 L571.9,1876.1 L573.3,1906.7 L573.9,1945.6 L575.6,2001.1 L579.4,2095.6 L583.1,2056.7 L585.8,2015.0 L588.6,1973.3 L592.8,1940.0 L596.9,1931.7 L606.7,1931.7 L617.8,1933.0 L620.0,1931.7 L647.8,1931.7 L668.6,1930.3 L675.6,1920.6 L682.5,1909.4 L686.7,1890.0 L689.4,1862.2 L692.2,1820.6 L695.6,1792.8 L699.7,1778.9 L702.5,1790.0 L703.3,1834.4 L703.3,1890.0 L702.8,1931.7 L703.9,1959.4 L704.7,2001.1 L706.1,2042.8 L706.9,2084.4 L710.3,2070.6 L714.4,2028.9 L717.2,2001.1 L720.0,1973.3 L722.8,1945.6 L725.6,1934.4 L729.7,1923.3 L735.3,1912.2 L739.4,1890.0 L743.6,1862.2 L747.8,1820.6 L751.9,1792.8 L756.1,1780.3 L758.9,1795.6 L760.3,1834.4 L761.7,1890.0 L761.7,1931.7 L760.3,1973.3 L760.3,2028.9 L763.1,2084.4 L763.9,2109.4 L767.2,2084.4 L770.0,2042.8 L771.4,2001.1 L774.2,1973.3 L776.9,1945.6 L781.1,1937.2 L786.7,1934.4 L795.0,1931.7 L814.4,1926.1 L825.6,1920.6 L833.9,1915.0 L840.0,1906.7 L845.6,1876.1 L849.7,1859.4 L853.9,1870.6 L856.7,1890.0 L858.1,1917.8 L859.4,1959.4 L860.8,2015.0 L863.6,2059.4 L866.4,2028.9 L869.2,1987.2 L871.9,1959.4 L874.7,1931.7 L877.5,1917.8 L884.4,1920.6 L892.8,1928.9 L903.9,1931.7 L915.0,1930.3 L926.1,1926.1 L937.2,1923.3 L945.6,1912.2 L949.7,1901.1 L953.9,1876.1 L956.7,1848.3 L959.4,1812.2 L962.2,1778.9 L965.0,1792.8 L966.4,1834.4 L967.8,1890.0 L968.3,1931.7 L969.2,1973.3 L970.6,2015.0 L973.3,2051.1 L976.1,2090.0 L978.9,2056.7 L980.3,2015.0 L981.7,1987.2 L984.4,1967.8 L987.2,1945.6 L991.4,1931.7 L998.3,1928.9 L1006.7,1927.5 L1013.6,1920.6 L1019.2,1906.7 L1023.3,1881.7 L1027.5,1851.1 L1031.7,1820.6 L1034.4,1787.2 L1038.6,1728.9 L1041.4,1728.9 L1044.2,1792.8 L1045.6,1862.2 L1045.6,1917.8 L1046.1,1959.4 L1046.9,2001.1 L1048.3,2042.8 L1051.1,2084.4 L1055.3,2109.4 L1059.4,2084.4 L1062.2,2028.9" fill="none" stroke="#f40000" stroke-width="8" stroke-linejoin="round" stroke-linecap="round"/>
<line x1="501.6" y1="1676" x2="502" y2="1738" stroke="#f40000" stroke-width="9" stroke-linecap="round"/>
<line x1="189.6" y1="1672" x2="190" y2="1712" stroke="#f40000" stroke-width="8" stroke-linecap="round"/>
<line x1="217.6" y1="2155" x2="218" y2="2122" stroke="#f40000" stroke-width="8" stroke-linecap="round"/>
<line x1="516.5" y1="2163" x2="516.2" y2="2112" stroke="#f40000" stroke-width="8" stroke-linecap="round"/>
<line x1="1040" y1="1733" x2="1040.4" y2="1788" stroke="#f40000" stroke-width="9" stroke-linecap="round"/>
<line x1="1055" y1="2105" x2="1054.2" y2="2072" stroke="#f40000" stroke-width="8" stroke-linecap="round"/>
<line x1="161.7" y1="1925.2" x2="1065.3" y2="1925.2" stroke="#000" stroke-width="8.5"/>
<rect x="161.7" y="1587.6" width="903.5999999999999" height="674.4000000000001" fill="none" stroke="#000" stroke-width="8"/>
<line x1="144.3" y1="2262.0" x2="161.7" y2="2262.0" stroke="#000" stroke-width="7"/>
<text x="137.2" y="2274.0" font-family="'Liberation Sans', Arial, Helvetica, sans-serif" font-size="46" font-weight="bold" text-anchor="end" fill="#000" >-6</text>
<line x1="150.9" y1="2205.8" x2="161.7" y2="2205.8" stroke="#000" stroke-width="7"/>
<line x1="144.3" y1="2149.6" x2="161.7" y2="2149.6" stroke="#000" stroke-width="7"/>
<text x="137.2" y="2161.6" font-family="'Liberation Sans', Arial, Helvetica, sans-serif" font-size="46" font-weight="bold" text-anchor="end" fill="#000" >-4</text>
<line x1="150.9" y1="2093.4" x2="161.7" y2="2093.4" stroke="#000" stroke-width="7"/>
<line x1="144.3" y1="2037.2" x2="161.7" y2="2037.2" stroke="#000" stroke-width="7"/>
<text x="137.2" y="2049.2" font-family="'Liberation Sans', Arial, Helvetica, sans-serif" font-size="46" font-weight="bold" text-anchor="end" fill="#000" >-2</text>
<line x1="150.9" y1="1981.0" x2="161.7" y2="1981.0" stroke="#000" stroke-width="7"/>
<line x1="144.3" y1="1924.8" x2="161.7" y2="1924.8" stroke="#000" stroke-width="7"/>
<text x="137.2" y="1936.8" font-family="'Liberation Sans', Arial, Helvetica, sans-serif" font-size="46" font-weight="bold" text-anchor="end" fill="#000" >0</text>
<line x1="150.9" y1="1868.6" x2="161.7" y2="1868.6" stroke="#000" stroke-width="7"/>
<line x1="144.3" y1="1812.4" x2="161.7" y2="1812.4" stroke="#000" stroke-width="7"/>
<text x="137.2" y="1824.4" font-family="'Liberation Sans', Arial, Helvetica, sans-serif" font-size="46" font-weight="bold" text-anchor="end" fill="#000" >2</text>
<line x1="150.9" y1="1756.2" x2="161.7" y2="1756.2" stroke="#000" stroke-width="7"/>
<line x1="144.3" y1="1700.0" x2="161.7" y2="1700.0" stroke="#000" stroke-width="7"/>
<text x="137.2" y="1712.0" font-family="'Liberation Sans', Arial, Helvetica, sans-serif" font-size="46" font-weight="bold" text-anchor="end" fill="#000" >4</text>
<line x1="150.9" y1="1643.8" x2="161.7" y2="1643.8" stroke="#000" stroke-width="7"/>
<line x1="144.3" y1="1587.6" x2="161.7" y2="1587.6" stroke="#000" stroke-width="7"/>
<text x="137.2" y="1599.6" font-family="'Liberation Sans', Arial, Helvetica, sans-serif" font-size="46" font-weight="bold" text-anchor="end" fill="#000" >6</text>
<line x1="161.7" y1="2262" x2="161.7" y2="2278" stroke="#000" stroke-width="7.5"/>
<text x="161.7" y="2317.5" font-family="'Liberation Sans', Arial, Helvetica, sans-serif" font-size="46" font-weight="bold" text-anchor="middle" fill="#000" >0</text>
<line x1="252.1" y1="2262" x2="252.1" y2="2272.5" stroke="#000" stroke-width="7.5"/>
<line x1="342.4" y1="2262" x2="342.4" y2="2278" stroke="#000" stroke-width="7.5"/>
<text x="342.4" y="2317.5" font-family="'Liberation Sans', Arial, Helvetica, sans-serif" font-size="46" font-weight="bold" text-anchor="middle" fill="#000" >1</text>
<line x1="432.8" y1="2262" x2="432.8" y2="2272.5" stroke="#000" stroke-width="7.5"/>
<line x1="523.1" y1="2262" x2="523.1" y2="2278" stroke="#000" stroke-width="7.5"/>
<text x="523.1" y="2317.5" font-family="'Liberation Sans', Arial, Helvetica, sans-serif" font-size="46" font-weight="bold" text-anchor="middle" fill="#000" >2</text>
<line x1="613.5" y1="2262" x2="613.5" y2="2272.5" stroke="#000" stroke-width="7.5"/>
<line x1="703.9" y1="2262" x2="703.9" y2="2278" stroke="#000" stroke-width="7.5"/>
<text x="703.9" y="2317.5" font-family="'Liberation Sans', Arial, Helvetica, sans-serif" font-size="46" font-weight="bold" text-anchor="middle" fill="#000" >3</text>
<line x1="794.2" y1="2262" x2="794.2" y2="2272.5" stroke="#000" stroke-width="7.5"/>
<line x1="884.6" y1="2262" x2="884.6" y2="2278" stroke="#000" stroke-width="7.5"/>
<text x="884.6" y="2317.5" font-family="'Liberation Sans', Arial, Helvetica, sans-serif" font-size="46" font-weight="bold" text-anchor="middle" fill="#000" >4</text>
<line x1="974.9" y1="2262" x2="974.9" y2="2272.5" stroke="#000" stroke-width="7.5"/>
<line x1="1065.3" y1="2262" x2="1065.3" y2="2278" stroke="#000" stroke-width="7.5"/>
<text x="1065.3" y="2317.5" font-family="'Liberation Sans', Arial, Helvetica, sans-serif" font-size="46" font-weight="bold" text-anchor="middle" fill="#000" >5</text>
<text transform="translate(72.5,1906.5) rotate(-90)" font-family="'Liberation Sans', Arial, Helvetica, sans-serif" font-weight="bold" font-size="58" text-anchor="middle" textLength="313" lengthAdjust="spacingAndGlyphs">Height (nm)</text>
<text x="610.4" y="2382.5" font-size="57.6" font-weight="bold" text-anchor="middle" font-family="'Liberation Sans', Arial, Helvetica, sans-serif">Z (<tspan font-family="'Liberation Serif', 'Times New Roman', serif">&#181;</tspan>m)</text>
<text x="17.0" y="1639.0" font-family="'Liberation Sans', Arial, Helvetica, sans-serif" font-size="86" font-weight="bold" text-anchor="start" fill="#000" >e</text>
<text x="68.0" y="1639.0" font-family="'Liberation Sans', Arial, Helvetica, sans-serif" font-size="86" font-weight="bold" text-anchor="start" fill="#000" >)</text>
<path d="M1256.0,1920.1 L1266.4,1930.6 L1279.8,1923.1 L1297.6,1927.6 L1309.6,1921.6 L1318.5,1927.6 L1333.4,1923.1 L1345.3,1929.1 L1357.2,1924.6 L1369.1,1921.6 L1381.0,1927.6 L1390.0,1929.1 L1398.9,1921.6 L1406.3,1912.7 L1409.3,1882.9 L1410.8,1838.2 L1413.8,1784.6 L1415.3,1704.2 L1419.1,1649.1 L1423.3,1655.1 L1425.7,1713.2 L1427.2,1778.7 L1428.7,1868.0 L1428.7,1942.5 L1431.7,1987.1 L1434.6,2031.8 L1439.1,2076.5 L1443.6,2106.3 L1447.1,2142.0 L1449.5,2082.4 L1452.5,2064.6 L1458.5,2076.5 L1459.9,2046.7 L1462.9,2011.0 L1465.9,1972.2 L1468.9,1927.6 L1471.9,1882.9 L1475.4,1850.1 L1477.8,1856.1 L1479.3,1897.8 L1480.8,1957.4 L1482.9,2016.9 L1485.3,1987.1 L1487.4,1927.6 L1491.9,1882.9 L1496.4,1844.2 L1500.8,1832.3 L1503.8,1853.1 L1506.8,1897.8 L1509.8,1927.6 L1518.7,1927.6 L1530.6,1923.1 L1539.6,1926.1 L1551.5,1921.6 L1555.9,1918.6 L1558.0,1957.4 L1560.4,2016.9 L1564.9,2031.8 L1569.3,2002.0 L1570.8,1957.4 L1572.3,1918.6 L1578.3,1920.1 L1587.2,1924.6 L1599.1,1930.6 L1611.0,1926.1 L1620.0,1918.6 L1624.4,1897.8 L1625.9,1853.1 L1627.4,1808.5 L1628.9,1748.9 L1630.4,1674.4 L1633.4,1617.9 L1636.3,1617.9 L1637.8,1683.4 L1639.3,1763.8 L1640.8,1838.2 L1640.8,1897.8 L1640.2,1942.5 L1640.8,1987.1 L1642.3,2031.8 L1643.8,2076.5 L1646.8,2121.1 L1649.1,2171.8 L1652.7,2150.9 L1654.2,2106.3 L1655.7,2070.5 L1661.7,2058.6 L1666.1,2046.7 L1669.1,2002.0 L1670.6,1975.2 L1675.1,1975.2 L1678.0,1987.1 L1681.0,1957.4 L1684.9,1942.5 L1688.5,1972.2 L1692.0,2005.0 L1694.4,1972.2 L1697.4,1942.5 L1700.4,1915.7 L1706.3,1924.6 L1714.5,1918.6 L1718.9,1909.7 L1723.4,1882.9 L1726.4,1838.2 L1729.4,1778.7 L1732.3,1719.1 L1735.3,1659.6 L1738.3,1638.7 L1741.3,1659.6 L1744.2,1734.0 L1745.7,1823.3 L1746.3,1912.7 L1746.3,1972.2 L1748.1,2011.0 L1750.2,2034.8 L1754.1,2022.9 L1754.7,1927.6 L1756.2,1838.2 L1757.6,1778.7 L1760.6,1754.9 L1763.6,1784.6 L1765.1,1838.2 L1766.6,1897.8 L1768.1,1957.4 L1769.6,2016.9 L1771.0,2091.4 L1772.5,2150.9 L1775.5,2136.0 L1777.0,2076.5 L1778.5,1987.1 L1780.0,1927.6 L1782.1,1897.8 L1784.4,1903.8 L1785.9,1927.6 L1788.9,1924.6 L1808.3,1921.6 L1835.1,1921.6 L1864.9,1927.6 L1888.7,1921.6 L1915.5,1921.6 L1927.4,1927.6 L1936.3,1920.1 L1941.9,1903.8 L1944.9,1868.0 L1947.9,1838.2 L1950.8,1835.3 L1953.8,1844.2 L1956.8,1882.9 L1958.3,1912.7 L1958.3,1957.4 L1959.8,2002.0 L1961.9,2040.7 L1964.2,2016.9 L1965.7,1972.2 L1967.2,1942.5 L1970.2,1927.6 L1971.7,1921.6 L1989.6,1924.6 L2001.5,1930.6 L2019.3,1927.6 L2034.2,1920.1 L2049.1,1923.1 L2064.0,1920.1 L2078.9,1918.6 L2081.9,1882.9 L2084.9,1823.3 L2087.8,1763.8 L2090.8,1748.9 L2093.8,1778.7 L2095.3,1838.2 L2095.3,1897.8 L2095.3,1957.4 L2096.8,2016.9 L2098.3,2076.5 L2100.3,2100.3 L2104.2,2082.4 L2107.2,2016.9 L2108.7,1972.2 L2110.2,1927.6 L2111.7,1915.7 L2116.1,1927.6 L2126.5,1921.6 L2138.5,1921.6 L2150.4,1920.1 L2154.0,1920.1" fill="none" stroke="#f40000" stroke-width="8" stroke-linejoin="round" stroke-linecap="round"/>
<line x1="1420.8" y1="1655" x2="1421.5" y2="1800" stroke="#f40000" stroke-width="11" stroke-linecap="round"/>
<line x1="1634.9" y1="1622" x2="1635.5" y2="1818" stroke="#f40000" stroke-width="10" stroke-linecap="round"/>
<line x1="1738.7" y1="1645" x2="1739.2" y2="1770" stroke="#f40000" stroke-width="10" stroke-linecap="round"/>
<line x1="1648" y1="2166" x2="1647.2" y2="2085" stroke="#f40000" stroke-width="8" stroke-linecap="round"/>
<line x1="1760.8" y1="1759" x2="1761.2" y2="1828" stroke="#f40000" stroke-width="9" stroke-linecap="round"/>
<line x1="1772.5" y1="2146" x2="1772.2" y2="2082" stroke="#f40000" stroke-width="8" stroke-linecap="round"/>
<line x1="2091.2" y1="1754" x2="2092" y2="1828" stroke="#f40000" stroke-width="9" stroke-linecap="round"/>
<line x1="2100.2" y1="2096" x2="2099.5" y2="2045" stroke="#f40000" stroke-width="8" stroke-linecap="round"/>
<line x1="1253.3" y1="1925.2" x2="2156.5" y2="1925.2" stroke="#000" stroke-width="8.5"/>
<rect x="1253.3" y="1587.6" width="903.2" height="674.4000000000001" fill="none" stroke="#000" stroke-width="8"/>
<line x1="1235.9" y1="2262.0" x2="1253.3" y2="2262.0" stroke="#000" stroke-width="7"/>
<text x="1228.8" y="2274.0" font-family="'Liberation Sans', Arial, Helvetica, sans-serif" font-size="46" font-weight="bold" text-anchor="end" fill="#000" >-8</text>
<line x1="1242.5" y1="2219.8" x2="1253.3" y2="2219.8" stroke="#000" stroke-width="7"/>
<line x1="1235.9" y1="2177.7" x2="1253.3" y2="2177.7" stroke="#000" stroke-width="7"/>
<text x="1228.8" y="2189.7" font-family="'Liberation Sans', Arial, Helvetica, sans-serif" font-size="46" font-weight="bold" text-anchor="end" fill="#000" >-6</text>
<line x1="1242.5" y1="2135.6" x2="1253.3" y2="2135.6" stroke="#000" stroke-width="7"/>
<line x1="1235.9" y1="2093.4" x2="1253.3" y2="2093.4" stroke="#000" stroke-width="7"/>
<text x="1228.8" y="2105.4" font-family="'Liberation Sans', Arial, Helvetica, sans-serif" font-size="46" font-weight="bold" text-anchor="end" fill="#000" >-4</text>
<line x1="1242.5" y1="2051.2" x2="1253.3" y2="2051.2" stroke="#000" stroke-width="7"/>
<line x1="1235.9" y1="2009.1" x2="1253.3" y2="2009.1" stroke="#000" stroke-width="7"/>
<text x="1228.8" y="2021.1" font-family="'Liberation Sans', Arial, Helvetica, sans-serif" font-size="46" font-weight="bold" text-anchor="end" fill="#000" >-2</text>
<line x1="1242.5" y1="1966.9" x2="1253.3" y2="1966.9" stroke="#000" stroke-width="7"/>
<line x1="1235.9" y1="1924.8" x2="1253.3" y2="1924.8" stroke="#000" stroke-width="7"/>
<text x="1228.8" y="1936.8" font-family="'Liberation Sans', Arial, Helvetica, sans-serif" font-size="46" font-weight="bold" text-anchor="end" fill="#000" >0</text>
<line x1="1242.5" y1="1882.7" x2="1253.3" y2="1882.7" stroke="#000" stroke-width="7"/>
<line x1="1235.9" y1="1840.5" x2="1253.3" y2="1840.5" stroke="#000" stroke-width="7"/>
<text x="1228.8" y="1852.5" font-family="'Liberation Sans', Arial, Helvetica, sans-serif" font-size="46" font-weight="bold" text-anchor="end" fill="#000" >2</text>
<line x1="1242.5" y1="1798.3" x2="1253.3" y2="1798.3" stroke="#000" stroke-width="7"/>
<line x1="1235.9" y1="1756.2" x2="1253.3" y2="1756.2" stroke="#000" stroke-width="7"/>
<text x="1228.8" y="1768.2" font-family="'Liberation Sans', Arial, Helvetica, sans-serif" font-size="46" font-weight="bold" text-anchor="end" fill="#000" >4</text>
<line x1="1242.5" y1="1714.0" x2="1253.3" y2="1714.0" stroke="#000" stroke-width="7"/>
<line x1="1235.9" y1="1671.9" x2="1253.3" y2="1671.9" stroke="#000" stroke-width="7"/>
<text x="1228.8" y="1683.9" font-family="'Liberation Sans', Arial, Helvetica, sans-serif" font-size="46" font-weight="bold" text-anchor="end" fill="#000" >6</text>
<line x1="1242.5" y1="1629.8" x2="1253.3" y2="1629.8" stroke="#000" stroke-width="7"/>
<line x1="1235.9" y1="1587.6" x2="1253.3" y2="1587.6" stroke="#000" stroke-width="7"/>
<text x="1228.8" y="1599.6" font-family="'Liberation Sans', Arial, Helvetica, sans-serif" font-size="46" font-weight="bold" text-anchor="end" fill="#000" >8</text>
<line x1="1253.3" y1="2262" x2="1253.3" y2="2278" stroke="#000" stroke-width="7.5"/>
<text x="1253.3" y="2317.5" font-family="'Liberation Sans', Arial, Helvetica, sans-serif" font-size="46" font-weight="bold" text-anchor="middle" fill="#000" >0</text>
<line x1="1343.6" y1="2262" x2="1343.6" y2="2272.5" stroke="#000" stroke-width="7.5"/>
<line x1="1433.9" y1="2262" x2="1433.9" y2="2278" stroke="#000" stroke-width="7.5"/>
<text x="1433.9" y="2317.5" font-family="'Liberation Sans', Arial, Helvetica, sans-serif" font-size="46" font-weight="bold" text-anchor="middle" fill="#000" >1</text>
<line x1="1524.3" y1="2262" x2="1524.3" y2="2272.5" stroke="#000" stroke-width="7.5"/>
<line x1="1614.6" y1="2262" x2="1614.6" y2="2278" stroke="#000" stroke-width="7.5"/>
<text x="1614.6" y="2317.5" font-family="'Liberation Sans', Arial, Helvetica, sans-serif" font-size="46" font-weight="bold" text-anchor="middle" fill="#000" >2</text>
<line x1="1704.9" y1="2262" x2="1704.9" y2="2272.5" stroke="#000" stroke-width="7.5"/>
<line x1="1795.2" y1="2262" x2="1795.2" y2="2278" stroke="#000" stroke-width="7.5"/>
<text x="1795.2" y="2317.5" font-family="'Liberation Sans', Arial, Helvetica, sans-serif" font-size="46" font-weight="bold" text-anchor="middle" fill="#000" >3</text>
<line x1="1885.5" y1="2262" x2="1885.5" y2="2272.5" stroke="#000" stroke-width="7.5"/>
<line x1="1975.9" y1="2262" x2="1975.9" y2="2278" stroke="#000" stroke-width="7.5"/>
<text x="1975.9" y="2317.5" font-family="'Liberation Sans', Arial, Helvetica, sans-serif" font-size="46" font-weight="bold" text-anchor="middle" fill="#000" >4</text>
<line x1="2066.2" y1="2262" x2="2066.2" y2="2272.5" stroke="#000" stroke-width="7.5"/>
<line x1="2156.5" y1="2262" x2="2156.5" y2="2278" stroke="#000" stroke-width="7.5"/>
<text x="2156.5" y="2317.5" font-family="'Liberation Sans', Arial, Helvetica, sans-serif" font-size="46" font-weight="bold" text-anchor="middle" fill="#000" >5</text>
<text transform="translate(1157.1,1906.5) rotate(-90)" font-family="'Liberation Sans', Arial, Helvetica, sans-serif" font-weight="bold" font-size="58" text-anchor="middle" textLength="313" lengthAdjust="spacingAndGlyphs">Height (nm)</text>
<text x="1701.6" y="2378.5" font-size="57.6" font-weight="bold" text-anchor="middle" font-family="'Liberation Sans', Arial, Helvetica, sans-serif">Z (<tspan font-family="'Liberation Serif', 'Times New Roman', serif">&#181;</tspan>m)</text>
<text x="1118.0" y="1639.0" font-family="'Liberation Sans', Arial, Helvetica, sans-serif" font-size="86" font-weight="bold" text-anchor="start" fill="#000" >f</text>
<text x="1151.0" y="1639.0" font-family="'Liberation Sans', Arial, Helvetica, sans-serif" font-size="86" font-weight="bold" text-anchor="start" fill="#000" >)</text>
</svg>
</body></html>
